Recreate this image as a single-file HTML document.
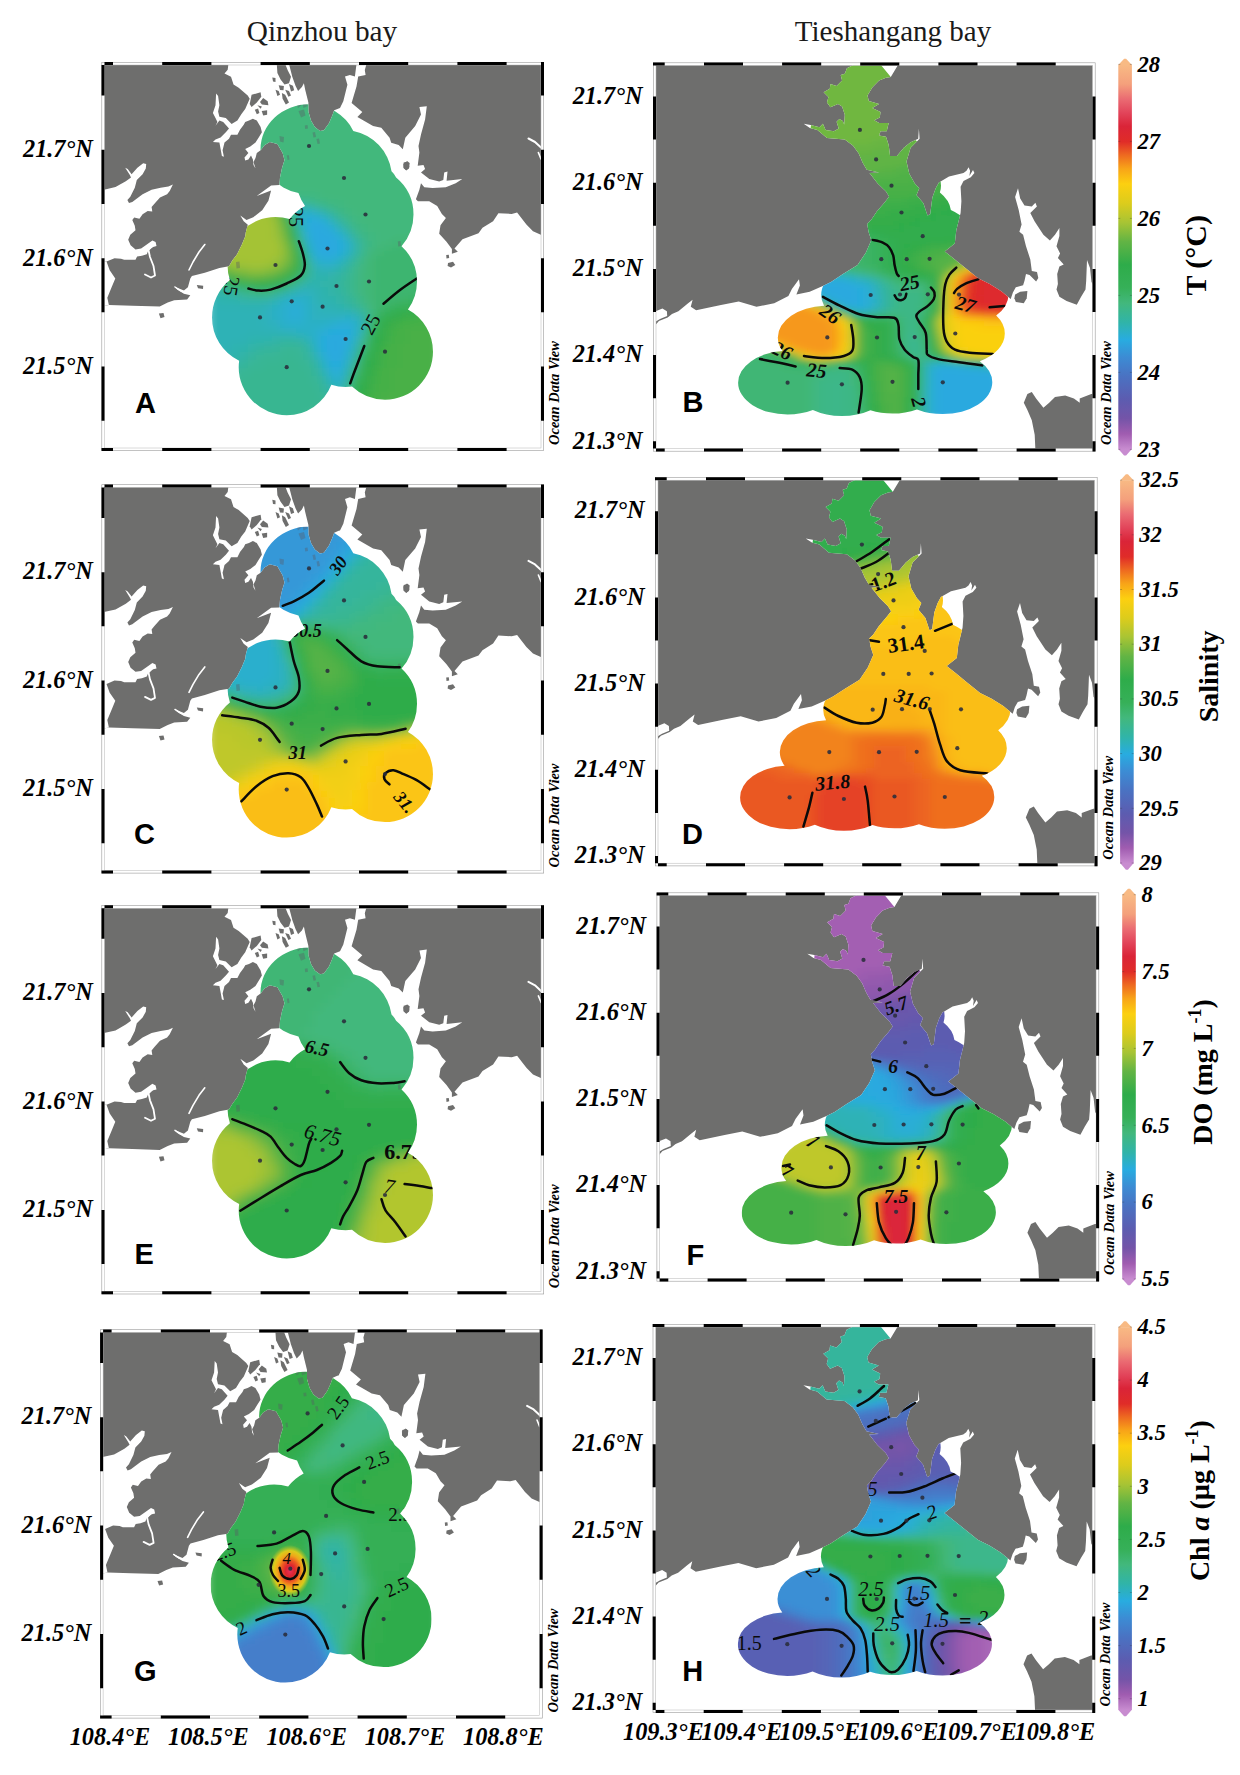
<!DOCTYPE html>
<html><head><meta charset="utf-8"><title>Figure</title>
<style>html,body{margin:0;padding:0;background:#fff}svg{display:block}.s{font-family:"Liberation Serif",serif}.a{font-family:"Liberation Sans",sans-serif;font-weight:bold;font-size:29px}.bi{font-family:"Liberation Serif",serif;font-weight:bold;font-style:italic}.ax{font-family:"Liberation Serif",serif;font-weight:bold;font-style:italic;font-size:24.3px}.odv{font-family:"Liberation Serif",serif;font-weight:bold;font-style:italic;font-size:14.5px}.cl{font-family:"Liberation Serif",serif;font-weight:bold;font-style:italic;font-size:22.6px}.ct{font-family:"Liberation Serif",serif;font-weight:bold;font-size:28px}</style></head><body>
<svg width="1240" height="1775" viewBox="0 0 1240 1775">
<defs>
<linearGradient id="cb" x1="0" y1="0" x2="0" y2="1"><stop offset="0" stop-color="#f8ba84"/><stop offset="0.05" stop-color="#f4a07c"/><stop offset="0.09" stop-color="#ea6a72"/><stop offset="0.125" stop-color="#e2445a"/><stop offset="0.16" stop-color="#da2438"/><stop offset="0.2" stop-color="#e02c28"/><stop offset="0.235" stop-color="#ee6a20"/><stop offset="0.27" stop-color="#f8a418"/><stop offset="0.31" stop-color="#fcd010"/><stop offset="0.36" stop-color="#dccc1c"/><stop offset="0.41" stop-color="#a8c434"/><stop offset="0.46" stop-color="#62b444"/><stop offset="0.52" stop-color="#2eac4a"/><stop offset="0.58" stop-color="#36b058"/><stop offset="0.62" stop-color="#42b87c"/><stop offset="0.67" stop-color="#30b4a8"/><stop offset="0.715" stop-color="#28ace0"/><stop offset="0.76" stop-color="#3c8cd4"/><stop offset="0.81" stop-color="#4a72c2"/><stop offset="0.87" stop-color="#5c5cb0"/><stop offset="0.92" stop-color="#7454a8"/><stop offset="0.96" stop-color="#a05cb0"/><stop offset="1" stop-color="#c88cd0"/></linearGradient>
<filter id="bq" x="-20%" y="-20%" width="140%" height="140%"><feGaussianBlur stdDeviation="5"/></filter>
<filter id="bt" x="-20%" y="-20%" width="140%" height="140%"><feGaussianBlur stdDeviation="5 3.5"/></filter>
<clipPath id="qw"><path d="M104 449 L104 306 L108.9 305 L132.3 305.8 L159.7 306.6 L167.7 302.6 L174.2 300.2 L187.1 299.4 L190.3 295.3 L183.9 293.7 L177.4 289.7 L174.2 286.5 L183.9 290.5 L187.9 287.3 L190.3 278.4 L191.9 276 L204.8 272.7 L219.4 267.9 L229 266.3 L232.3 260.6 L237.1 254.2 L241.9 244.5 L245.2 236.5 L245.8 232.3 L247.8 224.7 L243.7 221.3 L240.3 215.5 L246.5 219.9 L253.3 217.2 L262.2 210.3 L268.4 200.7 L271.1 190.4 L256.7 195.9 L271.1 185.4 L279.4 185 L280 177.4 L282 168 L284.5 160 L282.6 152.9 L277.4 143.9 L269.7 141.9 L264.5 145.2 L260.6 150.3 L256.8 152.9 L255.5 158.1 L253.5 161.9 L255.5 168.4 L253.5 165 L252.9 159.4 L251 155.5 L248.4 159.4 L245.2 160.6 L244.5 157.4 L248.4 152.9 L245.2 149 L250.3 146.5 L255.5 142.6 L258.7 137.4 L261.9 132.3 L260.6 127.1 L256.8 120.6 L252.9 118.7 L249 120.6 L245.2 121.9 L243.9 124.5 L240 129.7 L237.4 134.8 L231 134.8 L229 138.7 L224.5 142.6 L222.6 150.3 L223.9 156.8 L221.9 156.1 L220.6 149 L219.4 142.6 L212.9 141.9 L215.5 139.4 L220.6 137.4 L225.8 132.3 L229 128.4 L223.2 121.9 L219.4 120.6 L215.5 125.8 L217.4 121.9 L215.5 118.1 L212.9 112.9 L215.5 105.2 L216.1 93.5 L218.1 96.1 L219.4 105.2 L218.1 111.6 L219.4 116.8 L225.8 118.1 L231.6 123.9 L237.4 120.6 L241.3 114.2 L245.2 109 L249.7 98.7 L247.7 95.5 L238.7 87.7 L233.5 84.5 L231 76.8 L224.5 73.5 L227.7 69.7 L228.4 64 L276.8 64 L277.4 72.9 L280.6 79.4 L284.5 84.5 L289 83.2 L291 76.8 L287.7 70.3 L285.2 64 L289 64 L292.3 76.8 L295.5 85.8 L298.1 91 L301.9 87.1 L303.9 83.2 L305.2 89.7 L308.4 102.6 L308.4 111.6 L311 120.6 L314.8 127.1 L320 131 L323.9 130.3 L329 123.2 L332.3 115.5 L334.2 110.3 L338.7 108.4 L340 108 L343.3 101.3 L347.4 84.8 L345 76.5 L349.9 74.9 L354.9 76.5 L356.5 64 L366.5 64 L364.8 70 L365.6 74.9 L358.2 76.5 L356.5 86.5 L351.6 103 L362.3 112 L357.4 117 L373.1 126.1 L381.3 127.8 L389.6 137.7 L391.2 142.7 L398.7 145.1 L402.8 149.3 L405.3 137.7 L415.2 126.1 L421 114.6 L419.4 107.1 L426.8 106.3 L425.1 119.5 L421 134.4 L418.5 146 L419.4 152.6 L417.7 165.8 L423.5 165 L425.1 169.1 L421 172.4 L429.3 179 L439.2 181.5 L443.3 179.9 L444.2 172.4 L447.5 171.6 L446.6 180.7 L462.3 179 L455.7 183.2 L445.8 187.3 L432.6 188.1 L424.3 187.3 L421 183.2 L419.3 189.9 L415.9 199.2 L417.9 201.2 L429.2 201.2 L437.2 205.9 L441.9 213.9 L445.9 217.9 L440.5 225.2 L439.2 233.8 L446.5 241.8 L451.9 249.1 L451.9 253.8 L457.8 251.8 L454.5 248.5 L462.5 239.2 L478.5 233.2 L482.5 227.8 L493.1 221.2 L498.4 213.2 L511.7 213.9 L517.1 212.5 L526.4 224.5 L533 231.2 L542 235.2 L542 449Z"/></clipPath>
<clipPath id="tw"><path d="M655 450 L655 325.4 L658.9 321 L667.7 317.4 L672 314 L678.4 311.2 L688.1 303.2 L692.6 299.7 L690.8 306.8 L696.1 310.3 L721 305 L738.7 301.5 L756.5 306.8 L774.2 303.2 L788.4 296.1 L791.9 289 L799 279.3 L799.9 285.5 L796.4 294.4 L809.7 291.7 L823.9 285.5 L831 281.9 L843 274 L857.6 265 L865.8 252.7 L871.3 240.3 L868.6 232.1 L867.2 223.9 L871.3 219.8 L876.8 211.5 L885 201.9 L889.1 196.5 L886 191.6 L877.7 183.4 L869.5 173.1 L879.1 172.4 L866.8 169.7 L862.7 162.8 L858.6 153.2 L853.1 145.7 L844.8 139.5 L827 138.1 L817.4 129.9 L809.9 127.9 L803.7 123.8 L810.6 125.1 L819.5 127.2 L822.9 123.8 L825.6 129.9 L833.9 131.3 L838.7 128.6 L836.6 121.7 L839.4 119 L842.8 121 L844.2 124.4 L844.8 114.8 L842.1 106.6 L838 103.9 L830.4 107.3 L827 102.5 L828.4 97 L823.6 92.2 L829.8 88.8 L830.4 84 L836.6 86 L842.1 80.6 L840.7 75.1 L844.8 73.7 L846.9 68.2 L854.4 64.5 L898.3 64.5 L890.8 77.1 L886 77.8 L879.1 80.6 L872.3 87.4 L867.5 95.6 L868.8 101.1 L879.1 103.9 L872.3 108 L880.5 112.1 L879.8 117.6 L874.3 120.3 L879.1 123.1 L888.7 123.1 L886.7 131.3 L880.5 131.3 L879.1 135.4 L886 136.8 L888.7 145 L890.1 156 L896.9 156 L903.8 147.7 L910.6 142.3 L918.2 138.8 L918.9 128.6 L919.6 138.8 L910.6 147.7 L906.5 161.5 L909.3 173.8 L914.8 183.4 L919.3 188.2 L916.5 195.1 L923.4 203.3 L927.5 215.6 L930.2 214.3 L932.3 197.8 L935.7 188.2 L938.9 182.4 L949 176.6 L963.5 173 L966.5 170.8 L968.6 167.2 L970.1 170.8 L969.4 175.9 L973 170.1 L974.4 173 L970.8 177.3 L963.5 181 L960.6 186.8 L961.4 201.3 L960.6 212.9 L956.3 230.3 L954.8 243.4 L944.7 251.4 L954.8 259.4 L963.5 266.6 L978.1 278.2 L989.7 284 L1001.3 291.3 L1010.7 299 L1012.9 292.4 L1015.8 287.3 L1023.1 285.2 L1024.5 280.8 L1026 273.9 L1029.6 275 L1036.1 281.5 L1038.3 277.9 L1037 272 L1031.8 271 L1030.3 259.4 L1026 246.3 L1023.1 234.7 L1019.4 231.8 L1021.6 224.5 L1018.7 210 L1015.1 196.9 L1018 188.2 L1020.2 198.4 L1024.5 205.6 L1031.8 206.4 L1035.4 202.7 L1036.9 206.4 L1030.3 212.9 L1034.7 221.6 L1043.4 234.7 L1049.9 240.5 L1055 234.7 L1059.4 228.1 L1059.4 236.1 L1056.5 246.3 L1060.1 253.6 L1057.9 257.9 L1063.7 264.4 L1059.4 266.6 L1057.2 273.9 L1057.9 284 L1056.5 289.5 L1059.4 296.8 L1066.6 301.1 L1076.8 304.8 L1081.1 296.8 L1085.5 289.5 L1086.2 280.8 L1087 260 L1090 268 L1091.5 282 L1094 286 L1094 394 L1091.3 394 L1079.7 398.4 L1079.7 402.7 L1073.9 398.4 L1065.2 395.5 L1055 396.9 L1049.2 402.7 L1043.4 407.8 L1036.1 398.4 L1031.8 391.9 L1027.4 394 L1023.8 402.7 L1027.4 410 L1031.8 420.2 L1034.7 434.7 L1035.4 450Z"/></clipPath>
<clipPath id="qb"><ellipse cx="309" cy="149.2" rx="48.5" ry="45"/><circle cx="378" cy="186" r="20"/><circle cx="344" cy="178" r="48"/><circle cx="365.5" cy="214.5" r="48"/><circle cx="327.5" cy="248.5" r="48"/><circle cx="275.5" cy="265" r="48"/><circle cx="336.5" cy="286" r="48"/><circle cx="369" cy="281.5" r="48"/><circle cx="291.7" cy="301.3" r="48"/><circle cx="322.6" cy="306.7" r="48"/><circle cx="260" cy="317.4" r="48"/><circle cx="345.6" cy="339" r="48"/><circle cx="385" cy="351.7" r="48"/><circle cx="286.7" cy="367.2" r="48"/></clipPath>
<clipPath id="qtop"><rect x="100" y="60" width="450" height="400"/></clipPath>
<clipPath id="tb"><ellipse cx="859.9" cy="129.9" rx="49.5" ry="31.8"/><ellipse cx="876.1" cy="159.4" rx="49.5" ry="31.8"/><ellipse cx="891.5" cy="185.7" rx="49.5" ry="31.8"/><ellipse cx="901.5" cy="212.5" rx="49.5" ry="31.8"/><ellipse cx="922.7" cy="236.2" rx="49.5" ry="31.8"/><ellipse cx="881.3" cy="259.2" rx="49.5" ry="31.8"/><ellipse cx="906.7" cy="259.2" rx="49.5" ry="31.8"/><ellipse cx="929.6" cy="258.8" rx="49.5" ry="31.8"/><ellipse cx="870.7" cy="295" rx="49.5" ry="31.8"/><ellipse cx="900" cy="294.5" rx="49.5" ry="31.8"/><ellipse cx="927.8" cy="294.3" rx="49.5" ry="31.8"/><ellipse cx="959" cy="294.6" rx="49.5" ry="31.8"/><ellipse cx="827.3" cy="337.4" rx="49.5" ry="31.8"/><ellipse cx="877" cy="337.5" rx="49.5" ry="31.8"/><ellipse cx="914.7" cy="337.1" rx="49.5" ry="31.8"/><ellipse cx="955.3" cy="333.5" rx="49.5" ry="31.8"/><ellipse cx="787.6" cy="382.7" rx="49.5" ry="31.8"/><ellipse cx="841.9" cy="384.3" rx="49.5" ry="31.8"/><ellipse cx="892.5" cy="381.8" rx="49.5" ry="31.8"/><ellipse cx="942.8" cy="382.3" rx="49.5" ry="31.8"/><path d="M818 60 L880.5 64.5 L890.8 77.1 L897 100 L897 113 L818 113Z"/></clipPath>
<clipPath id="qi"><rect x="104.0" y="64.5" width="437.5" height="384.0"/></clipPath>
<clipPath id="ti"><rect x="655.5" y="65.0" width="437.5" height="384.0"/></clipPath>
<g id="qmap" clip-path="url(#qi)"><rect x="104.0" y="64.5" width="437.5" height="384.0" fill="#6e6e6d"/><path d="M104 449 L104 306 L108.9 305 L132.3 305.8 L159.7 306.6 L167.7 302.6 L174.2 300.2 L187.1 299.4 L190.3 295.3 L183.9 293.7 L177.4 289.7 L174.2 286.5 L183.9 290.5 L187.9 287.3 L190.3 278.4 L191.9 276 L204.8 272.7 L219.4 267.9 L229 266.3 L232.3 260.6 L237.1 254.2 L241.9 244.5 L245.2 236.5 L245.8 232.3 L247.8 224.7 L243.7 221.3 L240.3 215.5 L246.5 219.9 L253.3 217.2 L262.2 210.3 L268.4 200.7 L271.1 190.4 L256.7 195.9 L271.1 185.4 L279.4 185 L280 177.4 L282 168 L284.5 160 L282.6 152.9 L277.4 143.9 L269.7 141.9 L264.5 145.2 L260.6 150.3 L256.8 152.9 L255.5 158.1 L253.5 161.9 L255.5 168.4 L253.5 165 L252.9 159.4 L251 155.5 L248.4 159.4 L245.2 160.6 L244.5 157.4 L248.4 152.9 L245.2 149 L250.3 146.5 L255.5 142.6 L258.7 137.4 L261.9 132.3 L260.6 127.1 L256.8 120.6 L252.9 118.7 L249 120.6 L245.2 121.9 L243.9 124.5 L240 129.7 L237.4 134.8 L231 134.8 L229 138.7 L224.5 142.6 L222.6 150.3 L223.9 156.8 L221.9 156.1 L220.6 149 L219.4 142.6 L212.9 141.9 L215.5 139.4 L220.6 137.4 L225.8 132.3 L229 128.4 L223.2 121.9 L219.4 120.6 L215.5 125.8 L217.4 121.9 L215.5 118.1 L212.9 112.9 L215.5 105.2 L216.1 93.5 L218.1 96.1 L219.4 105.2 L218.1 111.6 L219.4 116.8 L225.8 118.1 L231.6 123.9 L237.4 120.6 L241.3 114.2 L245.2 109 L249.7 98.7 L247.7 95.5 L238.7 87.7 L233.5 84.5 L231 76.8 L224.5 73.5 L227.7 69.7 L228.4 64 L276.8 64 L277.4 72.9 L280.6 79.4 L284.5 84.5 L289 83.2 L291 76.8 L287.7 70.3 L285.2 64 L289 64 L292.3 76.8 L295.5 85.8 L298.1 91 L301.9 87.1 L303.9 83.2 L305.2 89.7 L308.4 102.6 L308.4 111.6 L311 120.6 L314.8 127.1 L320 131 L323.9 130.3 L329 123.2 L332.3 115.5 L334.2 110.3 L338.7 108.4 L340 108 L343.3 101.3 L347.4 84.8 L345 76.5 L349.9 74.9 L354.9 76.5 L356.5 64 L366.5 64 L364.8 70 L365.6 74.9 L358.2 76.5 L356.5 86.5 L351.6 103 L362.3 112 L357.4 117 L373.1 126.1 L381.3 127.8 L389.6 137.7 L391.2 142.7 L398.7 145.1 L402.8 149.3 L405.3 137.7 L415.2 126.1 L421 114.6 L419.4 107.1 L426.8 106.3 L425.1 119.5 L421 134.4 L418.5 146 L419.4 152.6 L417.7 165.8 L423.5 165 L425.1 169.1 L421 172.4 L429.3 179 L439.2 181.5 L443.3 179.9 L444.2 172.4 L447.5 171.6 L446.6 180.7 L462.3 179 L455.7 183.2 L445.8 187.3 L432.6 188.1 L424.3 187.3 L421 183.2 L419.3 189.9 L415.9 199.2 L417.9 201.2 L429.2 201.2 L437.2 205.9 L441.9 213.9 L445.9 217.9 L440.5 225.2 L439.2 233.8 L446.5 241.8 L451.9 249.1 L451.9 253.8 L457.8 251.8 L454.5 248.5 L462.5 239.2 L478.5 233.2 L482.5 227.8 L493.1 221.2 L498.4 213.2 L511.7 213.9 L517.1 212.5 L526.4 224.5 L533 231.2 L542 235.2 L542 449Z" fill="#fff"/><path d="M104 189.7 L115.5 187.1 L125.8 181.3 L131 177.4 L129.7 174.8 L125.2 167.7 L127.7 169 L131.6 174.2 L137.4 167.7 L143.2 163.2 L146.2 163.9 L145.8 168.4 L142.6 174.2 L136.8 180 L134.8 187.7 L130.3 196.8 L127.4 200 L129 203 L132.3 201.9 L142.6 194.2 L151.6 189.7 L160.6 187.7 L168.4 186.5 L172.9 184.5 L169.7 191 L167.1 194.2 L160 197.4 L154.2 203.9 L151.6 207.1 L152.3 211.6 L147.7 211 L142.6 214.2 L139.4 218.7 L134.2 217.4 L132.3 220 L134.8 225.8 L135.5 230.3 L130.3 234.8 L128.2 239.7 L130.6 245.3 L135.5 249.4 L141.1 248.5 L146.8 244.5 L152.4 240.5 L155.6 242.1 L156.5 246.1 L153.2 246.9 L148.4 250.2 L146.8 254.2 L141.9 255.8 L137.1 256.6 L135.5 259.8 L124.2 259.8 L121 258.7 L114.5 258.2 L106.5 261.5 L104 261.5Z" fill="#fff"/><path d="M104 261.5 L106.5 261.5 L109.7 270.3 L115.3 278.4 L111.3 288.1 L107.3 297.7 L108.9 305 L104 306Z" fill="#fff"/><polyline points="152,246 148.5,250 150,257 153.5,266 155,275.5 151,277.5 145,274.5" fill="none" stroke="#fff" stroke-width="1.8" stroke-linecap="round" stroke-linejoin="round"/><polyline points="189,270 193,262 199,252 204.8,244.5" fill="none" stroke="#fff" stroke-width="1.6" stroke-linecap="round" stroke-linejoin="round"/><polyline points="175,287 181,291 186,292" fill="none" stroke="#fff" stroke-width="1.4" stroke-linecap="round" stroke-linejoin="round"/><polyline points="528.5,138.5 535,142 541,147.6" fill="none" stroke="#fff" stroke-width="2.0" stroke-linecap="round" stroke-linejoin="round"/><polyline points="538.4,152.6 541,159" fill="none" stroke="#fff" stroke-width="1.6" stroke-linecap="round" stroke-linejoin="round"/></g>
<g id="qisl" fill="#6e6e6d"><polygon points="251.6,94.8 260.6,92.3 261.3,96.8 256.8,102.6 251.6,107.1 249.7,103.9"/><polygon points="263.2,98.1 267.7,101.3 268.4,105.2 261.9,104.5 260,101.9"/><polygon points="254.8,109.7 258.1,108.4 259.4,112.9 256.8,114.2"/><polygon points="261.7,111 267.1,110.3 267.1,114.8 263.2,115.5"/><polygon points="257.4,105.2 261.9,106.5 260.6,108.8"/><polygon points="272.3,77.4 275.5,78 275.5,81.9 273,81.5"/><polygon points="275.5,89.7 278.7,91 280,94.8 277.4,96.1"/><polygon points="278.7,85.2 283.9,86 283.5,90.3 280,90"/><polygon points="281.9,92.9 285.2,94.8 289,102.6 285.8,104.5 282.6,98.7"/><polygon points="285.2,89.7 289,91 291,95.5 288.4,96.8"/><polygon points="289,83.9 292.9,85.8 294.2,90.3 291,91.6"/><polygon points="403.6,162.5 408,161.5 409.4,167 406.5,170.5 403.8,168"/><polygon points="403.3,164 407,161.2 409.7,163 409,168.5 406,170.3 403.5,168"/><polygon points="446.2,255 448.8,254.8 449.2,258 446.5,258.6"/><polygon points="448,263 453,261.8 455.3,265 451,267.5 447.6,266"/><polygon points="196.8,285 203.2,285.8 203,289 198,288.2"/><polygon points="158.9,313.5 163.5,313 164.5,317 160.5,318.2"/></g>
<g id="qfaint" fill="#5a5a66" opacity="0.38"><polygon points="296,102 300,100.5 301.5,105 298,108"/><polygon points="302,101.5 306.5,100.5 307.5,106 303.5,108"/><polygon points="298.5,111 304,109.5 305.5,115.5 301,117.5"/><polygon points="304.8,125.5 307.5,125 308,128.5 305.2,129"/><polygon points="312.5,132.5 315,132 316,137 313.5,137.5"/><polygon points="316.5,139 319,138.5 320,143.5 317.5,144"/><polygon points="279.5,136 284,137 283.5,142.5 280,141.5"/><polygon points="286.8,155.5 288.8,155 289.5,159.5 287.6,160"/><polygon points="236,262 239.5,261.5 240,268 236.5,268.5"/><polygon points="397.8,241.5 400.5,241 401,246 398.3,246.5"/><polygon points="413.5,206 416,205 416.5,209 414,209.8"/></g>
<g id="qdots" fill="#2a2d3c" opacity="0.88"><circle cx="309" cy="146" r="2.1"/><circle cx="344" cy="178" r="2.1"/><circle cx="365.5" cy="214.5" r="2.1"/><circle cx="327.5" cy="248.5" r="2.1"/><circle cx="275.5" cy="265" r="2.1"/><circle cx="336.5" cy="286" r="2.1"/><circle cx="369" cy="281.5" r="2.1"/><circle cx="291.7" cy="301.3" r="2.1"/><circle cx="322.6" cy="306.7" r="2.1"/><circle cx="260" cy="317.4" r="2.1"/><circle cx="345.6" cy="339" r="2.1"/><circle cx="385" cy="351.7" r="2.1"/><circle cx="286.7" cy="367.2" r="2.1"/></g>
<g id="tmap" clip-path="url(#ti)"><rect x="655.5" y="65.0" width="437.5" height="384.0" fill="#6e6e6d"/><path d="M655 450 L655 325.4 L658.9 321 L667.7 317.4 L672 314 L678.4 311.2 L688.1 303.2 L692.6 299.7 L690.8 306.8 L696.1 310.3 L721 305 L738.7 301.5 L756.5 306.8 L774.2 303.2 L788.4 296.1 L791.9 289 L799 279.3 L799.9 285.5 L796.4 294.4 L809.7 291.7 L823.9 285.5 L831 281.9 L843 274 L857.6 265 L865.8 252.7 L871.3 240.3 L868.6 232.1 L867.2 223.9 L871.3 219.8 L876.8 211.5 L885 201.9 L889.1 196.5 L886 191.6 L877.7 183.4 L869.5 173.1 L879.1 172.4 L866.8 169.7 L862.7 162.8 L858.6 153.2 L853.1 145.7 L844.8 139.5 L827 138.1 L817.4 129.9 L809.9 127.9 L803.7 123.8 L810.6 125.1 L819.5 127.2 L822.9 123.8 L825.6 129.9 L833.9 131.3 L838.7 128.6 L836.6 121.7 L839.4 119 L842.8 121 L844.2 124.4 L844.8 114.8 L842.1 106.6 L838 103.9 L830.4 107.3 L827 102.5 L828.4 97 L823.6 92.2 L829.8 88.8 L830.4 84 L836.6 86 L842.1 80.6 L840.7 75.1 L844.8 73.7 L846.9 68.2 L854.4 64.5 L898.3 64.5 L890.8 77.1 L886 77.8 L879.1 80.6 L872.3 87.4 L867.5 95.6 L868.8 101.1 L879.1 103.9 L872.3 108 L880.5 112.1 L879.8 117.6 L874.3 120.3 L879.1 123.1 L888.7 123.1 L886.7 131.3 L880.5 131.3 L879.1 135.4 L886 136.8 L888.7 145 L890.1 156 L896.9 156 L903.8 147.7 L910.6 142.3 L918.2 138.8 L918.9 128.6 L919.6 138.8 L910.6 147.7 L906.5 161.5 L909.3 173.8 L914.8 183.4 L919.3 188.2 L916.5 195.1 L923.4 203.3 L927.5 215.6 L930.2 214.3 L932.3 197.8 L935.7 188.2 L938.9 182.4 L949 176.6 L963.5 173 L966.5 170.8 L968.6 167.2 L970.1 170.8 L969.4 175.9 L973 170.1 L974.4 173 L970.8 177.3 L963.5 181 L960.6 186.8 L961.4 201.3 L960.6 212.9 L956.3 230.3 L954.8 243.4 L944.7 251.4 L954.8 259.4 L963.5 266.6 L978.1 278.2 L989.7 284 L1001.3 291.3 L1010.7 299 L1012.9 292.4 L1015.8 287.3 L1023.1 285.2 L1024.5 280.8 L1026 273.9 L1029.6 275 L1036.1 281.5 L1038.3 277.9 L1037 272 L1031.8 271 L1030.3 259.4 L1026 246.3 L1023.1 234.7 L1019.4 231.8 L1021.6 224.5 L1018.7 210 L1015.1 196.9 L1018 188.2 L1020.2 198.4 L1024.5 205.6 L1031.8 206.4 L1035.4 202.7 L1036.9 206.4 L1030.3 212.9 L1034.7 221.6 L1043.4 234.7 L1049.9 240.5 L1055 234.7 L1059.4 228.1 L1059.4 236.1 L1056.5 246.3 L1060.1 253.6 L1057.9 257.9 L1063.7 264.4 L1059.4 266.6 L1057.2 273.9 L1057.9 284 L1056.5 289.5 L1059.4 296.8 L1066.6 301.1 L1076.8 304.8 L1081.1 296.8 L1085.5 289.5 L1086.2 280.8 L1087 260 L1090 268 L1091.5 282 L1094 286 L1094 394 L1091.3 394 L1079.7 398.4 L1079.7 402.7 L1073.9 398.4 L1065.2 395.5 L1055 396.9 L1049.2 402.7 L1043.4 407.8 L1036.1 398.4 L1031.8 391.9 L1027.4 394 L1023.8 402.7 L1027.4 410 L1031.8 420.2 L1034.7 434.7 L1035.4 450Z" fill="#fff"/><path d="M655 311.5 L662.4 308.6 L666.9 311.2 L667.2 316 L660 319 L655 322Z" fill="#fff"/></g>
<g id="tisl" fill="#6e6e6d"><polygon points="1015.1,294.6 1020.2,291.7 1027.4,291 1026.7,298.2 1023.8,303.3 1015.8,301.9 1014.4,298.2"/></g>
<g id="tdots" fill="#2a2d3c" opacity="0.88"><circle cx="859.9" cy="129.9" r="2.1"/><circle cx="876.1" cy="159.4" r="2.1"/><circle cx="891.5" cy="185.7" r="2.1"/><circle cx="901.5" cy="212.5" r="2.1"/><circle cx="922.7" cy="236.2" r="2.1"/><circle cx="881.3" cy="259.2" r="2.1"/><circle cx="906.7" cy="259.2" r="2.1"/><circle cx="929.6" cy="258.8" r="2.1"/><circle cx="870.7" cy="295" r="2.1"/><circle cx="900" cy="294.5" r="2.1"/><circle cx="927.8" cy="294.3" r="2.1"/><circle cx="959" cy="294.6" r="2.1"/><circle cx="827.3" cy="337.4" r="2.1"/><circle cx="877" cy="337.5" r="2.1"/><circle cx="914.7" cy="337.1" r="2.1"/><circle cx="955.3" cy="333.5" r="2.1"/><circle cx="787.6" cy="382.7" r="2.1"/><circle cx="841.9" cy="384.3" r="2.1"/><circle cx="892.5" cy="381.8" r="2.1"/><circle cx="942.8" cy="382.3" r="2.1"/></g>
<g id="qframe"><rect x="103" y="63.5" width="439.5" height="386" fill="none" stroke="#fff" stroke-width="3.0"/><rect x="101.8" y="62.3" width="441.9" height="388.4" fill="none" stroke="#9a9a9a" stroke-width="0.6"/><rect x="104.5" y="65" width="436.5" height="383" fill="none" stroke="#b5b5b5" stroke-width="0.5"/><path d="M101.5 62H113V65H101.5ZM101.5 448H113V451H101.5ZM162.2 62H211.4V65H162.2ZM162.2 448H211.4V451H162.2ZM260.6 62H309.8V65H260.6ZM260.6 448H309.8V451H260.6ZM359 62H408.2V65H359ZM359 448H408.2V451H359ZM457.4 62H506.6V65H457.4ZM457.4 448H506.6V451H457.4ZM101.5 62V95.5H104.5V62ZM541 62V95.5H544V62ZM101.5 149.8V203.9H104.5V149.8ZM541 149.8V203.9H544V149.8ZM101.5 258.2V312.3H104.5V258.2ZM541 258.2V312.3H544V258.2ZM101.5 366.6V420.8H104.5V366.6ZM541 366.6V420.8H544V366.6Z" fill="#000"/></g>
<g id="tframe"><rect x="654.5" y="64" width="439.5" height="386" fill="none" stroke="#fff" stroke-width="3.0"/><rect x="653.3" y="62.8" width="441.9" height="388.4" fill="none" stroke="#9a9a9a" stroke-width="0.6"/><rect x="656" y="65.5" width="436.5" height="383" fill="none" stroke="#b5b5b5" stroke-width="0.5"/><path d="M653 62.5H664.7V65.5H653ZM653 448.5H664.7V451.5H653ZM704 62.5H743V65.5H704ZM704 448.5H743V451.5H704ZM782.1 62.5H821.2V65.5H782.1ZM782.1 448.5H821.2V451.5H782.1ZM860.2 62.5H899.3V65.5H860.2ZM860.2 448.5H899.3V451.5H860.2ZM938.4 62.5H977.5V65.5H938.4ZM938.4 448.5H977.5V451.5H938.4ZM1016.6 62.5H1055.7V65.5H1016.6ZM1016.6 448.5H1055.7V451.5H1016.6ZM653 96.5V139.6H656V96.5ZM1092.5 96.5V139.6H1095.5V96.5ZM653 182.7V225.8H656V182.7ZM1092.5 182.7V225.8H1095.5V182.7ZM653 268.9V312H656V268.9ZM1092.5 268.9V312H1095.5V268.9ZM653 355.1V398.2H656V355.1ZM1092.5 355.1V398.2H1095.5V355.1ZM653 441.3V451.5H656V441.3ZM1092.5 441.3V451.5H1095.5V441.3Z" fill="#000"/></g>
</defs>
<rect width="1240" height="1775" fill="#fff"/>
<defs><radialGradient id="hG0"><stop offset="0" stop-color="#e8305a" stop-opacity="1"/><stop offset="0.22" stop-color="#dc2430" stop-opacity="1"/><stop offset="0.42" stop-color="#ec5a22" stop-opacity="1"/><stop offset="0.6" stop-color="#f8a418" stop-opacity="0.95"/><stop offset="0.78" stop-color="#fcd010" stop-opacity="0.8"/><stop offset="1" stop-color="#c8cc20" stop-opacity="0"/></radialGradient></defs>
<g transform="translate(0,0)"><use href="#qmap"/><g clip-path="url(#qw)"><g clip-path="url(#qb)"><g clip-path="url(#qtop)"><g filter="url(#bq)" shape-rendering="crispEdges"><path fill="#42b87b" d="M280 88h56.4v8.4h-56.4zM272 96h72.4v8.4h-72.4zM264 104h88.4v8.4h-88.4zM256 112h104.4v8.4h-104.4zM256 120h112.4v8.4h-112.4zM248 128h136.4v8.4h-136.4zM248 136h144.4v8.4h-144.4zM248 144h144.4v8.4h-144.4zM248 152h152.4v8.4h-152.4zM248 160h152.4v8.4h-152.4zM256 168h152.4v8.4h-152.4zM256 176h160.4v8.4h-160.4zM264 184h152.4v8.4h-152.4zM280 192h8.4v8.4h-8.4zM320 192h104.4v8.4h-104.4zM344 200h80.4v8.4h-80.4zM352 208h72.4v8.4h-72.4zM360 216h64.4v8.4h-64.4zM368 224h56.4v8.4h-56.4zM376 232h48.4v8.4h-48.4zM376 240h16.4v8.4h-16.4zM368 248h8.4v8.4h-8.4zM360 264h8.4v8.4h-8.4zM360 272h8.4v8.4h-8.4zM288 280h8.4v8.4h-8.4zM360 280h8.4v8.4h-8.4zM264 288h8.4v8.4h-8.4zM360 288h8.4v8.4h-8.4zM368 304h8.4v8.4h-8.4zM344 392h8.4v8.4h-8.4z"/><path fill="#3eb570" d="M272 192h8.4v8.4h-8.4zM296 240h8.4v8.4h-8.4zM384 248h40.4v8.4h-40.4zM376 256h48.4v8.4h-48.4zM376 264h48.4v8.4h-48.4zM376 272h56.4v8.4h-56.4zM224 280h8.4v8.4h-8.4zM376 280h56.4v8.4h-56.4zM376 288h40.4v8.4h-40.4zM376 296h16.4v8.4h-16.4zM376 304h8.4v8.4h-8.4z"/><path fill="#40b880" d="M288 192h32.4v8.4h-32.4zM328 200h16.4v8.4h-16.4zM344 208h8.4v8.4h-8.4zM352 216h8.4v8.4h-8.4zM360 224h8.4v8.4h-8.4zM368 232h8.4v8.4h-8.4zM368 240h8.4v8.4h-8.4zM360 256h8.4v8.4h-8.4zM216 280h8.4v8.4h-8.4zM248 288h8.4v8.4h-8.4zM360 296h8.4v8.4h-8.4zM368 312h8.4v8.4h-8.4z"/><path fill="#39b691" d="M288 200h8.4v8.4h-8.4zM296 232h8.4v8.4h-8.4zM360 240h8.4v8.4h-8.4zM208 280h8.4v8.4h-8.4zM344 280h8.4v8.4h-8.4zM352 296h8.4v8.4h-8.4zM280 352h16.4v8.4h-16.4zM264 360h40.4v8.4h-40.4zM248 368h64.4v8.4h-64.4zM232 376h80.4v8.4h-80.4zM232 384h88.4v8.4h-88.4zM232 392h88.4v8.4h-88.4zM240 400h88.4v8.4h-88.4zM248 408h80.4v8.4h-80.4zM256 416h56.4v8.4h-56.4z"/><path fill="#35b59c" d="M296 200h8.4v8.4h-8.4zM336 216h8.4v8.4h-8.4zM344 224h8.4v8.4h-8.4zM344 264h8.4v8.4h-8.4zM296 280h8.4v8.4h-8.4zM336 280h8.4v8.4h-8.4zM280 288h8.4v8.4h-8.4zM344 296h8.4v8.4h-8.4zM352 304h8.4v8.4h-8.4zM360 328h8.4v8.4h-8.4zM264 344h16.4v8.4h-16.4zM248 352h8.4v8.4h-8.4zM304 352h8.4v8.4h-8.4zM352 352h8.4v8.4h-8.4zM240 360h8.4v8.4h-8.4zM224 368h8.4v8.4h-8.4zM312 368h8.4v8.4h-8.4zM344 376h8.4v8.4h-8.4zM320 384h8.4v8.4h-8.4z"/><path fill="#37b696" d="M304 200h8.4v8.4h-8.4zM328 208h8.4v8.4h-8.4zM352 232h8.4v8.4h-8.4zM304 256h8.4v8.4h-8.4zM352 256h8.4v8.4h-8.4zM304 272h8.4v8.4h-8.4zM344 272h8.4v8.4h-8.4zM232 288h8.4v8.4h-8.4zM344 288h8.4v8.4h-8.4zM280 344h24.4v8.4h-24.4zM256 352h24.4v8.4h-24.4zM296 352h8.4v8.4h-8.4zM248 360h16.4v8.4h-16.4zM304 360h8.4v8.4h-8.4zM232 368h16.4v8.4h-16.4zM312 376h8.4v8.4h-8.4zM320 392h8.4v8.4h-8.4zM328 400h8.4v8.4h-8.4z"/><path fill="#3cb78b" d="M312 200h8.4v8.4h-8.4zM288 208h8.4v8.4h-8.4zM344 216h8.4v8.4h-8.4zM360 248h8.4v8.4h-8.4zM304 264h8.4v8.4h-8.4zM352 264h8.4v8.4h-8.4zM240 288h8.4v8.4h-8.4zM360 304h8.4v8.4h-8.4zM360 336h8.4v8.4h-8.4zM352 360h8.4v8.4h-8.4zM344 384h8.4v8.4h-8.4z"/><path fill="#3eb786" d="M320 200h8.4v8.4h-8.4zM336 208h8.4v8.4h-8.4zM352 224h8.4v8.4h-8.4zM360 232h8.4v8.4h-8.4zM352 272h8.4v8.4h-8.4zM352 280h8.4v8.4h-8.4zM272 288h8.4v8.4h-8.4zM352 288h8.4v8.4h-8.4z"/><path fill="#a4c335" d="M248 208h16.4v8.4h-16.4zM232 216h40.4v8.4h-40.4zM232 224h40.4v8.4h-40.4zM224 232h48.4v8.4h-48.4zM216 240h64.4v8.4h-64.4zM216 248h64.4v8.4h-64.4zM224 256h48.4v8.4h-48.4z"/><path fill="#9cc137" d="M264 208h8.4v8.4h-8.4zM272 224h8.4v8.4h-8.4zM272 232h8.4v8.4h-8.4zM216 256h8.4v8.4h-8.4zM272 256h8.4v8.4h-8.4zM248 264h16.4v8.4h-16.4z"/><path fill="#82bb3d" d="M272 208h8.4v8.4h-8.4zM224 264h8.4v8.4h-8.4z"/><path fill="#2fac4a" d="M280 208h8.4v8.4h-8.4zM256 280h8.4v8.4h-8.4zM376 336h8.4v8.4h-8.4zM368 360h8.4v8.4h-8.4zM360 384h8.4v8.4h-8.4z"/><path fill="#2cb0c6" d="M296 208h8.4v8.4h-8.4zM304 240h8.4v8.4h-8.4zM344 248h8.4v8.4h-8.4zM336 256h8.4v8.4h-8.4zM280 296h8.4v8.4h-8.4zM304 296h8.4v8.4h-8.4zM272 304h8.4v8.4h-8.4zM304 304h8.4v8.4h-8.4zM272 312h8.4v8.4h-8.4zM304 312h8.4v8.4h-8.4zM344 312h8.4v8.4h-8.4zM304 320h24.4v8.4h-24.4zM296 328h16.4v8.4h-16.4zM312 344h8.4v8.4h-8.4zM320 360h8.4v8.4h-8.4zM328 376h8.4v8.4h-8.4z"/><path fill="#2bafcd" d="M304 208h8.4v8.4h-8.4zM344 240h8.4v8.4h-8.4zM312 256h8.4v8.4h-8.4zM288 296h16.4v8.4h-16.4zM280 304h8.4v8.4h-8.4zM280 312h8.4v8.4h-8.4zM280 320h24.4v8.4h-24.4zM328 320h8.4v8.4h-8.4zM352 320h8.4v8.4h-8.4zM312 328h8.4v8.4h-8.4zM352 328h8.4v8.4h-8.4zM312 336h8.4v8.4h-8.4zM344 352h8.4v8.4h-8.4zM336 376h8.4v8.4h-8.4z"/><path fill="#2db1be" d="M312 208h8.4v8.4h-8.4zM296 216h8.4v8.4h-8.4zM320 264h16.4v8.4h-16.4zM296 288h16.4v8.4h-16.4zM264 304h8.4v8.4h-8.4zM312 304h8.4v8.4h-8.4zM264 312h8.4v8.4h-8.4zM312 312h32.4v8.4h-32.4zM352 312h8.4v8.4h-8.4zM264 320h16.4v8.4h-16.4zM280 328h16.4v8.4h-16.4zM352 336h8.4v8.4h-8.4zM344 360h8.4v8.4h-8.4zM336 384h8.4v8.4h-8.4z"/><path fill="#30b4a7" d="M320 208h8.4v8.4h-8.4zM296 224h8.4v8.4h-8.4zM352 240h8.4v8.4h-8.4zM352 248h8.4v8.4h-8.4zM328 272h8.4v8.4h-8.4zM320 280h16.4v8.4h-16.4zM216 288h8.4v8.4h-8.4zM328 288h8.4v8.4h-8.4zM240 296h32.4v8.4h-32.4zM336 296h8.4v8.4h-8.4zM344 304h8.4v8.4h-8.4zM360 320h8.4v8.4h-8.4zM272 336h8.4v8.4h-8.4zM296 336h8.4v8.4h-8.4zM248 344h8.4v8.4h-8.4zM240 352h8.4v8.4h-8.4zM224 360h8.4v8.4h-8.4zM336 392h8.4v8.4h-8.4z"/><path fill="#93bf39" d="M272 216h8.4v8.4h-8.4zM280 248h8.4v8.4h-8.4zM232 264h16.4v8.4h-16.4zM264 264h8.4v8.4h-8.4z"/><path fill="#50b146" d="M280 216h8.4v8.4h-8.4zM288 264h8.4v8.4h-8.4z"/><path fill="#3cb46a" d="M288 216h8.4v8.4h-8.4zM296 272h8.4v8.4h-8.4zM416 288h16.4v8.4h-16.4zM392 296h16.4v8.4h-16.4z"/><path fill="#28acdd" d="M304 216h16.4v8.4h-16.4zM304 224h8.4v8.4h-8.4zM336 240h8.4v8.4h-8.4zM312 248h8.4v8.4h-8.4zM336 248h8.4v8.4h-8.4zM328 328h24.4v8.4h-24.4zM320 336h8.4v8.4h-8.4zM344 336h8.4v8.4h-8.4zM320 344h8.4v8.4h-8.4zM328 360h16.4v8.4h-16.4z"/><path fill="#2aaed5" d="M320 216h8.4v8.4h-8.4zM328 224h8.4v8.4h-8.4zM304 232h8.4v8.4h-8.4zM336 232h8.4v8.4h-8.4zM320 256h16.4v8.4h-16.4zM288 304h16.4v8.4h-16.4zM288 312h16.4v8.4h-16.4zM336 320h16.4v8.4h-16.4zM320 328h8.4v8.4h-8.4zM344 344h8.4v8.4h-8.4zM320 352h8.4v8.4h-8.4zM328 368h16.4v8.4h-16.4z"/><path fill="#2eb2b6" d="M328 216h8.4v8.4h-8.4zM336 224h8.4v8.4h-8.4zM344 232h8.4v8.4h-8.4zM312 264h8.4v8.4h-8.4zM312 288h8.4v8.4h-8.4zM208 296h8.4v8.4h-8.4zM272 296h8.4v8.4h-8.4zM312 296h8.4v8.4h-8.4zM208 304h56.4v8.4h-56.4zM320 304h16.4v8.4h-16.4zM208 312h56.4v8.4h-56.4zM208 320h56.4v8.4h-56.4zM208 328h72.4v8.4h-72.4zM208 336h40.4v8.4h-40.4zM304 336h8.4v8.4h-8.4zM208 344h24.4v8.4h-24.4zM216 352h8.4v8.4h-8.4zM312 352h8.4v8.4h-8.4zM320 368h8.4v8.4h-8.4z"/><path fill="#67b543" d="M280 224h8.4v8.4h-8.4zM240 272h8.4v8.4h-8.4zM264 272h8.4v8.4h-8.4z"/><path fill="#34af54" d="M288 224h8.4v8.4h-8.4zM368 336h8.4v8.4h-8.4z"/><path fill="#2aa9df" d="M312 224h16.4v8.4h-16.4zM312 232h24.4v8.4h-24.4zM312 240h24.4v8.4h-24.4zM320 248h16.4v8.4h-16.4zM328 336h16.4v8.4h-16.4zM328 344h16.4v8.4h-16.4zM328 352h16.4v8.4h-16.4z"/><path fill="#79b93f" d="M280 232h8.4v8.4h-8.4z"/><path fill="#2fac4b" d="M288 232h8.4v8.4h-8.4zM264 280h8.4v8.4h-8.4zM392 312h8.4v8.4h-8.4z"/><path fill="#8abd3b" d="M280 240h8.4v8.4h-8.4zM280 256h8.4v8.4h-8.4zM272 264h8.4v8.4h-8.4z"/><path fill="#4ab047" d="M288 240h8.4v8.4h-8.4zM432 320h8.4v8.4h-8.4zM408 328h32.4v8.4h-32.4zM408 336h32.4v8.4h-32.4zM400 344h40.4v8.4h-40.4zM400 352h40.4v8.4h-40.4zM400 360h40.4v8.4h-40.4zM392 368h48.4v8.4h-48.4zM392 376h48.4v8.4h-48.4zM392 384h40.4v8.4h-40.4zM384 392h40.4v8.4h-40.4zM384 400h32.4v8.4h-32.4z"/><path fill="#40b675" d="M392 240h24.4v8.4h-24.4zM376 248h8.4v8.4h-8.4zM368 256h8.4v8.4h-8.4zM368 264h8.4v8.4h-8.4zM368 272h8.4v8.4h-8.4zM368 280h8.4v8.4h-8.4zM256 288h8.4v8.4h-8.4zM368 288h8.4v8.4h-8.4zM368 296h8.4v8.4h-8.4zM368 320h8.4v8.4h-8.4zM360 344h8.4v8.4h-8.4zM352 368h8.4v8.4h-8.4z"/><path fill="#5ab345" d="M288 248h8.4v8.4h-8.4z"/><path fill="#35b057" d="M296 248h8.4v8.4h-8.4zM232 280h8.4v8.4h-8.4z"/><path fill="#2fb3ae" d="M304 248h8.4v8.4h-8.4zM344 256h8.4v8.4h-8.4zM336 264h8.4v8.4h-8.4zM312 272h16.4v8.4h-16.4zM304 280h16.4v8.4h-16.4zM208 288h8.4v8.4h-8.4zM288 288h8.4v8.4h-8.4zM320 288h8.4v8.4h-8.4zM216 296h24.4v8.4h-24.4zM320 296h16.4v8.4h-16.4zM336 304h8.4v8.4h-8.4zM248 336h24.4v8.4h-24.4zM232 344h16.4v8.4h-16.4zM352 344h8.4v8.4h-8.4zM224 352h16.4v8.4h-16.4zM344 368h8.4v8.4h-8.4zM328 384h8.4v8.4h-8.4z"/><path fill="#60b444" d="M288 256h8.4v8.4h-8.4z"/><path fill="#31ae50" d="M296 256h8.4v8.4h-8.4zM288 272h8.4v8.4h-8.4zM368 344h8.4v8.4h-8.4z"/><path fill="#70b741" d="M216 264h8.4v8.4h-8.4zM280 264h8.4v8.4h-8.4zM248 272h16.4v8.4h-16.4z"/><path fill="#32ae51" d="M296 264h8.4v8.4h-8.4zM240 280h8.4v8.4h-8.4zM272 280h8.4v8.4h-8.4zM408 304h8.4v8.4h-8.4zM384 312h8.4v8.4h-8.4zM376 320h8.4v8.4h-8.4zM360 368h8.4v8.4h-8.4zM352 392h8.4v8.4h-8.4z"/><path fill="#30ad4d" d="M216 272h8.4v8.4h-8.4zM248 280h8.4v8.4h-8.4zM376 328h8.4v8.4h-8.4zM368 352h8.4v8.4h-8.4zM360 376h8.4v8.4h-8.4zM352 400h8.4v8.4h-8.4z"/><path fill="#3faf48" d="M224 272h8.4v8.4h-8.4zM280 272h8.4v8.4h-8.4zM416 312h8.4v8.4h-8.4zM392 320h8.4v8.4h-8.4zM384 336h8.4v8.4h-8.4zM376 360h8.4v8.4h-8.4zM368 384h8.4v8.4h-8.4z"/><path fill="#55b246" d="M232 272h8.4v8.4h-8.4zM272 272h8.4v8.4h-8.4z"/><path fill="#33b5a1" d="M336 272h8.4v8.4h-8.4zM224 288h8.4v8.4h-8.4zM336 288h8.4v8.4h-8.4zM360 312h8.4v8.4h-8.4zM280 336h16.4v8.4h-16.4zM256 344h8.4v8.4h-8.4zM304 344h8.4v8.4h-8.4zM232 360h8.4v8.4h-8.4zM312 360h8.4v8.4h-8.4zM320 376h8.4v8.4h-8.4zM328 392h8.4v8.4h-8.4z"/><path fill="#36b059" d="M280 280h8.4v8.4h-8.4zM392 304h8.4v8.4h-8.4zM376 312h8.4v8.4h-8.4z"/><path fill="#3ab364" d="M408 296h8.4v8.4h-8.4zM384 304h8.4v8.4h-8.4zM352 376h8.4v8.4h-8.4z"/><path fill="#38b25f" d="M416 296h8.4v8.4h-8.4zM368 328h8.4v8.4h-8.4zM360 352h8.4v8.4h-8.4z"/><path fill="#34af55" d="M400 304h8.4v8.4h-8.4zM360 360h8.4v8.4h-8.4zM352 384h8.4v8.4h-8.4z"/><path fill="#30ad4e" d="M416 304h8.4v8.4h-8.4z"/><path fill="#35ad49" d="M400 312h8.4v8.4h-8.4zM384 320h8.4v8.4h-8.4zM376 344h8.4v8.4h-8.4zM368 368h8.4v8.4h-8.4zM360 392h8.4v8.4h-8.4z"/><path fill="#3aae49" d="M408 312h8.4v8.4h-8.4zM384 328h8.4v8.4h-8.4zM376 352h8.4v8.4h-8.4zM368 376h8.4v8.4h-8.4zM360 400h8.4v8.4h-8.4z"/><path fill="#45b047" d="M424 312h8.4v8.4h-8.4zM400 320h32.4v8.4h-32.4zM392 328h16.4v8.4h-16.4zM392 336h16.4v8.4h-16.4zM384 344h16.4v8.4h-16.4zM384 352h16.4v8.4h-16.4zM384 360h16.4v8.4h-16.4zM376 368h16.4v8.4h-16.4zM376 376h16.4v8.4h-16.4zM376 384h16.4v8.4h-16.4zM368 392h16.4v8.4h-16.4zM368 400h16.4v8.4h-16.4z"/></g><use href="#qfaint"/><g fill="none" stroke="#0a0a0a" stroke-width="2.5" stroke-linecap="round" stroke-linejoin="round"><path d="M298.8 241.2C299.5 243.2 301.8 249.3 302.8 253.3C303.8 257.3 305.1 261.7 304.8 265.4C304.5 269.1 303.8 272.5 300.8 275.5C297.8 278.5 291.7 281.1 286.7 283.5C281.7 285.9 275.3 288.4 270.6 289.6C265.9 290.8 262.2 290.8 258.5 290.6C254.8 290.4 250.1 288.9 248.4 288.6"/><path d="M416.7 278.5C413.9 280.4 405.5 285.8 400 290C394.5 294.2 386.2 301.4 383.5 303.7"/><path d="M364.3 346C363.1 349.2 359.4 358.8 357 365C354.6 371.2 351.3 380.2 350.2 383.3"/></g><g class="s" fill="#0a0a0a" text-anchor="middle"><text transform="translate(295.5,217) rotate(90)" y="6.6" style="font-size:20px;">25</text><text transform="translate(231.5,286) rotate(100)" y="6.6" style="font-size:20px;">25</text><text transform="translate(370.6,324.4) rotate(-62)" y="6.6" style="font-size:20px;">25</text></g></g></g></g><use href="#qisl"/><use href="#qdots"/><use href="#qframe"/><text class="odv" transform="translate(559,445) rotate(-90)">Ocean Data View</text><text class="ax" text-anchor="end" x="92.8" y="157.1">21.7°N</text><text class="ax" text-anchor="end" x="92.8" y="265.6">21.6°N</text><text class="ax" text-anchor="end" x="92.8" y="373.9">21.5°N</text></g>
<g transform="translate(0,0)"><use href="#tmap"/><g clip-path="url(#tw)"><g clip-path="url(#tb)"><g filter="url(#bt)" shape-rendering="crispEdges"><path fill="#70b741" d="M800 56h104.4v5.9h-104.4zM800 61.5h104.4v5.9h-104.4zM800 67h104.4v5.9h-104.4zM800 72.5h104.4v5.9h-104.4zM800 78h104.4v5.9h-104.4zM800 83.5h104.4v5.9h-104.4zM800 89h104.4v5.9h-104.4zM800 94.5h104.4v5.9h-104.4zM800 100h104.4v5.9h-104.4zM800 105.5h112.4v5.9h-112.4zM800 111h120.4v5.9h-120.4zM800 116.5h120.4v5.9h-120.4zM800 122h120.4v5.9h-120.4zM800 127.5h120.4v5.9h-120.4zM800 133h96.4v5.9h-96.4zM800 138.5h72.4v5.9h-72.4zM808 144h40.4v5.9h-40.4zM808 149.5h16.4v5.9h-16.4zM808 358.5h8.4v5.9h-8.4z"/><path fill="#67b543" d="M896 133h32.4v5.9h-32.4zM872 138.5h48.4v5.9h-48.4zM848 144h48.4v5.9h-48.4zM824 149.5h48.4v5.9h-48.4zM816 155h32.4v5.9h-32.4zM816 160.5h8.4v5.9h-8.4zM976 254h8.4v5.9h-8.4zM960 259.5h8.4v5.9h-8.4zM936 309h8.4v5.9h-8.4z"/><path fill="#60b444" d="M920 138.5h8.4v5.9h-8.4zM896 144h40.4v5.9h-40.4zM872 149.5h64.4v5.9h-64.4zM848 155h80.4v5.9h-80.4zM824 160.5h80.4v5.9h-80.4zM816 166h64.4v5.9h-64.4zM816 171.5h40.4v5.9h-40.4zM824 177h8.4v5.9h-8.4zM944 265h8.4v5.9h-8.4zM944 353h8.4v5.9h-8.4z"/><path fill="#5ab345" d="M928 155h8.4v5.9h-8.4zM904 160.5h16.4v5.9h-16.4zM880 166h16.4v5.9h-16.4zM856 171.5h16.4v5.9h-16.4zM832 177h24.4v5.9h-24.4zM984 248.5h8.4v5.9h-8.4zM960 254h16.4v5.9h-16.4zM952 259.5h8.4v5.9h-8.4zM856 325.5h8.4v5.9h-8.4zM856 331h8.4v5.9h-8.4zM856 336.5h8.4v5.9h-8.4zM856 342h8.4v5.9h-8.4zM856 347.5h8.4v5.9h-8.4zM936 347.5h8.4v5.9h-8.4z"/><path fill="#55b246" d="M920 160.5h16.4v5.9h-16.4zM896 166h16.4v5.9h-16.4zM872 171.5h24.4v5.9h-24.4zM856 177h16.4v5.9h-16.4zM832 182.5h16.4v5.9h-16.4zM968 248.5h16.4v5.9h-16.4zM944 254h16.4v5.9h-16.4zM936 259.5h16.4v5.9h-16.4zM936 265h8.4v5.9h-8.4zM936 303.5h8.4v5.9h-8.4zM832 358.5h8.4v5.9h-8.4zM888 369.5h8.4v5.9h-8.4zM888 375h8.4v5.9h-8.4zM888 380.5h8.4v5.9h-8.4zM888 386h8.4v5.9h-8.4z"/><path fill="#50b146" d="M936 160.5h8.4v5.9h-8.4zM912 166h32.4v5.9h-32.4zM896 171.5h40.4v5.9h-40.4zM872 177h40.4v5.9h-40.4zM848 182.5h32.4v5.9h-32.4zM832 188h24.4v5.9h-24.4zM952 248.5h16.4v5.9h-16.4zM936 254h8.4v5.9h-8.4zM928 259.5h8.4v5.9h-8.4zM936 270.5h8.4v5.9h-8.4zM936 276h8.4v5.9h-8.4zM936 281.5h8.4v5.9h-8.4zM936 287h8.4v5.9h-8.4zM936 292.5h8.4v5.9h-8.4zM808 298h8.4v5.9h-8.4zM936 298h8.4v5.9h-8.4zM856 353h8.4v5.9h-8.4zM984 358.5h8.4v5.9h-8.4zM880 364h16.4v5.9h-16.4zM880 369.5h8.4v5.9h-8.4zM896 369.5h8.4v5.9h-8.4zM880 375h8.4v5.9h-8.4zM896 375h8.4v5.9h-8.4zM880 380.5h8.4v5.9h-8.4zM896 380.5h8.4v5.9h-8.4zM880 386h8.4v5.9h-8.4zM896 386h8.4v5.9h-8.4zM880 391.5h24.4v5.9h-24.4zM880 397h24.4v5.9h-24.4zM888 402.5h16.4v5.9h-16.4zM888 408h16.4v5.9h-16.4zM888 413.5h16.4v5.9h-16.4z"/><path fill="#4ab047" d="M936 171.5h16.4v5.9h-16.4zM912 177h40.4v5.9h-40.4zM880 182.5h72.4v5.9h-72.4zM856 188h64.4v5.9h-64.4zM832 193.5h48.4v5.9h-48.4zM832 199h16.4v5.9h-16.4zM976 243h8.4v5.9h-8.4zM936 248.5h16.4v5.9h-16.4zM928 254h8.4v5.9h-8.4zM920 259.5h8.4v5.9h-8.4zM928 265h8.4v5.9h-8.4zM856 320h8.4v5.9h-8.4zM896 364h8.4v5.9h-8.4zM880 402.5h8.4v5.9h-8.4zM880 408h8.4v5.9h-8.4zM880 413.5h8.4v5.9h-8.4z"/><path fill="#45b047" d="M920 188h24.4v5.9h-24.4zM880 193.5h32.4v5.9h-32.4zM848 199h32.4v5.9h-32.4zM960 243h16.4v5.9h-16.4zM928 248.5h8.4v5.9h-8.4zM920 254h8.4v5.9h-8.4zM920 265h8.4v5.9h-8.4zM928 320h8.4v5.9h-8.4zM872 364h8.4v5.9h-8.4zM872 369.5h8.4v5.9h-8.4zM872 375h8.4v5.9h-8.4z"/><path fill="#3faf48" d="M944 188h8.4v5.9h-8.4zM912 193.5h24.4v5.9h-24.4zM880 199h24.4v5.9h-24.4zM840 204.5h32.4v5.9h-32.4zM944 243h16.4v5.9h-16.4zM920 248.5h8.4v5.9h-8.4zM912 254h8.4v5.9h-8.4zM912 259.5h8.4v5.9h-8.4zM864 331h8.4v5.9h-8.4zM864 336.5h8.4v5.9h-8.4zM864 342h8.4v5.9h-8.4zM864 347.5h8.4v5.9h-8.4zM872 358.5h16.4v5.9h-16.4zM872 380.5h8.4v5.9h-8.4zM872 386h8.4v5.9h-8.4z"/><path fill="#3aae49" d="M936 193.5h24.4v5.9h-24.4zM904 199h32.4v5.9h-32.4zM872 204.5h40.4v5.9h-40.4zM840 210h48.4v5.9h-48.4zM976 237.5h8.4v5.9h-8.4zM928 243h16.4v5.9h-16.4zM912 248.5h8.4v5.9h-8.4zM912 265h8.4v5.9h-8.4zM928 270.5h8.4v5.9h-8.4zM848 314.5h8.4v5.9h-8.4zM864 325.5h8.4v5.9h-8.4zM928 325.5h8.4v5.9h-8.4zM864 353h8.4v5.9h-8.4zM888 358.5h8.4v5.9h-8.4zM904 369.5h8.4v5.9h-8.4zM904 375h8.4v5.9h-8.4zM904 380.5h8.4v5.9h-8.4zM904 386h8.4v5.9h-8.4zM872 391.5h8.4v5.9h-8.4zM904 391.5h8.4v5.9h-8.4zM872 397h8.4v5.9h-8.4z"/><path fill="#35ad49" d="M936 199h24.4v5.9h-24.4zM912 204.5h32.4v5.9h-32.4zM888 210h40.4v5.9h-40.4zM840 215.5h72.4v5.9h-72.4zM856 221h40.4v5.9h-40.4zM960 237.5h16.4v5.9h-16.4zM920 243h8.4v5.9h-8.4zM904 254h8.4v5.9h-8.4zM904 259.5h8.4v5.9h-8.4zM928 314.5h8.4v5.9h-8.4zM872 331h8.4v5.9h-8.4zM872 336.5h8.4v5.9h-8.4zM872 342h8.4v5.9h-8.4zM872 347.5h8.4v5.9h-8.4zM872 353h8.4v5.9h-8.4zM840 358.5h8.4v5.9h-8.4zM864 358.5h8.4v5.9h-8.4zM904 364h8.4v5.9h-8.4zM904 397h8.4v5.9h-8.4zM872 402.5h8.4v5.9h-8.4zM904 402.5h8.4v5.9h-8.4zM872 408h8.4v5.9h-8.4zM904 408h8.4v5.9h-8.4zM904 413.5h8.4v5.9h-8.4z"/><path fill="#2fac4a" d="M944 204.5h8.4v5.9h-8.4zM928 210h8.4v5.9h-8.4zM912 215.5h8.4v5.9h-8.4zM848 221h8.4v5.9h-8.4zM896 221h16.4v5.9h-16.4zM944 237.5h16.4v5.9h-16.4zM912 243h8.4v5.9h-8.4zM904 248.5h8.4v5.9h-8.4zM904 265h8.4v5.9h-8.4zM920 270.5h8.4v5.9h-8.4zM864 320h8.4v5.9h-8.4zM872 325.5h8.4v5.9h-8.4zM928 331h8.4v5.9h-8.4zM976 358.5h8.4v5.9h-8.4zM872 413.5h8.4v5.9h-8.4z"/><path fill="#2fac4b" d="M952 204.5h8.4v5.9h-8.4zM936 210h16.4v5.9h-16.4zM920 215.5h16.4v5.9h-16.4zM840 221h8.4v5.9h-8.4zM912 221h8.4v5.9h-8.4zM872 226.5h32.4v5.9h-32.4zM968 232h16.4v5.9h-16.4zM920 237.5h24.4v5.9h-24.4zM904 243h8.4v5.9h-8.4zM912 270.5h8.4v5.9h-8.4zM784 353h8.4v5.9h-8.4zM880 353h8.4v5.9h-8.4zM800 358.5h8.4v5.9h-8.4zM896 358.5h8.4v5.9h-8.4z"/><path fill="#30ad4d" d="M960 204.5h8.4v5.9h-8.4zM952 210h8.4v5.9h-8.4zM936 215.5h8.4v5.9h-8.4zM920 221h16.4v5.9h-16.4zM864 226.5h8.4v5.9h-8.4zM904 226.5h16.4v5.9h-16.4zM896 232h24.4v5.9h-24.4zM928 232h40.4v5.9h-40.4zM904 237.5h16.4v5.9h-16.4zM896 248.5h8.4v5.9h-8.4zM896 254h8.4v5.9h-8.4zM872 320h8.4v5.9h-8.4zM880 325.5h8.4v5.9h-8.4zM880 331h8.4v5.9h-8.4zM880 336.5h8.4v5.9h-8.4zM880 342h8.4v5.9h-8.4zM880 347.5h8.4v5.9h-8.4zM936 353h8.4v5.9h-8.4zM864 364h8.4v5.9h-8.4z"/><path fill="#30ad4e" d="M960 210h16.4v5.9h-16.4zM944 215.5h32.4v5.9h-32.4zM936 221h48.4v5.9h-48.4zM920 226.5h64.4v5.9h-64.4zM888 232h8.4v5.9h-8.4zM920 232h8.4v5.9h-8.4zM896 237.5h8.4v5.9h-8.4zM896 243h8.4v5.9h-8.4zM896 259.5h8.4v5.9h-8.4zM896 265h8.4v5.9h-8.4zM904 270.5h8.4v5.9h-8.4zM824 303.5h8.4v5.9h-8.4zM928 336.5h8.4v5.9h-8.4zM768 347.5h8.4v5.9h-8.4zM848 358.5h16.4v5.9h-16.4zM864 369.5h8.4v5.9h-8.4z"/><path fill="#35b057" d="M840 226.5h8.4v5.9h-8.4zM864 232h8.4v5.9h-8.4zM880 243h8.4v5.9h-8.4zM880 248.5h8.4v5.9h-8.4zM880 254h8.4v5.9h-8.4zM880 259.5h8.4v5.9h-8.4zM880 265h8.4v5.9h-8.4zM888 270.5h8.4v5.9h-8.4zM920 276h8.4v5.9h-8.4zM928 287h8.4v5.9h-8.4zM928 292.5h8.4v5.9h-8.4zM928 298h8.4v5.9h-8.4zM856 314.5h8.4v5.9h-8.4zM888 320h8.4v5.9h-8.4zM912 369.5h8.4v5.9h-8.4zM912 375h8.4v5.9h-8.4zM864 408h8.4v5.9h-8.4z"/><path fill="#33ae52" d="M848 226.5h8.4v5.9h-8.4zM888 243h8.4v5.9h-8.4zM888 248.5h8.4v5.9h-8.4zM888 254h8.4v5.9h-8.4zM888 259.5h8.4v5.9h-8.4zM888 265h8.4v5.9h-8.4zM896 270.5h8.4v5.9h-8.4zM928 309h8.4v5.9h-8.4zM904 358.5h8.4v5.9h-8.4zM968 358.5h8.4v5.9h-8.4zM864 386h8.4v5.9h-8.4zM864 391.5h8.4v5.9h-8.4z"/><path fill="#31ae50" d="M856 226.5h8.4v5.9h-8.4zM880 232h8.4v5.9h-8.4zM880 320h8.4v5.9h-8.4zM864 375h8.4v5.9h-8.4z"/><path fill="#3cb46a" d="M832 232h8.4v5.9h-8.4zM824 237.5h32.4v5.9h-32.4zM824 243h32.4v5.9h-32.4zM824 248.5h40.4v5.9h-40.4zM816 254h48.4v5.9h-48.4zM840 259.5h24.4v5.9h-24.4zM864 265h8.4v5.9h-8.4zM888 314.5h8.4v5.9h-8.4zM752 347.5h8.4v5.9h-8.4zM896 347.5h8.4v5.9h-8.4zM768 353h8.4v5.9h-8.4zM928 353h8.4v5.9h-8.4zM784 358.5h8.4v5.9h-8.4zM800 364h8.4v5.9h-8.4zM824 364h8.4v5.9h-8.4zM856 375h8.4v5.9h-8.4z"/><path fill="#3ab364" d="M840 232h16.4v5.9h-16.4zM856 237.5h16.4v5.9h-16.4zM856 243h16.4v5.9h-16.4zM864 248.5h8.4v5.9h-8.4zM864 254h8.4v5.9h-8.4zM864 259.5h8.4v5.9h-8.4zM872 265h8.4v5.9h-8.4zM880 270.5h8.4v5.9h-8.4zM896 276h8.4v5.9h-8.4zM864 314.5h24.4v5.9h-24.4zM920 314.5h8.4v5.9h-8.4zM920 325.5h8.4v5.9h-8.4zM960 358.5h8.4v5.9h-8.4zM808 364h8.4v5.9h-8.4zM856 369.5h8.4v5.9h-8.4z"/><path fill="#38b25f" d="M856 232h8.4v5.9h-8.4zM872 243h8.4v5.9h-8.4zM872 248.5h8.4v5.9h-8.4zM872 254h8.4v5.9h-8.4zM872 259.5h8.4v5.9h-8.4zM904 276h8.4v5.9h-8.4zM840 309h8.4v5.9h-8.4zM920 320h8.4v5.9h-8.4zM896 353h8.4v5.9h-8.4zM816 364h8.4v5.9h-8.4zM856 364h8.4v5.9h-8.4zM912 402.5h8.4v5.9h-8.4zM912 408h8.4v5.9h-8.4zM912 413.5h8.4v5.9h-8.4z"/><path fill="#34af54" d="M872 232h8.4v5.9h-8.4zM888 331h8.4v5.9h-8.4zM888 336.5h8.4v5.9h-8.4zM888 342h8.4v5.9h-8.4zM888 347.5h8.4v5.9h-8.4zM864 397h8.4v5.9h-8.4z"/><path fill="#36b059" d="M872 237.5h8.4v5.9h-8.4zM912 276h8.4v5.9h-8.4zM760 347.5h8.4v5.9h-8.4zM776 353h8.4v5.9h-8.4zM792 358.5h8.4v5.9h-8.4zM912 364h8.4v5.9h-8.4zM912 380.5h8.4v5.9h-8.4zM912 386h8.4v5.9h-8.4zM912 391.5h8.4v5.9h-8.4zM912 397h8.4v5.9h-8.4zM864 413.5h8.4v5.9h-8.4z"/><path fill="#34af55" d="M880 237.5h8.4v5.9h-8.4zM928 281.5h8.4v5.9h-8.4zM928 303.5h8.4v5.9h-8.4zM888 325.5h8.4v5.9h-8.4zM928 347.5h8.4v5.9h-8.4zM864 402.5h8.4v5.9h-8.4z"/><path fill="#32ae51" d="M888 237.5h8.4v5.9h-8.4zM928 276h8.4v5.9h-8.4zM928 342h8.4v5.9h-8.4zM888 353h8.4v5.9h-8.4zM864 380.5h8.4v5.9h-8.4z"/><path fill="#8abd3b" d="M984 254h8.4v5.9h-8.4zM968 259.5h8.4v5.9h-8.4zM944 270.5h8.4v5.9h-8.4zM936 336.5h8.4v5.9h-8.4zM792 353h8.4v5.9h-8.4z"/><path fill="#3eb570" d="M816 259.5h24.4v5.9h-24.4zM856 265h8.4v5.9h-8.4zM896 325.5h8.4v5.9h-8.4zM896 331h8.4v5.9h-8.4zM920 331h8.4v5.9h-8.4zM896 336.5h8.4v5.9h-8.4zM896 342h8.4v5.9h-8.4zM752 353h16.4v5.9h-16.4zM768 358.5h16.4v5.9h-16.4zM912 358.5h8.4v5.9h-8.4zM784 364h16.4v5.9h-16.4zM856 380.5h8.4v5.9h-8.4zM856 386h8.4v5.9h-8.4z"/><path fill="#c6c926" d="M976 259.5h8.4v5.9h-8.4zM840 314.5h8.4v5.9h-8.4zM848 331h8.4v5.9h-8.4zM848 336.5h8.4v5.9h-8.4zM848 342h8.4v5.9h-8.4zM944 347.5h8.4v5.9h-8.4z"/><path fill="#f6cf12" d="M984 259.5h8.4v5.9h-8.4zM952 320h8.4v5.9h-8.4zM952 325.5h8.4v5.9h-8.4zM952 331h8.4v5.9h-8.4zM960 347.5h8.4v5.9h-8.4zM1000 353h8.4v5.9h-8.4z"/><path fill="#40b880" d="M824 265h8.4v5.9h-8.4zM864 270.5h8.4v5.9h-8.4zM912 281.5h8.4v5.9h-8.4zM904 287h8.4v5.9h-8.4zM920 292.5h8.4v5.9h-8.4zM920 298h8.4v5.9h-8.4zM920 347.5h8.4v5.9h-8.4zM952 358.5h8.4v5.9h-8.4zM816 369.5h8.4v5.9h-8.4zM848 369.5h8.4v5.9h-8.4zM816 375h8.4v5.9h-8.4zM848 375h8.4v5.9h-8.4zM848 380.5h8.4v5.9h-8.4zM808 413.5h8.4v5.9h-8.4z"/><path fill="#42b87b" d="M832 265h16.4v5.9h-16.4zM896 281.5h16.4v5.9h-16.4zM920 287h8.4v5.9h-8.4zM816 298h8.4v5.9h-8.4zM920 303.5h8.4v5.9h-8.4zM896 314.5h8.4v5.9h-8.4zM920 342h8.4v5.9h-8.4zM904 353h8.4v5.9h-8.4zM840 364h8.4v5.9h-8.4zM808 375h8.4v5.9h-8.4zM808 380.5h8.4v5.9h-8.4zM808 386h8.4v5.9h-8.4zM808 391.5h8.4v5.9h-8.4zM808 397h8.4v5.9h-8.4zM808 402.5h8.4v5.9h-8.4zM808 408h8.4v5.9h-8.4zM856 408h8.4v5.9h-8.4zM856 413.5h8.4v5.9h-8.4zM856 419h8.4v5.9h-8.4z"/><path fill="#40b675" d="M848 265h8.4v5.9h-8.4zM872 270.5h8.4v5.9h-8.4zM888 276h8.4v5.9h-8.4zM920 281.5h8.4v5.9h-8.4zM920 309h8.4v5.9h-8.4zM896 320h8.4v5.9h-8.4zM920 336.5h8.4v5.9h-8.4zM744 353h8.4v5.9h-8.4zM736 358.5h32.4v5.9h-32.4zM728 364h56.4v5.9h-56.4zM832 364h8.4v5.9h-8.4zM848 364h8.4v5.9h-8.4zM728 369.5h88.4v5.9h-88.4zM728 375h80.4v5.9h-80.4zM728 380.5h80.4v5.9h-80.4zM728 386h80.4v5.9h-80.4zM728 391.5h80.4v5.9h-80.4zM856 391.5h8.4v5.9h-8.4zM736 397h72.4v5.9h-72.4zM856 397h8.4v5.9h-8.4zM736 402.5h72.4v5.9h-72.4zM856 402.5h8.4v5.9h-8.4zM744 408h64.4v5.9h-64.4zM752 413.5h56.4v5.9h-56.4zM776 419h24.4v5.9h-24.4z"/><path fill="#82bb3d" d="M952 265h8.4v5.9h-8.4zM776 347.5h8.4v5.9h-8.4zM824 358.5h8.4v5.9h-8.4z"/><path fill="#bfc829" d="M960 265h8.4v5.9h-8.4zM944 276h8.4v5.9h-8.4zM848 325.5h8.4v5.9h-8.4zM848 347.5h8.4v5.9h-8.4z"/><path fill="#f2cf14" d="M968 265h8.4v5.9h-8.4zM952 336.5h8.4v5.9h-8.4zM952 342h8.4v5.9h-8.4zM992 353h8.4v5.9h-8.4z"/><path fill="#f6981a" d="M976 265h8.4v5.9h-8.4zM792 303.5h8.4v5.9h-8.4zM784 309h32.4v5.9h-32.4zM776 314.5h48.4v5.9h-48.4zM1000 314.5h8.4v5.9h-8.4zM768 320h64.4v5.9h-64.4zM768 325.5h64.4v5.9h-64.4zM768 331h64.4v5.9h-64.4zM776 336.5h56.4v5.9h-56.4zM792 342h40.4v5.9h-40.4zM808 347.5h24.4v5.9h-24.4z"/><path fill="#e84d24" d="M984 265h8.4v5.9h-8.4zM960 292.5h8.4v5.9h-8.4zM960 298h8.4v5.9h-8.4zM976 309h8.4v5.9h-8.4z"/><path fill="#e02c28" d="M992 265h8.4v5.9h-8.4zM968 281.5h8.4v5.9h-8.4zM968 287h8.4v5.9h-8.4zM968 292.5h8.4v5.9h-8.4zM968 298h8.4v5.9h-8.4z"/><path fill="#df2b2a" d="M1000 265h8.4v5.9h-8.4zM984 270.5h8.4v5.9h-8.4zM976 276h8.4v5.9h-8.4zM976 281.5h8.4v5.9h-8.4zM976 287h8.4v5.9h-8.4zM976 298h8.4v5.9h-8.4zM976 303.5h16.4v5.9h-16.4z"/><path fill="#2db1be" d="M816 270.5h8.4v5.9h-8.4zM856 276h8.4v5.9h-8.4zM872 287h8.4v5.9h-8.4zM872 292.5h8.4v5.9h-8.4zM824 298h8.4v5.9h-8.4zM872 303.5h8.4v5.9h-8.4zM856 309h8.4v5.9h-8.4z"/><path fill="#2eb2b6" d="M824 270.5h8.4v5.9h-8.4zM872 281.5h8.4v5.9h-8.4zM864 309h8.4v5.9h-8.4zM984 364h8.4v5.9h-8.4z"/><path fill="#30b4a7" d="M832 270.5h8.4v5.9h-8.4zM808 292.5h8.4v5.9h-8.4zM880 292.5h8.4v5.9h-8.4zM880 298h8.4v5.9h-8.4zM880 303.5h8.4v5.9h-8.4zM872 309h8.4v5.9h-8.4zM928 358.5h16.4v5.9h-16.4zM920 386h8.4v5.9h-8.4zM920 391.5h8.4v5.9h-8.4zM920 397h8.4v5.9h-8.4zM920 402.5h8.4v5.9h-8.4zM920 408h8.4v5.9h-8.4z"/><path fill="#33b5a1" d="M840 270.5h8.4v5.9h-8.4zM880 287h8.4v5.9h-8.4zM848 309h8.4v5.9h-8.4zM920 364h8.4v5.9h-8.4zM992 364h8.4v5.9h-8.4zM920 369.5h8.4v5.9h-8.4zM920 375h8.4v5.9h-8.4zM920 380.5h8.4v5.9h-8.4z"/><path fill="#37b696" d="M848 270.5h8.4v5.9h-8.4zM880 309h8.4v5.9h-8.4zM920 358.5h8.4v5.9h-8.4zM944 358.5h8.4v5.9h-8.4z"/><path fill="#3cb78b" d="M856 270.5h8.4v5.9h-8.4zM888 281.5h8.4v5.9h-8.4zM888 309h8.4v5.9h-8.4zM904 331h16.4v5.9h-16.4zM904 336.5h16.4v5.9h-16.4zM904 342h8.4v5.9h-8.4zM912 353h8.4v5.9h-8.4zM832 380.5h8.4v5.9h-8.4zM832 386h8.4v5.9h-8.4zM832 391.5h8.4v5.9h-8.4zM832 397h8.4v5.9h-8.4zM832 402.5h8.4v5.9h-8.4zM832 408h8.4v5.9h-8.4zM832 413.5h8.4v5.9h-8.4zM832 419h8.4v5.9h-8.4z"/><path fill="#decc1b" d="M952 270.5h8.4v5.9h-8.4zM944 303.5h8.4v5.9h-8.4zM944 336.5h8.4v5.9h-8.4zM968 353h8.4v5.9h-8.4z"/><path fill="#f9b016" d="M960 270.5h8.4v5.9h-8.4zM816 309h8.4v5.9h-8.4zM952 309h8.4v5.9h-8.4zM968 314.5h8.4v5.9h-8.4zM816 353h8.4v5.9h-8.4z"/><path fill="#ec6321" d="M968 270.5h8.4v5.9h-8.4z"/><path fill="#e23727" d="M976 270.5h8.4v5.9h-8.4zM968 276h8.4v5.9h-8.4zM968 303.5h8.4v5.9h-8.4zM1000 309h16.4v5.9h-16.4z"/><path fill="#de2a2d" d="M992 270.5h16.4v5.9h-16.4zM984 276h32.4v5.9h-32.4zM984 281.5h32.4v5.9h-32.4zM984 287h32.4v5.9h-32.4zM976 292.5h40.4v5.9h-40.4zM984 298h32.4v5.9h-32.4zM992 303.5h24.4v5.9h-24.4z"/><path fill="#28acdd" d="M816 276h16.4v5.9h-16.4zM848 281.5h8.4v5.9h-8.4zM808 287h8.4v5.9h-8.4zM856 287h8.4v5.9h-8.4zM856 292.5h8.4v5.9h-8.4zM832 298h8.4v5.9h-8.4zM856 298h8.4v5.9h-8.4zM848 303.5h16.4v5.9h-16.4zM936 364h24.4v5.9h-24.4zM992 369.5h8.4v5.9h-8.4z"/><path fill="#2aaed5" d="M832 276h16.4v5.9h-16.4zM856 281.5h8.4v5.9h-8.4zM864 287h8.4v5.9h-8.4zM816 292.5h8.4v5.9h-8.4zM864 292.5h8.4v5.9h-8.4zM864 298h8.4v5.9h-8.4zM864 303.5h8.4v5.9h-8.4zM960 364h8.4v5.9h-8.4zM928 369.5h8.4v5.9h-8.4zM928 375h8.4v5.9h-8.4zM928 380.5h8.4v5.9h-8.4zM928 386h8.4v5.9h-8.4zM928 391.5h8.4v5.9h-8.4zM928 397h8.4v5.9h-8.4zM928 402.5h8.4v5.9h-8.4zM928 408h8.4v5.9h-8.4zM928 413.5h8.4v5.9h-8.4z"/><path fill="#2cb0c6" d="M848 276h8.4v5.9h-8.4zM872 298h8.4v5.9h-8.4zM976 364h8.4v5.9h-8.4z"/><path fill="#2fb3ae" d="M864 276h8.4v5.9h-8.4zM920 413.5h8.4v5.9h-8.4z"/><path fill="#35b59c" d="M872 276h8.4v5.9h-8.4zM880 281.5h8.4v5.9h-8.4zM832 303.5h8.4v5.9h-8.4z"/><path fill="#3eb786" d="M880 276h8.4v5.9h-8.4zM896 287h8.4v5.9h-8.4zM912 287h8.4v5.9h-8.4zM896 292.5h24.4v5.9h-24.4zM896 298h24.4v5.9h-24.4zM896 303.5h24.4v5.9h-24.4zM896 309h24.4v5.9h-24.4zM904 314.5h16.4v5.9h-16.4zM904 320h16.4v5.9h-16.4zM904 325.5h16.4v5.9h-16.4zM904 347.5h8.4v5.9h-8.4zM920 353h8.4v5.9h-8.4zM824 369.5h24.4v5.9h-24.4zM824 375h24.4v5.9h-24.4zM816 380.5h16.4v5.9h-16.4zM840 380.5h8.4v5.9h-8.4zM816 386h16.4v5.9h-16.4zM840 386h16.4v5.9h-16.4zM816 391.5h16.4v5.9h-16.4zM840 391.5h16.4v5.9h-16.4zM816 397h16.4v5.9h-16.4zM840 397h16.4v5.9h-16.4zM816 402.5h16.4v5.9h-16.4zM840 402.5h16.4v5.9h-16.4zM816 408h16.4v5.9h-16.4zM840 408h16.4v5.9h-16.4zM816 413.5h16.4v5.9h-16.4zM840 413.5h16.4v5.9h-16.4zM824 419h8.4v5.9h-8.4zM840 419h16.4v5.9h-16.4z"/><path fill="#fabe13" d="M952 276h8.4v5.9h-8.4zM776 342h8.4v5.9h-8.4zM808 353h8.4v5.9h-8.4z"/><path fill="#ef6e1f" d="M960 276h8.4v5.9h-8.4z"/><path fill="#2aa9df" d="M808 281.5h40.4v5.9h-40.4zM816 287h40.4v5.9h-40.4zM824 292.5h32.4v5.9h-32.4zM840 298h16.4v5.9h-16.4zM936 369.5h56.4v5.9h-56.4zM936 375h64.4v5.9h-64.4zM936 380.5h72.4v5.9h-72.4zM936 386h64.4v5.9h-64.4zM936 391.5h64.4v5.9h-64.4zM936 397h64.4v5.9h-64.4zM936 402.5h56.4v5.9h-56.4zM936 408h48.4v5.9h-48.4zM936 413.5h40.4v5.9h-40.4zM936 419h8.4v5.9h-8.4z"/><path fill="#2bafcd" d="M864 281.5h8.4v5.9h-8.4zM840 303.5h8.4v5.9h-8.4zM928 364h8.4v5.9h-8.4zM968 364h8.4v5.9h-8.4z"/><path fill="#d3cb20" d="M944 281.5h8.4v5.9h-8.4z"/><path fill="#f8aa17" d="M952 281.5h8.4v5.9h-8.4zM952 287h8.4v5.9h-8.4zM976 314.5h8.4v5.9h-8.4zM832 320h8.4v5.9h-8.4zM832 347.5h8.4v5.9h-8.4z"/><path fill="#ea5822" d="M960 281.5h8.4v5.9h-8.4zM960 287h8.4v5.9h-8.4zM960 303.5h8.4v5.9h-8.4zM968 309h8.4v5.9h-8.4z"/><path fill="#39b691" d="M888 287h8.4v5.9h-8.4zM888 292.5h8.4v5.9h-8.4zM888 298h8.4v5.9h-8.4zM888 303.5h8.4v5.9h-8.4zM912 342h8.4v5.9h-8.4zM912 347.5h8.4v5.9h-8.4z"/><path fill="#d9cc1d" d="M944 287h8.4v5.9h-8.4zM944 292.5h8.4v5.9h-8.4zM944 298h8.4v5.9h-8.4zM944 342h8.4v5.9h-8.4z"/><path fill="#f8a218" d="M952 292.5h8.4v5.9h-8.4zM952 298h8.4v5.9h-8.4zM800 303.5h8.4v5.9h-8.4zM952 303.5h8.4v5.9h-8.4zM824 314.5h8.4v5.9h-8.4zM984 314.5h16.4v5.9h-16.4zM832 325.5h8.4v5.9h-8.4zM832 331h8.4v5.9h-8.4zM768 336.5h8.4v5.9h-8.4zM832 336.5h8.4v5.9h-8.4zM784 342h8.4v5.9h-8.4zM832 342h8.4v5.9h-8.4zM800 347.5h8.4v5.9h-8.4z"/><path fill="#fbc512" d="M808 303.5h8.4v5.9h-8.4zM832 314.5h8.4v5.9h-8.4zM984 320h32.4v5.9h-32.4zM840 331h8.4v5.9h-8.4zM840 336.5h8.4v5.9h-8.4z"/><path fill="#b9c72c" d="M816 303.5h8.4v5.9h-8.4zM936 320h8.4v5.9h-8.4z"/><path fill="#eece15" d="M824 309h8.4v5.9h-8.4zM984 353h8.4v5.9h-8.4z"/><path fill="#79b93f" d="M832 309h8.4v5.9h-8.4zM936 342h8.4v5.9h-8.4zM992 358.5h8.4v5.9h-8.4z"/><path fill="#e2cd1a" d="M944 309h8.4v5.9h-8.4zM944 331h8.4v5.9h-8.4zM768 342h8.4v5.9h-8.4z"/><path fill="#f0781e" d="M960 309h8.4v5.9h-8.4z"/><path fill="#e54225" d="M984 309h16.4v5.9h-16.4z"/><path fill="#a4c335" d="M936 314.5h8.4v5.9h-8.4zM936 331h8.4v5.9h-8.4zM952 353h8.4v5.9h-8.4z"/><path fill="#eace17" d="M944 314.5h8.4v5.9h-8.4zM944 320h8.4v5.9h-8.4zM952 347.5h8.4v5.9h-8.4zM800 353h8.4v5.9h-8.4z"/><path fill="#fccc11" d="M952 314.5h8.4v5.9h-8.4zM960 320h24.4v5.9h-24.4zM840 325.5h8.4v5.9h-8.4zM976 325.5h40.4v5.9h-40.4zM840 342h8.4v5.9h-8.4zM840 347.5h8.4v5.9h-8.4zM832 353h8.4v5.9h-8.4z"/><path fill="#fab715" d="M960 314.5h8.4v5.9h-8.4zM792 347.5h8.4v5.9h-8.4zM824 353h8.4v5.9h-8.4z"/><path fill="#fad011" d="M840 320h8.4v5.9h-8.4zM960 325.5h16.4v5.9h-16.4zM960 331h56.4v5.9h-56.4zM960 336.5h56.4v5.9h-56.4zM960 342h56.4v5.9h-56.4zM968 347.5h40.4v5.9h-40.4z"/><path fill="#b2c62f" d="M848 320h8.4v5.9h-8.4zM936 325.5h8.4v5.9h-8.4z"/><path fill="#e6cd18" d="M944 325.5h8.4v5.9h-8.4zM784 347.5h8.4v5.9h-8.4zM840 353h8.4v5.9h-8.4zM976 353h8.4v5.9h-8.4z"/><path fill="#9cc137" d="M848 353h8.4v5.9h-8.4zM816 358.5h8.4v5.9h-8.4z"/><path fill="#ccca23" d="M960 353h8.4v5.9h-8.4z"/></g><g fill="none" stroke="#0a0a0a" stroke-width="2.5" stroke-linecap="round" stroke-linejoin="round"><path d="M851.2 324.9C851.6 327.3 853.1 334.9 853.3 339.2C853.5 343.5 853.9 347.9 852.3 350.7C850.7 353.5 848.4 354.8 843.9 356C839.4 357.2 831.6 358.1 825 358.1C818.4 358.1 807.5 356.4 804 356"/><path d="M822.9 296.8C825.7 298.3 833.8 302.7 839.7 305.6C845.7 308.5 852.3 312.1 858.6 314C864.9 315.9 871.5 316.6 877.4 317.2C883.3 317.8 890.7 316.6 894.2 317.8C897.7 319 897.5 320.9 898.4 324.5C899.3 328.1 898.3 335 899.4 339.2C900.5 343.4 902.4 346.7 904.7 349.7C907 352.7 910.8 355.2 913.1 357C915.4 358.8 917.4 357.2 918.3 360.2C919.2 363.2 918.3 370 918.3 374.8C918.3 379.6 918.3 386.6 918.3 389"/><path d="M760 359.1C762.8 359.6 770.9 361.1 776.8 362.3C782.7 363.5 792.5 365.8 795.6 366.5"/><path d="M839.7 368.1C841.8 368.4 849 368.1 852.3 369.6C855.6 371.1 858 373.6 859.6 376.9C861.2 380.2 861.9 383.6 861.7 389.5C861.5 395.4 859.1 408.8 858.6 412.6"/><path d="M872.7 239.9C874.3 240.3 879.6 241.2 882.3 242.4C885 243.6 887.3 245 889.1 247.2C890.9 249.4 892.3 252.4 893.2 255.4C894.1 258.4 894 262 894.6 265C895.2 268 896 271.4 896.7 273.2C897.4 275 898.4 275.5 898.7 276"/><path d="M894.6 295.2C895 295.8 895.9 298.1 897 299C898.1 299.9 899.7 300.5 901 300.3C902.3 300.1 904.1 299.1 905 298C905.9 296.9 906.1 294.5 906.3 293.8"/><path d="M930.9 287.6C931.5 288.4 933.9 290.4 934.4 292.4C934.9 294.3 934.9 297 933.7 299.3C932.6 301.6 929.9 304.1 927.5 306.1C925.1 308.2 921.2 310 919.3 311.6C917.4 313.2 916.3 314.2 916.3 316C916.3 317.8 917.8 319.6 919.4 322.4C921 325.2 924.5 328.3 925.7 332.9C926.9 337.4 926.4 346 926.7 349.7C927.1 353.4 925.9 353.3 927.8 354.9C929.7 356.5 933 357.9 938.2 359.1C943.4 360.3 951.9 361.2 959.2 362.3C966.6 363.4 978.4 364.9 982.3 365.4"/><path d="M956.3 267.7C955.1 268.9 951.2 271.9 949.4 274.6C947.6 277.4 946.3 279.7 945.3 284.2C944.3 288.7 943.8 294.1 943.5 301.5C943.2 308.9 943 322.1 943.5 328.7C944 335.3 944.7 337.8 946.6 341.3C948.5 344.8 951.1 347.8 955 349.7C958.9 351.6 963.4 352.1 969.7 352.8C976 353.5 988.9 353.7 992.8 353.9"/><path d="M978.1 279.4C976 280.1 969 282 965.5 283.6C962 285.2 959 287.3 957.1 288.9C955.2 290.5 954.5 292.4 954 293.1"/><path d="M989.6 307.3 L1004.3 306.1"/></g><g class="s" fill="#0a0a0a" text-anchor="middle"><text transform="translate(830.2,314) rotate(35)" y="6.6" style="font-size:20px;font-weight:bold;font-style:italic;">26</text><text transform="translate(782,350.7) rotate(25)" y="6.6" style="font-size:20px;font-weight:bold;font-style:italic;">26</text><text transform="translate(816.6,370.6) rotate(5)" y="6.6" style="font-size:20px;font-weight:bold;font-style:italic;">25</text><text transform="translate(909.7,283) rotate(-10)" y="6.6" style="font-size:20px;font-weight:bold;font-style:italic;">25</text><text transform="translate(965.5,304.6) rotate(15)" y="6.6" style="font-size:20px;font-weight:bold;font-style:italic;">27</text><text transform="translate(918.8,402) rotate(75)" y="6.6" style="font-size:20px;font-weight:bold;font-style:italic;">2</text></g></g></g><use href="#tisl"/><use href="#tdots"/><use href="#tframe"/><text class="odv" transform="translate(1110.5,445) rotate(-90)">Ocean Data View</text><text class="ax" text-anchor="end" x="642.5" y="103.7">21.7°N</text><text class="ax" text-anchor="end" x="642.5" y="189.9">21.6°N</text><text class="ax" text-anchor="end" x="642.5" y="276.1">21.5°N</text><text class="ax" text-anchor="end" x="642.5" y="362.3">21.4°N</text><text class="ax" text-anchor="end" x="642.5" y="448.5">21.3°N</text></g>
<g transform="translate(0,422.4)"><use href="#qmap"/><g clip-path="url(#qw)"><g clip-path="url(#qb)"><g clip-path="url(#qtop)"><g filter="url(#bq)" shape-rendering="crispEdges"><path fill="#3598d8" d="M280 88h56.4v8.4h-56.4zM272 96h72.4v8.4h-72.4zM264 104h88.4v8.4h-88.4zM256 112h88.4v8.4h-88.4zM256 120h80.4v8.4h-80.4zM248 128h88.4v8.4h-88.4zM248 136h80.4v8.4h-80.4zM248 144h72.4v8.4h-72.4zM248 152h64.4v8.4h-64.4zM248 160h56.4v8.4h-56.4zM256 168h40.4v8.4h-40.4zM256 176h32.4v8.4h-32.4zM264 184h16.4v8.4h-16.4z"/><path fill="#329cda" d="M344 112h8.4v8.4h-8.4zM336 120h8.4v8.4h-8.4zM320 144h8.4v8.4h-8.4zM312 152h8.4v8.4h-8.4zM304 160h8.4v8.4h-8.4zM296 168h8.4v8.4h-8.4zM288 176h8.4v8.4h-8.4zM280 184h8.4v8.4h-8.4z"/><path fill="#2fa0dc" d="M352 112h8.4v8.4h-8.4zM344 120h8.4v8.4h-8.4zM336 128h8.4v8.4h-8.4zM328 136h8.4v8.4h-8.4zM272 192h8.4v8.4h-8.4z"/><path fill="#28acdd" d="M352 120h8.4v8.4h-8.4z"/><path fill="#2cb0c6" d="M360 120h8.4v8.4h-8.4zM352 128h8.4v8.4h-8.4zM344 136h8.4v8.4h-8.4zM264 208h8.4v8.4h-8.4zM272 224h8.4v8.4h-8.4zM272 232h8.4v8.4h-8.4zM272 240h8.4v8.4h-8.4zM272 248h8.4v8.4h-8.4zM216 256h24.4v8.4h-24.4zM264 256h16.4v8.4h-16.4zM256 264h8.4v8.4h-8.4z"/><path fill="#2aa9df" d="M344 128h8.4v8.4h-8.4zM336 136h8.4v8.4h-8.4zM328 144h8.4v8.4h-8.4zM280 192h8.4v8.4h-8.4z"/><path fill="#2fb3ae" d="M360 128h8.4v8.4h-8.4zM352 136h8.4v8.4h-8.4zM344 144h8.4v8.4h-8.4zM336 152h8.4v8.4h-8.4zM296 192h8.4v8.4h-8.4zM280 232h8.4v8.4h-8.4zM224 264h8.4v8.4h-8.4zM280 264h8.4v8.4h-8.4z"/><path fill="#33b5a1" d="M368 128h8.4v8.4h-8.4zM360 136h8.4v8.4h-8.4zM352 144h8.4v8.4h-8.4zM344 152h8.4v8.4h-8.4zM336 160h8.4v8.4h-8.4zM328 168h8.4v8.4h-8.4zM304 192h8.4v8.4h-8.4zM280 224h8.4v8.4h-8.4zM288 256h8.4v8.4h-8.4zM248 272h8.4v8.4h-8.4zM264 272h8.4v8.4h-8.4z"/><path fill="#35b59c" d="M376 128h8.4v8.4h-8.4zM368 136h24.4v8.4h-24.4zM360 144h32.4v8.4h-32.4zM352 152h40.4v8.4h-40.4zM344 160h32.4v8.4h-32.4zM336 168h24.4v8.4h-24.4zM328 176h24.4v8.4h-24.4zM320 184h16.4v8.4h-16.4zM312 192h8.4v8.4h-8.4zM288 248h8.4v8.4h-8.4zM216 264h8.4v8.4h-8.4zM272 272h8.4v8.4h-8.4z"/><path fill="#2bafcd" d="M336 144h8.4v8.4h-8.4zM328 152h8.4v8.4h-8.4zM320 160h8.4v8.4h-8.4zM288 192h8.4v8.4h-8.4zM248 208h16.4v8.4h-16.4zM232 216h40.4v8.4h-40.4zM232 224h40.4v8.4h-40.4zM224 232h48.4v8.4h-48.4zM216 240h56.4v8.4h-56.4zM216 248h56.4v8.4h-56.4zM240 256h24.4v8.4h-24.4z"/><path fill="#2ca5dd" d="M320 152h8.4v8.4h-8.4zM312 160h8.4v8.4h-8.4zM304 168h8.4v8.4h-8.4zM296 176h8.4v8.4h-8.4zM288 184h8.4v8.4h-8.4z"/><path fill="#37b696" d="M392 152h8.4v8.4h-8.4zM376 160h16.4v8.4h-16.4zM360 168h24.4v8.4h-24.4zM352 176h16.4v8.4h-16.4zM336 184h16.4v8.4h-16.4zM320 192h16.4v8.4h-16.4zM288 264h8.4v8.4h-8.4zM240 272h8.4v8.4h-8.4z"/><path fill="#2eb2b6" d="M328 160h8.4v8.4h-8.4zM320 168h8.4v8.4h-8.4zM312 176h8.4v8.4h-8.4zM304 184h8.4v8.4h-8.4zM272 208h8.4v8.4h-8.4zM232 264h8.4v8.4h-8.4zM272 264h8.4v8.4h-8.4z"/><path fill="#39b691" d="M392 160h8.4v8.4h-8.4zM384 168h8.4v8.4h-8.4zM368 176h8.4v8.4h-8.4zM352 184h16.4v8.4h-16.4zM336 192h16.4v8.4h-16.4zM280 216h8.4v8.4h-8.4zM288 240h8.4v8.4h-8.4z"/><path fill="#2aaed5" d="M312 168h8.4v8.4h-8.4zM304 176h8.4v8.4h-8.4zM296 184h8.4v8.4h-8.4z"/><path fill="#3cb78b" d="M392 168h8.4v8.4h-8.4zM376 176h8.4v8.4h-8.4zM368 184h8.4v8.4h-8.4zM352 192h8.4v8.4h-8.4zM280 272h8.4v8.4h-8.4z"/><path fill="#3eb786" d="M400 168h8.4v8.4h-8.4zM384 176h16.4v8.4h-16.4zM376 184h8.4v8.4h-8.4zM360 192h8.4v8.4h-8.4zM328 200h24.4v8.4h-24.4z"/><path fill="#30b4a7" d="M320 176h8.4v8.4h-8.4zM312 184h8.4v8.4h-8.4zM256 272h8.4v8.4h-8.4z"/><path fill="#40b880" d="M400 176h16.4v8.4h-16.4zM384 184h16.4v8.4h-16.4zM368 192h24.4v8.4h-24.4zM320 200h8.4v8.4h-8.4zM352 200h24.4v8.4h-24.4zM280 208h8.4v8.4h-8.4zM232 272h8.4v8.4h-8.4z"/><path fill="#42b87b" d="M400 184h16.4v8.4h-16.4zM392 192h32.4v8.4h-32.4zM312 200h8.4v8.4h-8.4zM376 200h48.4v8.4h-48.4zM344 208h80.4v8.4h-80.4zM360 216h64.4v8.4h-64.4zM368 224h56.4v8.4h-56.4zM288 232h8.4v8.4h-8.4z"/><path fill="#3cb46a" d="M288 200h8.4v8.4h-8.4zM344 216h8.4v8.4h-8.4zM352 224h8.4v8.4h-8.4zM360 232h8.4v8.4h-8.4zM296 256h8.4v8.4h-8.4zM296 264h8.4v8.4h-8.4zM256 280h8.4v8.4h-8.4zM272 280h8.4v8.4h-8.4z"/><path fill="#3ab364" d="M296 200h8.4v8.4h-8.4zM224 272h8.4v8.4h-8.4z"/><path fill="#3eb570" d="M304 200h8.4v8.4h-8.4zM336 208h8.4v8.4h-8.4zM264 280h8.4v8.4h-8.4z"/><path fill="#31ae50" d="M288 208h8.4v8.4h-8.4zM376 248h8.4v8.4h-8.4zM240 280h8.4v8.4h-8.4z"/><path fill="#3aae49" d="M296 208h8.4v8.4h-8.4zM304 248h8.4v8.4h-8.4zM352 248h8.4v8.4h-8.4zM352 256h8.4v8.4h-8.4zM344 264h8.4v8.4h-8.4zM312 272h32.4v8.4h-32.4zM320 280h8.4v8.4h-8.4zM304 288h24.4v8.4h-24.4zM296 296h64.4v8.4h-64.4zM400 296h8.4v8.4h-8.4z"/><path fill="#35ad49" d="M304 208h8.4v8.4h-8.4zM296 224h8.4v8.4h-8.4zM352 264h8.4v8.4h-8.4zM344 272h8.4v8.4h-8.4zM232 280h8.4v8.4h-8.4zM312 280h8.4v8.4h-8.4zM328 280h24.4v8.4h-24.4zM296 288h8.4v8.4h-8.4zM328 288h32.4v8.4h-32.4zM424 288h8.4v8.4h-8.4zM360 296h40.4v8.4h-40.4z"/><path fill="#30ad4d" d="M312 208h8.4v8.4h-8.4zM328 216h8.4v8.4h-8.4zM336 224h8.4v8.4h-8.4zM296 232h8.4v8.4h-8.4zM344 232h8.4v8.4h-8.4zM352 240h8.4v8.4h-8.4zM304 272h8.4v8.4h-8.4zM272 288h16.4v8.4h-16.4z"/><path fill="#34af54" d="M320 208h8.4v8.4h-8.4zM288 216h8.4v8.4h-8.4zM360 240h8.4v8.4h-8.4zM216 272h8.4v8.4h-8.4zM288 280h8.4v8.4h-8.4z"/><path fill="#38b25f" d="M328 208h8.4v8.4h-8.4zM288 224h8.4v8.4h-8.4zM376 240h24.4v8.4h-24.4z"/><path fill="#2db1be" d="M272 216h8.4v8.4h-8.4zM280 240h8.4v8.4h-8.4zM280 248h8.4v8.4h-8.4zM280 256h8.4v8.4h-8.4zM240 264h16.4v8.4h-16.4zM264 264h8.4v8.4h-8.4z"/><path fill="#3faf48" d="M296 216h8.4v8.4h-8.4zM320 216h8.4v8.4h-8.4zM344 240h8.4v8.4h-8.4zM312 264h8.4v8.4h-8.4zM336 264h8.4v8.4h-8.4zM256 288h8.4v8.4h-8.4zM280 296h16.4v8.4h-16.4zM408 296h8.4v8.4h-8.4zM296 304h32.4v8.4h-32.4zM304 312h8.4v8.4h-8.4z"/><path fill="#50b146" d="M304 216h8.4v8.4h-8.4zM304 224h8.4v8.4h-8.4zM320 224h8.4v8.4h-8.4zM328 232h8.4v8.4h-8.4zM336 240h8.4v8.4h-8.4zM312 248h8.4v8.4h-8.4zM336 248h8.4v8.4h-8.4zM320 256h16.4v8.4h-16.4zM272 296h8.4v8.4h-8.4zM280 304h8.4v8.4h-8.4zM360 304h8.4v8.4h-8.4zM384 304h8.4v8.4h-8.4zM288 312h8.4v8.4h-8.4zM320 312h8.4v8.4h-8.4z"/><path fill="#4ab047" d="M312 216h8.4v8.4h-8.4zM304 232h8.4v8.4h-8.4zM344 248h8.4v8.4h-8.4zM312 256h8.4v8.4h-8.4zM336 256h8.4v8.4h-8.4zM416 296h8.4v8.4h-8.4zM336 304h8.4v8.4h-8.4zM368 304h16.4v8.4h-16.4zM296 320h16.4v8.4h-16.4z"/><path fill="#34af55" d="M336 216h8.4v8.4h-8.4zM344 224h8.4v8.4h-8.4z"/><path fill="#40b675" d="M352 216h8.4v8.4h-8.4zM360 224h8.4v8.4h-8.4zM368 232h56.4v8.4h-56.4zM288 272h8.4v8.4h-8.4z"/><path fill="#55b246" d="M312 224h8.4v8.4h-8.4zM312 232h16.4v8.4h-16.4zM312 240h24.4v8.4h-24.4zM320 248h16.4v8.4h-16.4zM224 280h8.4v8.4h-8.4zM344 304h16.4v8.4h-16.4zM312 320h8.4v8.4h-8.4z"/><path fill="#45b047" d="M328 224h8.4v8.4h-8.4zM336 232h8.4v8.4h-8.4zM304 240h8.4v8.4h-8.4zM344 256h8.4v8.4h-8.4zM320 264h16.4v8.4h-16.4zM288 304h8.4v8.4h-8.4zM328 304h8.4v8.4h-8.4zM296 312h8.4v8.4h-8.4zM312 312h8.4v8.4h-8.4z"/><path fill="#35b057" d="M352 232h8.4v8.4h-8.4zM296 272h8.4v8.4h-8.4zM248 280h8.4v8.4h-8.4z"/><path fill="#33ae52" d="M296 240h8.4v8.4h-8.4z"/><path fill="#36b059" d="M368 240h8.4v8.4h-8.4zM400 240h16.4v8.4h-16.4zM296 248h8.4v8.4h-8.4zM280 280h8.4v8.4h-8.4z"/><path fill="#2fac4b" d="M360 248h8.4v8.4h-8.4zM304 256h8.4v8.4h-8.4zM376 256h48.4v8.4h-48.4z"/><path fill="#30ad4e" d="M368 248h8.4v8.4h-8.4zM384 248h40.4v8.4h-40.4zM304 264h8.4v8.4h-8.4zM296 280h8.4v8.4h-8.4z"/><path fill="#2fac4a" d="M360 256h16.4v8.4h-16.4zM360 264h64.4v8.4h-64.4zM352 272h80.4v8.4h-80.4zM304 280h8.4v8.4h-8.4zM352 280h80.4v8.4h-80.4zM264 288h8.4v8.4h-8.4zM288 288h8.4v8.4h-8.4zM360 288h64.4v8.4h-64.4z"/><path fill="#8abd3b" d="M208 280h8.4v8.4h-8.4zM256 296h8.4v8.4h-8.4zM264 304h8.4v8.4h-8.4zM288 328h8.4v8.4h-8.4z"/><path fill="#70b741" d="M216 280h8.4v8.4h-8.4zM296 328h8.4v8.4h-8.4z"/><path fill="#b2c62f" d="M208 288h8.4v8.4h-8.4zM232 296h8.4v8.4h-8.4zM248 304h8.4v8.4h-8.4zM256 312h8.4v8.4h-8.4zM272 328h8.4v8.4h-8.4z"/><path fill="#acc532" d="M216 288h8.4v8.4h-8.4zM240 296h8.4v8.4h-8.4zM352 312h24.4v8.4h-24.4zM264 320h8.4v8.4h-8.4zM320 328h8.4v8.4h-8.4z"/><path fill="#a4c335" d="M224 288h8.4v8.4h-8.4zM256 304h8.4v8.4h-8.4zM264 312h8.4v8.4h-8.4zM280 328h8.4v8.4h-8.4z"/><path fill="#93bf39" d="M232 288h8.4v8.4h-8.4zM344 312h8.4v8.4h-8.4zM328 320h8.4v8.4h-8.4z"/><path fill="#79b93f" d="M240 288h8.4v8.4h-8.4zM400 304h8.4v8.4h-8.4zM336 312h8.4v8.4h-8.4zM280 320h8.4v8.4h-8.4z"/><path fill="#5ab345" d="M248 288h8.4v8.4h-8.4zM392 304h8.4v8.4h-8.4zM328 312h8.4v8.4h-8.4zM288 320h8.4v8.4h-8.4z"/><path fill="#b9c72c" d="M208 296h24.4v8.4h-24.4zM216 304h32.4v8.4h-32.4zM416 304h8.4v8.4h-8.4zM232 312h24.4v8.4h-24.4zM376 312h8.4v8.4h-8.4zM240 320h24.4v8.4h-24.4zM336 320h8.4v8.4h-8.4zM264 328h8.4v8.4h-8.4z"/><path fill="#9cc137" d="M248 296h8.4v8.4h-8.4zM408 304h8.4v8.4h-8.4zM272 320h8.4v8.4h-8.4z"/><path fill="#67b543" d="M264 296h8.4v8.4h-8.4zM272 304h8.4v8.4h-8.4zM320 320h8.4v8.4h-8.4zM304 328h8.4v8.4h-8.4z"/><path fill="#bfc829" d="M208 304h8.4v8.4h-8.4zM208 312h24.4v8.4h-24.4zM208 320h32.4v8.4h-32.4zM208 328h56.4v8.4h-56.4zM208 336h48.4v8.4h-48.4zM304 336h16.4v8.4h-16.4zM208 344h32.4v8.4h-32.4zM216 352h8.4v8.4h-8.4z"/><path fill="#82bb3d" d="M272 312h8.4v8.4h-8.4zM312 328h8.4v8.4h-8.4z"/><path fill="#60b444" d="M280 312h8.4v8.4h-8.4z"/><path fill="#c6c926" d="M384 312h8.4v8.4h-8.4zM256 336h8.4v8.4h-8.4zM240 344h8.4v8.4h-8.4zM224 352h8.4v8.4h-8.4z"/><path fill="#decc1b" d="M392 312h8.4v8.4h-8.4zM352 320h8.4v8.4h-8.4zM336 328h8.4v8.4h-8.4zM272 336h8.4v8.4h-8.4zM224 360h8.4v8.4h-8.4z"/><path fill="#eace17" d="M400 312h8.4v8.4h-8.4zM368 320h8.4v8.4h-8.4zM336 336h8.4v8.4h-8.4zM312 344h16.4v8.4h-16.4zM232 360h8.4v8.4h-8.4z"/><path fill="#f2cf14" d="M408 312h8.4v8.4h-8.4zM376 320h8.4v8.4h-8.4zM360 328h8.4v8.4h-8.4zM352 336h8.4v8.4h-8.4zM304 344h8.4v8.4h-8.4zM344 344h8.4v8.4h-8.4zM320 352h32.4v8.4h-32.4zM328 360h16.4v8.4h-16.4zM336 368h8.4v8.4h-8.4z"/><path fill="#f6cf12" d="M416 312h8.4v8.4h-8.4zM360 336h8.4v8.4h-8.4zM272 344h8.4v8.4h-8.4zM352 344h8.4v8.4h-8.4zM256 352h8.4v8.4h-8.4zM352 352h8.4v8.4h-8.4zM240 360h8.4v8.4h-8.4zM320 360h8.4v8.4h-8.4zM344 360h16.4v8.4h-16.4zM224 368h8.4v8.4h-8.4zM328 368h8.4v8.4h-8.4zM344 368h8.4v8.4h-8.4zM336 376h16.4v8.4h-16.4zM336 384h8.4v8.4h-8.4z"/><path fill="#fad011" d="M424 312h8.4v8.4h-8.4zM384 320h8.4v8.4h-8.4zM368 328h8.4v8.4h-8.4zM280 344h8.4v8.4h-8.4zM296 344h8.4v8.4h-8.4zM360 344h8.4v8.4h-8.4zM312 352h8.4v8.4h-8.4zM360 352h8.4v8.4h-8.4zM352 368h8.4v8.4h-8.4zM328 376h8.4v8.4h-8.4zM352 376h8.4v8.4h-8.4zM344 384h8.4v8.4h-8.4zM336 392h16.4v8.4h-16.4z"/><path fill="#d3cb20" d="M344 320h8.4v8.4h-8.4zM264 336h8.4v8.4h-8.4zM296 336h8.4v8.4h-8.4zM248 344h8.4v8.4h-8.4zM232 352h8.4v8.4h-8.4z"/><path fill="#e6cd18" d="M360 320h8.4v8.4h-8.4zM344 328h8.4v8.4h-8.4z"/><path fill="#fccc11" d="M392 320h24.4v8.4h-24.4zM376 328h8.4v8.4h-8.4zM368 336h16.4v8.4h-16.4zM288 344h8.4v8.4h-8.4zM368 344h8.4v8.4h-8.4zM264 352h8.4v8.4h-8.4zM368 352h8.4v8.4h-8.4zM248 360h8.4v8.4h-8.4zM312 360h8.4v8.4h-8.4zM360 360h8.4v8.4h-8.4zM232 368h8.4v8.4h-8.4zM320 368h8.4v8.4h-8.4zM360 368h8.4v8.4h-8.4zM360 376h8.4v8.4h-8.4zM328 384h8.4v8.4h-8.4zM352 384h16.4v8.4h-16.4zM352 392h8.4v8.4h-8.4zM352 400h8.4v8.4h-8.4z"/><path fill="#fbc512" d="M416 320h24.4v8.4h-24.4zM384 328h56.4v8.4h-56.4zM384 336h56.4v8.4h-56.4zM376 344h64.4v8.4h-64.4zM272 352h40.4v8.4h-40.4zM376 352h64.4v8.4h-64.4zM256 360h16.4v8.4h-16.4zM304 360h8.4v8.4h-8.4zM368 360h72.4v8.4h-72.4zM240 368h16.4v8.4h-16.4zM312 368h8.4v8.4h-8.4zM368 368h72.4v8.4h-72.4zM232 376h8.4v8.4h-8.4zM320 376h8.4v8.4h-8.4zM368 376h72.4v8.4h-72.4zM320 384h8.4v8.4h-8.4zM368 384h64.4v8.4h-64.4zM328 392h8.4v8.4h-8.4zM360 392h64.4v8.4h-64.4zM328 400h8.4v8.4h-8.4zM360 400h56.4v8.4h-56.4z"/><path fill="#ccca23" d="M328 328h8.4v8.4h-8.4z"/><path fill="#eece15" d="M352 328h8.4v8.4h-8.4zM344 336h8.4v8.4h-8.4zM264 344h8.4v8.4h-8.4zM328 344h16.4v8.4h-16.4zM248 352h8.4v8.4h-8.4z"/><path fill="#e2cd1a" d="M280 336h16.4v8.4h-16.4zM328 336h8.4v8.4h-8.4zM256 344h8.4v8.4h-8.4zM240 352h8.4v8.4h-8.4z"/><path fill="#d9cc1d" d="M320 336h8.4v8.4h-8.4z"/><path fill="#fabe13" d="M272 360h32.4v8.4h-32.4zM256 368h56.4v8.4h-56.4zM240 376h80.4v8.4h-80.4zM232 384h88.4v8.4h-88.4zM232 392h96.4v8.4h-96.4zM240 400h88.4v8.4h-88.4zM248 408h80.4v8.4h-80.4zM256 416h56.4v8.4h-56.4z"/></g><use href="#qfaint"/><g fill="none" stroke="#0a0a0a" stroke-width="2.5" stroke-linecap="round" stroke-linejoin="round"><path d="M282.7 183.4C284.7 182.6 290.4 180.6 294.8 178.4C299.2 176.2 304.9 173 308.9 170.3C312.9 167.6 316.5 164.3 319 162.3C321.5 160.3 323.2 158.9 324 158.2"/><path d="M289.7 219.7C290.4 222.9 292.3 233 293.8 238.9C295.3 244.8 298 250 298.8 255C299.6 260 300.2 265.1 298.8 269.1C297.4 273.1 294.4 276.5 290.7 279.2C287 281.9 281.6 284.5 276.6 285.3C271.6 286.2 265.9 285.3 260.5 284.3C255.1 283.3 249.1 280.7 244.4 279.2C239.7 277.7 234.3 275.9 232.3 275.2"/><path d="M337.1 217.7C338.8 219.2 343.2 223.3 347.2 226.8C351.2 230.3 356.3 236 361.3 238.9C366.3 241.7 371 242.9 377.4 243.9C383.8 244.9 395.9 244.7 399.6 244.9"/><path d="M222.2 292.9C225.2 293.3 234.6 294.4 240.3 295.3C246 296.2 251.8 296.7 256.5 298.4C261.2 300.1 265.1 302.5 268.5 305.4C271.9 308.2 274.8 313.1 276.6 315.5C278.5 317.9 279.1 318.8 279.6 319.5"/><path d="M321 323.2C323.7 321.9 330.4 317.3 337.1 315.5C343.8 313.7 353.9 313.2 361.3 312.5C368.7 311.8 374.1 312.5 381.5 311.5C388.9 310.5 401.6 307.2 405.6 306.4"/><path d="M241.3 379C243.8 376.5 251.3 368.1 256.5 363.9C261.7 359.7 267.2 356 272.6 353.8C278 351.6 284 350.6 288.7 350.8C293.4 351 297.4 352.3 300.8 354.8C304.2 357.3 306.2 361.4 308.9 365.9C311.6 370.4 314.7 377.3 316.9 382C319.1 386.7 321.1 392.1 322 394.1"/><path d="M389.5 361.9C388.7 361.1 385.2 358.7 384.5 356.8C383.8 355 384 352.3 385.5 350.8C387 349.3 390.5 347.6 393.5 347.8C396.5 348 399.7 350.1 403.6 351.8C407.5 353.5 412.3 355.3 416.7 357.8C421.1 360.3 427.6 365.4 429.8 366.9"/></g><g class="s" fill="#0a0a0a" text-anchor="middle"><text transform="translate(338.1,143.1) rotate(-55)" y="5.9" style="font-size:18px;font-weight:bold;font-style:italic;">30</text><text transform="translate(306,209.1) rotate(0)" y="5.9" style="font-size:18px;font-weight:bold;font-style:italic;">30.5</text><text transform="translate(297.8,330.6) rotate(0)" y="6.1" style="font-size:18.5px;font-weight:bold;font-style:italic;">31</text><text transform="translate(404.5,380) rotate(50)" y="5.9" style="font-size:18px;font-weight:bold;font-style:italic;">31.</text></g></g></g></g><use href="#qisl"/><use href="#qdots"/><use href="#qframe"/><text class="odv" transform="translate(559,445) rotate(-90)">Ocean Data View</text><text class="ax" text-anchor="end" x="92.8" y="157.1">21.7°N</text><text class="ax" text-anchor="end" x="92.8" y="265.6">21.6°N</text><text class="ax" text-anchor="end" x="92.8" y="373.9">21.5°N</text></g>
<g transform="translate(2,414.7)"><use href="#tmap"/><g clip-path="url(#tw)"><g clip-path="url(#tb)"><g filter="url(#bt)" shape-rendering="crispEdges"><path fill="#30ad4d" d="M800 56h104.4v5.9h-104.4zM800 61.5h104.4v5.9h-104.4zM800 67h104.4v5.9h-104.4zM800 72.5h104.4v5.9h-104.4zM800 78h104.4v5.9h-104.4zM800 83.5h104.4v5.9h-104.4zM800 89h104.4v5.9h-104.4zM800 94.5h104.4v5.9h-104.4zM800 100h104.4v5.9h-104.4zM800 105.5h112.4v5.9h-112.4zM800 111h120.4v5.9h-120.4zM800 116.5h112.4v5.9h-112.4zM800 122h88.4v5.9h-88.4zM800 127.5h64.4v5.9h-64.4zM800 133h40.4v5.9h-40.4zM800 138.5h16.4v5.9h-16.4z"/><path fill="#2fac4b" d="M912 116.5h8.4v5.9h-8.4zM888 122h24.4v5.9h-24.4zM864 127.5h24.4v5.9h-24.4zM840 133h24.4v5.9h-24.4zM816 138.5h24.4v5.9h-24.4zM808 144h8.4v5.9h-8.4z"/><path fill="#2fac4a" d="M912 122h8.4v5.9h-8.4zM888 127.5h16.4v5.9h-16.4zM864 133h8.4v5.9h-8.4zM840 138.5h8.4v5.9h-8.4zM816 144h8.4v5.9h-8.4z"/><path fill="#3aae49" d="M904 127.5h8.4v5.9h-8.4zM880 133h8.4v5.9h-8.4zM856 138.5h8.4v5.9h-8.4zM832 144h8.4v5.9h-8.4zM808 149.5h8.4v5.9h-8.4z"/><path fill="#3faf48" d="M912 127.5h8.4v5.9h-8.4zM888 133h8.4v5.9h-8.4z"/><path fill="#35ad49" d="M872 133h8.4v5.9h-8.4zM848 138.5h8.4v5.9h-8.4zM824 144h8.4v5.9h-8.4z"/><path fill="#50b146" d="M896 133h8.4v5.9h-8.4zM872 138.5h8.4v5.9h-8.4zM848 144h8.4v5.9h-8.4zM824 149.5h8.4v5.9h-8.4z"/><path fill="#5ab345" d="M904 133h8.4v5.9h-8.4zM880 138.5h8.4v5.9h-8.4zM856 144h8.4v5.9h-8.4zM832 149.5h8.4v5.9h-8.4z"/><path fill="#67b543" d="M912 133h8.4v5.9h-8.4zM888 138.5h8.4v5.9h-8.4z"/><path fill="#79b93f" d="M920 133h8.4v5.9h-8.4z"/><path fill="#45b047" d="M864 138.5h8.4v5.9h-8.4zM840 144h8.4v5.9h-8.4zM816 149.5h8.4v5.9h-8.4z"/><path fill="#82bb3d" d="M896 138.5h8.4v5.9h-8.4zM872 144h8.4v5.9h-8.4zM848 149.5h8.4v5.9h-8.4zM824 155h8.4v5.9h-8.4z"/><path fill="#8abd3b" d="M904 138.5h8.4v5.9h-8.4zM880 144h8.4v5.9h-8.4zM856 149.5h8.4v5.9h-8.4zM832 155h8.4v5.9h-8.4z"/><path fill="#93bf39" d="M912 138.5h8.4v5.9h-8.4zM888 144h8.4v5.9h-8.4zM864 149.5h8.4v5.9h-8.4zM840 155h8.4v5.9h-8.4zM816 160.5h8.4v5.9h-8.4z"/><path fill="#9cc137" d="M920 138.5h8.4v5.9h-8.4zM896 144h8.4v5.9h-8.4zM872 149.5h8.4v5.9h-8.4zM848 155h8.4v5.9h-8.4zM824 160.5h8.4v5.9h-8.4z"/><path fill="#70b741" d="M864 144h8.4v5.9h-8.4zM840 149.5h8.4v5.9h-8.4zM816 155h8.4v5.9h-8.4z"/><path fill="#a4c335" d="M904 144h24.4v5.9h-24.4zM880 149.5h24.4v5.9h-24.4zM856 155h24.4v5.9h-24.4zM832 160.5h24.4v5.9h-24.4zM816 166h16.4v5.9h-16.4z"/><path fill="#acc532" d="M928 144h8.4v5.9h-8.4zM904 149.5h24.4v5.9h-24.4zM880 155h24.4v5.9h-24.4zM856 160.5h24.4v5.9h-24.4zM832 166h32.4v5.9h-32.4zM816 171.5h24.4v5.9h-24.4z"/><path fill="#b2c62f" d="M928 149.5h8.4v5.9h-8.4zM904 155h16.4v5.9h-16.4zM880 160.5h16.4v5.9h-16.4zM864 166h8.4v5.9h-8.4zM840 171.5h8.4v5.9h-8.4z"/><path fill="#b9c72c" d="M920 155h8.4v5.9h-8.4zM896 160.5h8.4v5.9h-8.4zM872 166h8.4v5.9h-8.4zM848 171.5h8.4v5.9h-8.4zM824 177h8.4v5.9h-8.4z"/><path fill="#c6c926" d="M928 155h8.4v5.9h-8.4zM888 166h8.4v5.9h-8.4zM864 171.5h8.4v5.9h-8.4zM840 177h8.4v5.9h-8.4z"/><path fill="#bfc829" d="M904 160.5h8.4v5.9h-8.4zM880 166h8.4v5.9h-8.4zM856 171.5h8.4v5.9h-8.4zM832 177h8.4v5.9h-8.4z"/><path fill="#ccca23" d="M912 160.5h8.4v5.9h-8.4zM848 177h8.4v5.9h-8.4z"/><path fill="#d3cb20" d="M920 160.5h8.4v5.9h-8.4zM896 166h8.4v5.9h-8.4zM872 171.5h8.4v5.9h-8.4z"/><path fill="#e2cd1a" d="M928 160.5h8.4v5.9h-8.4zM912 166h8.4v5.9h-8.4zM888 171.5h8.4v5.9h-8.4zM848 182.5h8.4v5.9h-8.4z"/><path fill="#f2cf14" d="M936 160.5h8.4v5.9h-8.4zM928 166h8.4v5.9h-8.4zM912 182.5h8.4v5.9h-8.4zM888 188h24.4v5.9h-24.4zM856 193.5h32.4v5.9h-32.4zM832 199h24.4v5.9h-24.4z"/><path fill="#d9cc1d" d="M904 166h8.4v5.9h-8.4zM880 171.5h8.4v5.9h-8.4zM856 177h8.4v5.9h-8.4zM832 182.5h8.4v5.9h-8.4z"/><path fill="#e6cd18" d="M920 166h8.4v5.9h-8.4zM896 171.5h8.4v5.9h-8.4zM872 177h16.4v5.9h-16.4zM856 182.5h8.4v5.9h-8.4zM832 188h8.4v5.9h-8.4z"/><path fill="#fccc11" d="M936 166h8.4v5.9h-8.4zM936 171.5h8.4v5.9h-8.4zM928 177h8.4v5.9h-8.4zM928 182.5h8.4v5.9h-8.4zM920 188h8.4v5.9h-8.4zM920 193.5h8.4v5.9h-8.4zM896 199h24.4v5.9h-24.4zM864 204.5h32.4v5.9h-32.4zM840 210h24.4v5.9h-24.4z"/><path fill="#eace17" d="M904 171.5h16.4v5.9h-16.4zM888 177h16.4v5.9h-16.4zM864 182.5h16.4v5.9h-16.4zM840 188h16.4v5.9h-16.4z"/><path fill="#eece15" d="M920 171.5h8.4v5.9h-8.4zM904 177h16.4v5.9h-16.4zM880 182.5h32.4v5.9h-32.4zM856 188h32.4v5.9h-32.4zM832 193.5h24.4v5.9h-24.4z"/><path fill="#fad011" d="M928 171.5h8.4v5.9h-8.4zM920 182.5h8.4v5.9h-8.4zM912 193.5h8.4v5.9h-8.4zM880 199h16.4v5.9h-16.4zM840 204.5h24.4v5.9h-24.4z"/><path fill="#fbc512" d="M944 171.5h8.4v5.9h-8.4zM936 177h16.4v5.9h-16.4zM936 182.5h16.4v5.9h-16.4zM928 188h24.4v5.9h-24.4zM928 193.5h32.4v5.9h-32.4zM920 199h40.4v5.9h-40.4zM896 204.5h72.4v5.9h-72.4zM864 210h112.4v5.9h-112.4zM840 215.5h136.4v5.9h-136.4zM840 221h80.4v5.9h-80.4zM952 221h32.4v5.9h-32.4zM864 226.5h40.4v5.9h-40.4zM968 226.5h16.4v5.9h-16.4z"/><path fill="#decc1b" d="M864 177h8.4v5.9h-8.4zM840 182.5h8.4v5.9h-8.4z"/><path fill="#f6cf12" d="M920 177h8.4v5.9h-8.4zM912 188h8.4v5.9h-8.4zM888 193.5h24.4v5.9h-24.4zM856 199h24.4v5.9h-24.4z"/><path fill="#fabe13" d="M920 221h32.4v5.9h-32.4zM840 226.5h24.4v5.9h-24.4zM904 226.5h64.4v5.9h-64.4zM832 232h152.4v5.9h-152.4zM824 237.5h160.4v5.9h-160.4zM824 243h160.4v5.9h-160.4zM824 248.5h168.4v5.9h-168.4zM816 254h176.4v5.9h-176.4zM816 259.5h176.4v5.9h-176.4zM832 265h176.4v5.9h-176.4zM928 270.5h80.4v5.9h-80.4zM944 276h72.4v5.9h-72.4zM944 281.5h72.4v5.9h-72.4zM944 287h72.4v5.9h-72.4zM944 292.5h72.4v5.9h-72.4zM944 298h72.4v5.9h-72.4zM944 303.5h72.4v5.9h-72.4zM944 309h72.4v5.9h-72.4zM944 314.5h64.4v5.9h-64.4zM952 320h64.4v5.9h-64.4zM952 325.5h64.4v5.9h-64.4zM952 331h64.4v5.9h-64.4zM952 336.5h64.4v5.9h-64.4zM952 342h64.4v5.9h-64.4zM960 347.5h48.4v5.9h-48.4zM984 353h24.4v5.9h-24.4z"/><path fill="#fab715" d="M824 265h8.4v5.9h-8.4zM816 270.5h112.4v5.9h-112.4zM816 276h128.4v5.9h-128.4zM808 281.5h80.4v5.9h-80.4zM912 281.5h32.4v5.9h-32.4zM808 287h72.4v5.9h-72.4zM912 287h32.4v5.9h-32.4zM816 292.5h64.4v5.9h-64.4zM912 292.5h32.4v5.9h-32.4zM832 298h48.4v5.9h-48.4zM920 298h24.4v5.9h-24.4zM848 303.5h24.4v5.9h-24.4zM920 303.5h24.4v5.9h-24.4zM936 309h8.4v5.9h-8.4zM936 314.5h8.4v5.9h-8.4zM944 320h8.4v5.9h-8.4zM944 325.5h8.4v5.9h-8.4zM944 331h8.4v5.9h-8.4zM944 336.5h8.4v5.9h-8.4zM944 342h8.4v5.9h-8.4zM952 347.5h8.4v5.9h-8.4zM960 353h24.4v5.9h-24.4z"/><path fill="#f9b016" d="M888 281.5h24.4v5.9h-24.4zM880 287h32.4v5.9h-32.4zM808 292.5h8.4v5.9h-8.4zM880 292.5h32.4v5.9h-32.4zM816 298h16.4v5.9h-16.4zM880 298h40.4v5.9h-40.4zM832 303.5h16.4v5.9h-16.4zM872 303.5h48.4v5.9h-48.4zM848 309h40.4v5.9h-40.4zM912 309h24.4v5.9h-24.4zM936 320h8.4v5.9h-8.4zM936 325.5h8.4v5.9h-8.4zM944 347.5h8.4v5.9h-8.4zM952 353h8.4v5.9h-8.4z"/><path fill="#f8a218" d="M808 298h8.4v5.9h-8.4zM824 303.5h8.4v5.9h-8.4zM936 342h8.4v5.9h-8.4zM936 347.5h8.4v5.9h-8.4zM944 353h8.4v5.9h-8.4zM984 358.5h8.4v5.9h-8.4z"/><path fill="#f2831d" d="M792 303.5h16.4v5.9h-16.4zM784 309h40.4v5.9h-40.4zM776 314.5h64.4v5.9h-64.4zM768 320h80.4v5.9h-80.4zM920 320h8.4v5.9h-8.4zM768 325.5h80.4v5.9h-80.4zM768 331h80.4v5.9h-80.4zM768 336.5h80.4v5.9h-80.4zM776 342h72.4v5.9h-72.4zM928 342h8.4v5.9h-8.4zM792 347.5h48.4v5.9h-48.4zM928 347.5h8.4v5.9h-8.4zM808 353h24.4v5.9h-24.4zM952 358.5h8.4v5.9h-8.4z"/><path fill="#f48d1b" d="M808 303.5h8.4v5.9h-8.4zM824 309h8.4v5.9h-8.4zM840 314.5h80.4v5.9h-80.4zM928 331h8.4v5.9h-8.4zM928 336.5h8.4v5.9h-8.4zM936 353h8.4v5.9h-8.4zM960 358.5h16.4v5.9h-16.4z"/><path fill="#f6981a" d="M816 303.5h8.4v5.9h-8.4zM832 309h8.4v5.9h-8.4zM920 314.5h8.4v5.9h-8.4zM928 320h8.4v5.9h-8.4zM928 325.5h8.4v5.9h-8.4zM976 358.5h8.4v5.9h-8.4z"/><path fill="#f8aa17" d="M840 309h8.4v5.9h-8.4zM888 309h24.4v5.9h-24.4zM928 314.5h8.4v5.9h-8.4zM936 331h8.4v5.9h-8.4zM936 336.5h8.4v5.9h-8.4zM992 358.5h8.4v5.9h-8.4z"/><path fill="#f0781e" d="M848 320h16.4v5.9h-16.4zM912 320h8.4v5.9h-8.4zM848 325.5h8.4v5.9h-8.4zM920 325.5h8.4v5.9h-8.4zM848 331h8.4v5.9h-8.4zM920 331h8.4v5.9h-8.4zM848 336.5h8.4v5.9h-8.4zM920 336.5h8.4v5.9h-8.4zM768 342h8.4v5.9h-8.4zM848 342h8.4v5.9h-8.4zM920 342h8.4v5.9h-8.4zM784 347.5h8.4v5.9h-8.4zM840 347.5h16.4v5.9h-16.4zM800 353h8.4v5.9h-8.4zM832 353h16.4v5.9h-16.4zM928 353h8.4v5.9h-8.4zM936 358.5h16.4v5.9h-16.4zM984 364h16.4v5.9h-16.4z"/><path fill="#ef6e1f" d="M864 320h48.4v5.9h-48.4zM856 325.5h64.4v5.9h-64.4zM856 331h16.4v5.9h-16.4zM904 331h16.4v5.9h-16.4zM856 336.5h16.4v5.9h-16.4zM904 336.5h16.4v5.9h-16.4zM856 342h16.4v5.9h-16.4zM904 342h16.4v5.9h-16.4zM776 347.5h8.4v5.9h-8.4zM856 347.5h16.4v5.9h-16.4zM912 347.5h16.4v5.9h-16.4zM792 353h8.4v5.9h-8.4zM848 353h16.4v5.9h-16.4zM912 353h16.4v5.9h-16.4zM808 358.5h16.4v5.9h-16.4zM920 358.5h16.4v5.9h-16.4zM928 364h56.4v5.9h-56.4zM928 369.5h72.4v5.9h-72.4zM928 375h72.4v5.9h-72.4zM928 380.5h80.4v5.9h-80.4zM928 386h72.4v5.9h-72.4zM928 391.5h72.4v5.9h-72.4zM928 397h72.4v5.9h-72.4zM928 402.5h64.4v5.9h-64.4zM928 408h56.4v5.9h-56.4zM928 413.5h48.4v5.9h-48.4zM936 419h8.4v5.9h-8.4z"/><path fill="#ec6321" d="M872 331h32.4v5.9h-32.4zM872 336.5h32.4v5.9h-32.4zM872 342h32.4v5.9h-32.4zM752 347.5h24.4v5.9h-24.4zM872 347.5h40.4v5.9h-40.4zM760 353h32.4v5.9h-32.4zM864 353h48.4v5.9h-48.4zM776 358.5h32.4v5.9h-32.4zM824 358.5h8.4v5.9h-8.4zM872 358.5h48.4v5.9h-48.4zM912 364h16.4v5.9h-16.4zM912 369.5h16.4v5.9h-16.4zM912 375h16.4v5.9h-16.4zM912 380.5h16.4v5.9h-16.4zM912 386h16.4v5.9h-16.4zM912 391.5h16.4v5.9h-16.4zM912 397h16.4v5.9h-16.4zM912 402.5h16.4v5.9h-16.4zM912 408h16.4v5.9h-16.4zM912 413.5h16.4v5.9h-16.4z"/><path fill="#ea5822" d="M744 353h16.4v5.9h-16.4zM736 358.5h40.4v5.9h-40.4zM832 358.5h40.4v5.9h-40.4zM728 364h88.4v5.9h-88.4zM872 364h40.4v5.9h-40.4zM728 369.5h88.4v5.9h-88.4zM872 369.5h40.4v5.9h-40.4zM728 375h88.4v5.9h-88.4zM872 375h40.4v5.9h-40.4zM728 380.5h80.4v5.9h-80.4zM872 380.5h40.4v5.9h-40.4zM728 386h80.4v5.9h-80.4zM872 386h40.4v5.9h-40.4zM728 391.5h80.4v5.9h-80.4zM872 391.5h40.4v5.9h-40.4zM736 397h72.4v5.9h-72.4zM872 397h40.4v5.9h-40.4zM736 402.5h72.4v5.9h-72.4zM872 402.5h40.4v5.9h-40.4zM744 408h64.4v5.9h-64.4zM872 408h40.4v5.9h-40.4zM752 413.5h56.4v5.9h-56.4zM880 413.5h32.4v5.9h-32.4zM776 419h24.4v5.9h-24.4z"/><path fill="#e84d24" d="M816 364h8.4v5.9h-8.4zM856 364h16.4v5.9h-16.4zM864 369.5h8.4v5.9h-8.4zM864 375h8.4v5.9h-8.4zM808 380.5h8.4v5.9h-8.4zM864 380.5h8.4v5.9h-8.4zM808 386h8.4v5.9h-8.4zM864 386h8.4v5.9h-8.4zM808 391.5h8.4v5.9h-8.4zM864 391.5h8.4v5.9h-8.4zM808 397h8.4v5.9h-8.4zM864 397h8.4v5.9h-8.4zM808 402.5h8.4v5.9h-8.4zM864 402.5h8.4v5.9h-8.4zM808 408h8.4v5.9h-8.4zM864 408h8.4v5.9h-8.4zM808 413.5h8.4v5.9h-8.4zM872 413.5h8.4v5.9h-8.4z"/><path fill="#e54225" d="M824 364h32.4v5.9h-32.4zM816 369.5h48.4v5.9h-48.4zM816 375h48.4v5.9h-48.4zM816 380.5h48.4v5.9h-48.4zM816 386h48.4v5.9h-48.4zM816 391.5h48.4v5.9h-48.4zM816 397h48.4v5.9h-48.4zM816 402.5h48.4v5.9h-48.4zM816 408h48.4v5.9h-48.4zM816 413.5h56.4v5.9h-56.4zM824 419h40.4v5.9h-40.4z"/></g><g fill="none" stroke="#0a0a0a" stroke-width="2.5" stroke-linecap="round" stroke-linejoin="round"><path d="M854.5 146.6C857.1 145 864.5 141 870 137.3C875.5 133.6 884.3 126.6 887.2 124.5"/><path d="M859 153.8C861.5 152.7 869.3 149.9 874 147.3C878.7 144.7 885 139.6 887.2 138"/><path d="M864.6 171 L870.2 169.6"/><path d="M866.2 225.2 L877 227"/><path d="M933 216.1 L953.8 207.6"/><path d="M822.4 292.9C824.7 294.3 831 298.8 836.4 301.3C841.8 303.8 848.9 306.9 854.5 308C860.1 309.1 866.2 308.9 870.3 308C874.4 307.1 877.2 305.2 879.3 302.4C881.4 299.6 882 294.1 882.7 291.1C883.5 288.1 883.6 285.4 883.8 284.3"/><path d="M927.8 295.6C928.5 297.9 930.6 303.5 932.3 309.2C934 314.9 935.9 323.3 938 329.5C940.1 335.7 941.4 342.1 944.8 346.4C948.2 350.7 951.5 353.4 958.3 355.5C965.1 357.6 980.9 358.2 985.4 358.8"/><path d="M810.4 378C809.8 380.5 808.5 387.1 807 392.7C805.5 398.3 802.3 408.7 801.4 411.9"/><path d="M863 371.9C863.5 374.2 864.9 379.4 865.7 385.9C866.5 392.4 867.6 406.7 868 410.8"/></g><g class="s" fill="#0a0a0a" text-anchor="middle"><text transform="translate(881.5,166.9) rotate(-20)" y="6.6" style="font-size:20px;font-weight:bold;">1.2</text><text transform="translate(904.1,229) rotate(-8)" y="6.9" style="font-size:21px;font-weight:bold;">31.4</text><text transform="translate(909.8,284.8) rotate(15)" y="6.6" style="font-size:20px;font-weight:bold;font-style:italic;">31.6</text><text transform="translate(830.7,367.9) rotate(-5)" y="6.6" style="font-size:20px;font-weight:bold;font-style:italic;">31.8</text></g></g></g><use href="#tisl"/><use href="#tdots"/><use href="#tframe"/><text class="odv" transform="translate(1110.5,445) rotate(-90)">Ocean Data View</text><text class="ax" text-anchor="end" x="642.5" y="103.7">21.7°N</text><text class="ax" text-anchor="end" x="642.5" y="189.9">21.6°N</text><text class="ax" text-anchor="end" x="642.5" y="276.1">21.5°N</text><text class="ax" text-anchor="end" x="642.5" y="362.3">21.4°N</text><text class="ax" text-anchor="end" x="642.5" y="448.5">21.3°N</text></g>
<g transform="translate(0,843.3)"><use href="#qmap"/><g clip-path="url(#qw)"><g clip-path="url(#qb)"><g clip-path="url(#qtop)"><g filter="url(#bq)" shape-rendering="crispEdges"><path fill="#40b675" d="M280 88h56.4v8.4h-56.4zM272 96h72.4v8.4h-72.4zM264 104h88.4v8.4h-88.4zM256 112h104.4v8.4h-104.4zM256 120h104.4v8.4h-104.4zM248 128h104.4v8.4h-104.4zM248 136h96.4v8.4h-96.4zM248 144h88.4v8.4h-88.4zM248 152h80.4v8.4h-80.4zM248 160h72.4v8.4h-72.4zM256 168h56.4v8.4h-56.4zM256 176h56.4v8.4h-56.4zM264 184h40.4v8.4h-40.4zM288 192h24.4v8.4h-24.4zM328 200h8.4v8.4h-8.4zM344 208h8.4v8.4h-8.4zM352 216h8.4v8.4h-8.4zM360 224h8.4v8.4h-8.4zM368 232h56.4v8.4h-56.4z"/><path fill="#42b87b" d="M360 120h8.4v8.4h-8.4zM352 128h32.4v8.4h-32.4zM344 136h48.4v8.4h-48.4zM336 144h56.4v8.4h-56.4zM328 152h72.4v8.4h-72.4zM320 160h80.4v8.4h-80.4zM312 168h96.4v8.4h-96.4zM312 176h104.4v8.4h-104.4zM304 184h112.4v8.4h-112.4zM312 192h112.4v8.4h-112.4zM336 200h88.4v8.4h-88.4zM352 208h72.4v8.4h-72.4zM360 216h64.4v8.4h-64.4zM368 224h56.4v8.4h-56.4z"/><path fill="#3eb570" d="M272 192h16.4v8.4h-16.4zM320 200h8.4v8.4h-8.4zM336 208h8.4v8.4h-8.4zM344 216h8.4v8.4h-8.4zM352 224h8.4v8.4h-8.4zM360 232h8.4v8.4h-8.4z"/><path fill="#34af55" d="M288 200h8.4v8.4h-8.4z"/><path fill="#36b059" d="M296 200h8.4v8.4h-8.4zM360 240h8.4v8.4h-8.4zM408 240h8.4v8.4h-8.4z"/><path fill="#3ab364" d="M304 200h8.4v8.4h-8.4zM328 208h8.4v8.4h-8.4zM376 240h8.4v8.4h-8.4z"/><path fill="#3cb46a" d="M312 200h8.4v8.4h-8.4z"/><path fill="#2fac4b" d="M248 208h32.4v8.4h-32.4zM232 216h64.4v8.4h-64.4zM232 224h80.4v8.4h-80.4zM224 232h96.4v8.4h-96.4zM216 240h112.4v8.4h-112.4zM216 248h120.4v8.4h-120.4zM216 256h128.4v8.4h-128.4zM240 264h184.4v8.4h-184.4zM272 272h160.4v8.4h-160.4zM312 280h120.4v8.4h-120.4zM320 288h112.4v8.4h-112.4zM336 296h64.4v8.4h-64.4zM336 304h32.4v8.4h-32.4zM336 312h16.4v8.4h-16.4zM328 320h24.4v8.4h-24.4zM320 328h32.4v8.4h-32.4zM312 336h32.4v8.4h-32.4zM296 344h48.4v8.4h-48.4zM280 352h64.4v8.4h-64.4zM264 360h72.4v8.4h-72.4zM248 368h88.4v8.4h-88.4zM232 376h104.4v8.4h-104.4zM232 384h104.4v8.4h-104.4zM232 392h104.4v8.4h-104.4zM240 400h96.4v8.4h-96.4zM248 408h80.4v8.4h-80.4zM256 416h56.4v8.4h-56.4z"/><path fill="#30ad4d" d="M280 208h16.4v8.4h-16.4zM296 216h16.4v8.4h-16.4zM312 224h16.4v8.4h-16.4zM320 232h16.4v8.4h-16.4zM328 240h16.4v8.4h-16.4zM336 248h16.4v8.4h-16.4zM344 256h80.4v8.4h-80.4z"/><path fill="#30ad4e" d="M296 208h8.4v8.4h-8.4zM312 216h8.4v8.4h-8.4zM352 248h8.4v8.4h-8.4zM416 248h8.4v8.4h-8.4z"/><path fill="#32ae51" d="M304 208h8.4v8.4h-8.4zM368 248h16.4v8.4h-16.4z"/><path fill="#34af54" d="M312 208h8.4v8.4h-8.4zM328 216h8.4v8.4h-8.4zM336 224h8.4v8.4h-8.4zM344 232h8.4v8.4h-8.4zM352 240h8.4v8.4h-8.4z"/><path fill="#35b057" d="M320 208h8.4v8.4h-8.4z"/><path fill="#31ae50" d="M320 216h8.4v8.4h-8.4zM328 224h8.4v8.4h-8.4zM336 232h8.4v8.4h-8.4zM344 240h8.4v8.4h-8.4zM360 248h8.4v8.4h-8.4zM384 248h32.4v8.4h-32.4z"/><path fill="#38b25f" d="M336 216h8.4v8.4h-8.4zM344 224h8.4v8.4h-8.4zM352 232h8.4v8.4h-8.4zM368 240h8.4v8.4h-8.4zM384 240h24.4v8.4h-24.4z"/><path fill="#35ad49" d="M216 264h8.4v8.4h-8.4zM248 272h8.4v8.4h-8.4zM272 280h8.4v8.4h-8.4zM280 288h16.4v8.4h-16.4zM288 296h16.4v8.4h-16.4zM416 296h8.4v8.4h-8.4zM296 304h8.4v8.4h-8.4zM376 304h8.4v8.4h-8.4zM296 312h8.4v8.4h-8.4zM360 312h8.4v8.4h-8.4zM296 320h8.4v8.4h-8.4zM296 328h8.4v8.4h-8.4zM352 328h8.4v8.4h-8.4zM280 344h8.4v8.4h-8.4zM264 352h8.4v8.4h-8.4zM344 352h8.4v8.4h-8.4zM248 360h8.4v8.4h-8.4zM232 368h8.4v8.4h-8.4zM336 376h8.4v8.4h-8.4zM336 384h8.4v8.4h-8.4z"/><path fill="#2fac4a" d="M224 264h16.4v8.4h-16.4zM256 272h16.4v8.4h-16.4zM280 280h32.4v8.4h-32.4zM296 288h24.4v8.4h-24.4zM304 296h32.4v8.4h-32.4zM400 296h16.4v8.4h-16.4zM304 304h32.4v8.4h-32.4zM368 304h8.4v8.4h-8.4zM304 312h32.4v8.4h-32.4zM352 312h8.4v8.4h-8.4zM304 320h24.4v8.4h-24.4zM352 320h8.4v8.4h-8.4zM304 328h16.4v8.4h-16.4zM296 336h16.4v8.4h-16.4zM344 336h8.4v8.4h-8.4zM288 344h8.4v8.4h-8.4zM344 344h8.4v8.4h-8.4zM272 352h8.4v8.4h-8.4zM256 360h8.4v8.4h-8.4zM336 360h8.4v8.4h-8.4zM240 368h8.4v8.4h-8.4zM336 368h8.4v8.4h-8.4z"/><path fill="#55b246" d="M216 272h8.4v8.4h-8.4zM376 312h8.4v8.4h-8.4zM232 360h8.4v8.4h-8.4z"/><path fill="#4ab047" d="M224 272h8.4v8.4h-8.4zM248 280h8.4v8.4h-8.4zM360 328h8.4v8.4h-8.4zM280 336h8.4v8.4h-8.4zM352 352h8.4v8.4h-8.4z"/><path fill="#3faf48" d="M232 272h8.4v8.4h-8.4zM256 280h8.4v8.4h-8.4zM272 288h8.4v8.4h-8.4zM280 296h8.4v8.4h-8.4zM392 304h8.4v8.4h-8.4zM288 312h8.4v8.4h-8.4zM368 312h8.4v8.4h-8.4zM360 320h8.4v8.4h-8.4zM272 344h8.4v8.4h-8.4zM352 344h8.4v8.4h-8.4zM256 352h8.4v8.4h-8.4zM240 360h8.4v8.4h-8.4zM344 368h8.4v8.4h-8.4z"/><path fill="#3aae49" d="M240 272h8.4v8.4h-8.4zM264 280h8.4v8.4h-8.4zM288 304h8.4v8.4h-8.4zM384 304h8.4v8.4h-8.4zM288 336h8.4v8.4h-8.4zM352 336h8.4v8.4h-8.4zM344 360h8.4v8.4h-8.4zM336 392h8.4v8.4h-8.4z"/><path fill="#9cc137" d="M208 280h8.4v8.4h-8.4zM232 288h8.4v8.4h-8.4zM248 296h8.4v8.4h-8.4zM256 304h8.4v8.4h-8.4zM264 320h8.4v8.4h-8.4zM384 320h8.4v8.4h-8.4zM240 344h8.4v8.4h-8.4zM224 352h8.4v8.4h-8.4zM368 360h8.4v8.4h-8.4zM360 384h8.4v8.4h-8.4z"/><path fill="#8abd3b" d="M216 280h8.4v8.4h-8.4zM240 288h8.4v8.4h-8.4zM264 312h8.4v8.4h-8.4zM368 344h8.4v8.4h-8.4zM232 352h8.4v8.4h-8.4zM360 368h8.4v8.4h-8.4zM352 392h8.4v8.4h-8.4z"/><path fill="#82bb3d" d="M224 280h8.4v8.4h-8.4zM256 296h8.4v8.4h-8.4zM264 304h8.4v8.4h-8.4zM392 312h8.4v8.4h-8.4zM272 320h8.4v8.4h-8.4zM376 320h8.4v8.4h-8.4zM272 328h8.4v8.4h-8.4zM368 336h8.4v8.4h-8.4zM248 344h8.4v8.4h-8.4z"/><path fill="#67b543" d="M232 280h8.4v8.4h-8.4zM264 296h8.4v8.4h-8.4zM416 304h8.4v8.4h-8.4zM384 312h8.4v8.4h-8.4zM368 328h8.4v8.4h-8.4zM256 344h8.4v8.4h-8.4zM240 352h8.4v8.4h-8.4zM360 352h8.4v8.4h-8.4zM352 376h8.4v8.4h-8.4z"/><path fill="#5ab345" d="M240 280h8.4v8.4h-8.4zM272 304h8.4v8.4h-8.4zM408 304h8.4v8.4h-8.4zM280 320h8.4v8.4h-8.4zM368 320h8.4v8.4h-8.4zM280 328h8.4v8.4h-8.4zM360 344h8.4v8.4h-8.4zM352 368h8.4v8.4h-8.4zM344 392h8.4v8.4h-8.4z"/><path fill="#acc532" d="M208 288h8.4v8.4h-8.4zM208 296h32.4v8.4h-32.4zM208 304h40.4v8.4h-40.4zM208 312h48.4v8.4h-48.4zM424 312h8.4v8.4h-8.4zM208 320h48.4v8.4h-48.4zM392 320h16.4v8.4h-16.4zM208 328h48.4v8.4h-48.4zM384 328h8.4v8.4h-8.4zM208 336h40.4v8.4h-40.4zM384 336h8.4v8.4h-8.4zM208 344h24.4v8.4h-24.4zM384 344h8.4v8.4h-8.4zM376 352h8.4v8.4h-8.4zM376 360h8.4v8.4h-8.4zM376 368h8.4v8.4h-8.4zM368 376h8.4v8.4h-8.4zM368 384h8.4v8.4h-8.4zM368 392h8.4v8.4h-8.4zM360 400h8.4v8.4h-8.4z"/><path fill="#a4c335" d="M216 288h16.4v8.4h-16.4zM240 296h8.4v8.4h-8.4zM248 304h8.4v8.4h-8.4zM256 312h8.4v8.4h-8.4zM408 312h16.4v8.4h-16.4zM256 320h8.4v8.4h-8.4zM256 328h8.4v8.4h-8.4zM248 336h8.4v8.4h-8.4zM376 336h8.4v8.4h-8.4zM232 344h8.4v8.4h-8.4zM376 344h8.4v8.4h-8.4zM216 352h8.4v8.4h-8.4zM368 368h8.4v8.4h-8.4zM360 392h8.4v8.4h-8.4z"/><path fill="#79b93f" d="M248 288h8.4v8.4h-8.4zM264 336h8.4v8.4h-8.4zM360 360h8.4v8.4h-8.4zM352 384h8.4v8.4h-8.4z"/><path fill="#60b444" d="M256 288h8.4v8.4h-8.4zM272 336h8.4v8.4h-8.4z"/><path fill="#50b146" d="M264 288h8.4v8.4h-8.4zM272 296h8.4v8.4h-8.4zM400 304h8.4v8.4h-8.4zM280 312h8.4v8.4h-8.4zM360 336h8.4v8.4h-8.4zM264 344h8.4v8.4h-8.4zM248 352h8.4v8.4h-8.4zM352 360h8.4v8.4h-8.4zM344 384h8.4v8.4h-8.4z"/><path fill="#45b047" d="M280 304h8.4v8.4h-8.4zM288 320h8.4v8.4h-8.4zM288 328h8.4v8.4h-8.4zM224 368h8.4v8.4h-8.4zM344 376h8.4v8.4h-8.4z"/><path fill="#70b741" d="M272 312h8.4v8.4h-8.4zM224 360h8.4v8.4h-8.4z"/><path fill="#93bf39" d="M400 312h8.4v8.4h-8.4zM264 328h8.4v8.4h-8.4zM376 328h8.4v8.4h-8.4zM256 336h8.4v8.4h-8.4zM368 352h8.4v8.4h-8.4zM360 376h8.4v8.4h-8.4zM352 400h8.4v8.4h-8.4z"/><path fill="#b2c62f" d="M408 320h32.4v8.4h-32.4zM392 328h48.4v8.4h-48.4zM392 336h48.4v8.4h-48.4zM392 344h48.4v8.4h-48.4zM384 352h56.4v8.4h-56.4zM384 360h56.4v8.4h-56.4zM384 368h56.4v8.4h-56.4zM376 376h64.4v8.4h-64.4zM376 384h56.4v8.4h-56.4zM376 392h48.4v8.4h-48.4zM368 400h48.4v8.4h-48.4z"/></g><use href="#qfaint"/><g fill="none" stroke="#0a0a0a" stroke-width="2.5" stroke-linecap="round" stroke-linejoin="round"><path d="M340.1 218.8C341.6 220.6 345.7 226.9 349.2 229.9C352.7 232.9 356.6 235.3 361.3 237C366 238.7 372 239.6 377.4 240C382.8 240.4 389 239.9 393.5 239.6C398 239.3 402.8 238.3 404.6 238"/><path d="M232.3 275.9C234.7 276.8 241.7 279.4 246.4 281.3C251.1 283.2 256.5 285.4 260.5 287.4C264.5 289.4 267.6 290.6 270.6 293.4C273.6 296.3 275.9 301 278.6 304.5C281.3 308 284 311.9 286.7 314.6C289.4 317.3 292.4 319.4 294.8 320.7C297.2 322.1 299.1 323.4 300.8 322.7C302.5 322 303.5 320.3 304.8 316.6C306.1 312.9 307.8 304 308.9 300.5C310 297 310.9 296.3 311.3 295.5"/><path d="M240.3 367.4C243.7 365.3 253.8 359 260.5 354.9C267.2 350.8 273.9 346.7 280.6 342.8C287.3 338.9 294.8 334.4 300.8 331.7C306.9 329 311.9 328.7 316.9 326.7C321.9 324.7 327.1 322 331 319.6C334.9 317.3 338.2 314.6 340.1 312.6C342 310.6 341.8 308.4 342.1 307.5"/><path d="M373.4 314.6C372.2 315.3 368.1 315.9 366.3 318.6C364.5 321.3 363.8 326 362.3 330.7C360.8 335.4 359.5 341.5 357.3 346.9C355.1 352.3 351.6 358.6 349.2 363C346.8 367.4 344.6 370.1 343.1 373.1C341.6 376.1 340.6 379.8 340.1 381.1"/><path d="M404.6 340.8C407.1 341.1 415.2 342.1 419.8 342.8C424.4 343.5 429.9 344.5 431.9 344.8"/><path d="M381.5 355.9C382.2 357.8 383.1 363.1 385.5 367C387.9 370.9 392.2 374.7 395.6 379.1C399 383.5 403.9 390.9 405.6 393.2"/></g><g class="s" fill="#0a0a0a" text-anchor="middle"><text transform="translate(316.9,204.7) rotate(12)" y="6.3" style="font-size:19px;font-weight:bold;font-style:italic;">6.5</text><text transform="translate(322.6,291.9) rotate(15)" y="6.9" style="font-size:21px;font-style:italic;">6.75</text><text transform="translate(403.5,308) rotate(0)" y="7.3" style="font-size:22px;font-weight:bold;">6.75</text><text transform="translate(389.5,343.1) rotate(8)" y="6.8" style="font-size:20.5px;font-style:italic;">7</text></g></g></g></g><use href="#qisl"/><use href="#qdots"/><use href="#qframe"/><text class="odv" transform="translate(559,445) rotate(-90)">Ocean Data View</text><text class="ax" text-anchor="end" x="92.8" y="157.1">21.7°N</text><text class="ax" text-anchor="end" x="92.8" y="265.6">21.6°N</text><text class="ax" text-anchor="end" x="92.8" y="373.9">21.5°N</text></g>
<g transform="translate(3.6,830)"><use href="#tmap"/><g clip-path="url(#tw)"><g clip-path="url(#tb)"><g filter="url(#bt)" shape-rendering="crispEdges"><path fill="#a35fb2" d="M800 56h104.4v5.9h-104.4zM800 61.5h104.4v5.9h-104.4zM800 67h104.4v5.9h-104.4zM800 72.5h104.4v5.9h-104.4zM800 78h104.4v5.9h-104.4zM800 83.5h104.4v5.9h-104.4zM800 89h104.4v5.9h-104.4zM800 94.5h104.4v5.9h-104.4zM800 100h104.4v5.9h-104.4zM800 105.5h112.4v5.9h-112.4zM800 111h120.4v5.9h-120.4zM800 116.5h120.4v5.9h-120.4zM800 122h120.4v5.9h-120.4zM800 127.5h104.4v5.9h-104.4zM800 133h80.4v5.9h-80.4zM800 138.5h56.4v5.9h-56.4zM808 144h24.4v5.9h-24.4z"/><path fill="#9c5baf" d="M904 127.5h16.4v5.9h-16.4zM880 133h32.4v5.9h-32.4zM856 138.5h32.4v5.9h-32.4zM832 144h32.4v5.9h-32.4zM808 149.5h32.4v5.9h-32.4z"/><path fill="#955aae" d="M912 133h16.4v5.9h-16.4zM888 138.5h40.4v5.9h-40.4zM864 144h40.4v5.9h-40.4zM840 149.5h40.4v5.9h-40.4zM816 155h40.4v5.9h-40.4zM816 160.5h16.4v5.9h-16.4z"/><path fill="#8e59ad" d="M904 144h32.4v5.9h-32.4zM880 149.5h48.4v5.9h-48.4zM856 155h56.4v5.9h-56.4zM832 160.5h56.4v5.9h-56.4zM816 166h48.4v5.9h-48.4zM816 171.5h24.4v5.9h-24.4z"/><path fill="#8758ac" d="M928 149.5h8.4v5.9h-8.4zM912 155h16.4v5.9h-16.4zM888 160.5h16.4v5.9h-16.4zM864 166h16.4v5.9h-16.4zM840 171.5h16.4v5.9h-16.4zM824 177h8.4v5.9h-8.4z"/><path fill="#7a55a9" d="M928 155h8.4v5.9h-8.4zM912 160.5h8.4v5.9h-8.4zM888 166h8.4v5.9h-8.4zM864 171.5h8.4v5.9h-8.4zM840 177h16.4v5.9h-16.4z"/><path fill="#8056aa" d="M904 160.5h8.4v5.9h-8.4zM880 166h8.4v5.9h-8.4zM856 171.5h8.4v5.9h-8.4zM832 177h8.4v5.9h-8.4z"/><path fill="#7354a8" d="M920 160.5h8.4v5.9h-8.4zM896 166h8.4v5.9h-8.4zM872 171.5h8.4v5.9h-8.4zM856 177h8.4v5.9h-8.4zM832 182.5h8.4v5.9h-8.4z"/><path fill="#6d56aa" d="M928 160.5h8.4v5.9h-8.4zM912 166h8.4v5.9h-8.4zM896 171.5h8.4v5.9h-8.4zM872 177h8.4v5.9h-8.4zM848 182.5h8.4v5.9h-8.4z"/><path fill="#6459ad" d="M936 160.5h8.4v5.9h-8.4zM920 177h8.4v5.9h-8.4zM904 188h16.4v5.9h-16.4zM880 193.5h24.4v5.9h-24.4zM840 199h32.4v5.9h-32.4z"/><path fill="#7055a9" d="M904 166h8.4v5.9h-8.4zM880 171.5h16.4v5.9h-16.4zM864 177h8.4v5.9h-8.4zM840 182.5h8.4v5.9h-8.4z"/><path fill="#6a57ab" d="M920 166h8.4v5.9h-8.4zM904 171.5h16.4v5.9h-16.4zM880 177h24.4v5.9h-24.4zM856 182.5h24.4v5.9h-24.4zM832 188h24.4v5.9h-24.4z"/><path fill="#6758ac" d="M928 166h8.4v5.9h-8.4zM920 171.5h8.4v5.9h-8.4zM904 177h16.4v5.9h-16.4zM880 182.5h40.4v5.9h-40.4zM856 188h48.4v5.9h-48.4zM832 193.5h48.4v5.9h-48.4zM832 199h8.4v5.9h-8.4z"/><path fill="#5e5baf" d="M936 166h8.4v5.9h-8.4zM936 171.5h8.4v5.9h-8.4zM928 177h8.4v5.9h-8.4zM928 182.5h8.4v5.9h-8.4zM920 188h16.4v5.9h-16.4zM920 193.5h8.4v5.9h-8.4zM896 199h24.4v5.9h-24.4zM864 204.5h40.4v5.9h-40.4zM840 210h32.4v5.9h-32.4z"/><path fill="#615aae" d="M928 171.5h8.4v5.9h-8.4zM920 182.5h8.4v5.9h-8.4zM904 193.5h16.4v5.9h-16.4zM872 199h24.4v5.9h-24.4zM840 204.5h24.4v5.9h-24.4z"/><path fill="#5c5cb0" d="M944 171.5h8.4v5.9h-8.4zM936 177h16.4v5.9h-16.4zM936 182.5h16.4v5.9h-16.4zM936 188h16.4v5.9h-16.4zM928 193.5h32.4v5.9h-32.4zM920 199h40.4v5.9h-40.4zM904 204.5h64.4v5.9h-64.4zM872 210h104.4v5.9h-104.4zM840 215.5h80.4v5.9h-80.4zM944 215.5h32.4v5.9h-32.4zM872 221h24.4v5.9h-24.4zM968 221h16.4v5.9h-16.4z"/><path fill="#5a5fb2" d="M920 215.5h24.4v5.9h-24.4zM856 221h16.4v5.9h-16.4zM896 221h24.4v5.9h-24.4zM952 221h16.4v5.9h-16.4zM968 226.5h16.4v5.9h-16.4z"/><path fill="#5466b8" d="M840 221h8.4v5.9h-8.4zM872 226.5h8.4v5.9h-8.4zM904 232h8.4v5.9h-8.4zM928 237.5h16.4v5.9h-16.4zM944 243h40.4v5.9h-40.4z"/><path fill="#5861b4" d="M848 221h8.4v5.9h-8.4zM920 221h32.4v5.9h-32.4zM888 226.5h80.4v5.9h-80.4zM976 232h8.4v5.9h-8.4z"/><path fill="#3d8bd3" d="M840 226.5h8.4v5.9h-8.4zM904 254h8.4v5.9h-8.4zM936 270.5h8.4v5.9h-8.4z"/><path fill="#447eca" d="M848 226.5h8.4v5.9h-8.4zM968 259.5h8.4v5.9h-8.4z"/><path fill="#4974c3" d="M856 226.5h8.4v5.9h-8.4zM928 265h8.4v5.9h-8.4zM944 265h8.4v5.9h-8.4z"/><path fill="#506abc" d="M864 226.5h8.4v5.9h-8.4zM912 237.5h8.4v5.9h-8.4zM928 243h8.4v5.9h-8.4zM936 248.5h8.4v5.9h-8.4zM984 248.5h8.4v5.9h-8.4zM944 254h8.4v5.9h-8.4zM968 254h8.4v5.9h-8.4zM944 259.5h8.4v5.9h-8.4z"/><path fill="#5663b6" d="M880 226.5h8.4v5.9h-8.4zM912 232h64.4v5.9h-64.4zM944 237.5h40.4v5.9h-40.4z"/><path fill="#2aa9df" d="M832 232h16.4v5.9h-16.4zM840 237.5h32.4v5.9h-32.4zM856 243h24.4v5.9h-24.4zM864 248.5h16.4v5.9h-16.4zM864 254h24.4v5.9h-24.4zM864 259.5h24.4v5.9h-24.4zM872 265h16.4v5.9h-16.4zM888 270.5h8.4v5.9h-8.4zM896 276h8.4v5.9h-8.4z"/><path fill="#2ca5dd" d="M848 232h8.4v5.9h-8.4zM880 248.5h8.4v5.9h-8.4zM888 259.5h8.4v5.9h-8.4zM888 265h8.4v5.9h-8.4zM904 276h8.4v5.9h-8.4zM920 276h8.4v5.9h-8.4z"/><path fill="#329cda" d="M856 232h8.4v5.9h-8.4zM896 259.5h8.4v5.9h-8.4zM976 259.5h8.4v5.9h-8.4zM896 265h8.4v5.9h-8.4zM960 265h8.4v5.9h-8.4z"/><path fill="#3893d7" d="M864 232h8.4v5.9h-8.4zM880 237.5h8.4v5.9h-8.4zM896 248.5h8.4v5.9h-8.4zM904 265h8.4v5.9h-8.4z"/><path fill="#4084cf" d="M872 232h8.4v5.9h-8.4zM888 237.5h8.4v5.9h-8.4zM912 259.5h8.4v5.9h-8.4zM912 265h8.4v5.9h-8.4zM920 270.5h16.4v5.9h-16.4z"/><path fill="#4777c6" d="M880 232h8.4v5.9h-8.4zM896 237.5h8.4v5.9h-8.4zM920 254h8.4v5.9h-8.4zM920 259.5h8.4v5.9h-8.4z"/><path fill="#4e6dbe" d="M888 232h8.4v5.9h-8.4zM920 243h8.4v5.9h-8.4zM928 248.5h8.4v5.9h-8.4zM936 254h8.4v5.9h-8.4zM936 259.5h8.4v5.9h-8.4zM952 259.5h8.4v5.9h-8.4z"/><path fill="#5268ba" d="M896 232h8.4v5.9h-8.4zM920 237.5h8.4v5.9h-8.4zM936 243h8.4v5.9h-8.4zM944 248.5h40.4v5.9h-40.4zM952 254h16.4v5.9h-16.4z"/><path fill="#28acdd" d="M824 237.5h16.4v5.9h-16.4zM824 243h32.4v5.9h-32.4zM824 248.5h40.4v5.9h-40.4zM816 254h48.4v5.9h-48.4zM816 259.5h48.4v5.9h-48.4zM840 265h32.4v5.9h-32.4zM872 270.5h16.4v5.9h-16.4zM888 276h8.4v5.9h-8.4zM928 276h8.4v5.9h-8.4zM896 281.5h16.4v5.9h-16.4z"/><path fill="#2fa0dc" d="M872 237.5h8.4v5.9h-8.4zM880 243h8.4v5.9h-8.4zM888 248.5h8.4v5.9h-8.4zM888 254h8.4v5.9h-8.4zM896 270.5h8.4v5.9h-8.4zM944 270.5h8.4v5.9h-8.4zM912 276h8.4v5.9h-8.4z"/><path fill="#4d6fbf" d="M904 237.5h8.4v5.9h-8.4zM928 254h8.4v5.9h-8.4zM976 254h8.4v5.9h-8.4zM960 259.5h8.4v5.9h-8.4z"/><path fill="#3598d8" d="M888 243h8.4v5.9h-8.4zM896 254h8.4v5.9h-8.4zM904 270.5h8.4v5.9h-8.4z"/><path fill="#3e87d1" d="M896 243h8.4v5.9h-8.4zM904 248.5h8.4v5.9h-8.4z"/><path fill="#457ac8" d="M904 243h8.4v5.9h-8.4zM912 248.5h8.4v5.9h-8.4zM984 254h8.4v5.9h-8.4zM920 265h8.4v5.9h-8.4z"/><path fill="#4b71c1" d="M912 243h8.4v5.9h-8.4zM920 248.5h8.4v5.9h-8.4zM928 259.5h8.4v5.9h-8.4zM936 265h8.4v5.9h-8.4z"/><path fill="#4281cc" d="M912 254h8.4v5.9h-8.4zM952 265h8.4v5.9h-8.4z"/><path fill="#3a8fd5" d="M904 259.5h8.4v5.9h-8.4zM912 270.5h8.4v5.9h-8.4z"/><path fill="#30b4a7" d="M984 259.5h8.4v5.9h-8.4zM952 270.5h8.4v5.9h-8.4zM928 287h8.4v5.9h-8.4zM816 292.5h8.4v5.9h-8.4zM928 292.5h8.4v5.9h-8.4zM928 298h8.4v5.9h-8.4zM840 303.5h8.4v5.9h-8.4zM880 309h8.4v5.9h-8.4zM896 309h8.4v5.9h-8.4z"/><path fill="#2aaed5" d="M824 265h16.4v5.9h-16.4zM856 270.5h16.4v5.9h-16.4zM880 276h8.4v5.9h-8.4zM888 281.5h8.4v5.9h-8.4zM912 281.5h8.4v5.9h-8.4zM888 287h32.4v5.9h-32.4zM888 292.5h24.4v5.9h-24.4zM896 298h16.4v5.9h-16.4z"/><path fill="#33b5a1" d="M968 265h8.4v5.9h-8.4zM824 298h8.4v5.9h-8.4zM928 303.5h8.4v5.9h-8.4zM864 309h16.4v5.9h-16.4zM904 309h8.4v5.9h-8.4z"/><path fill="#3ab364" d="M976 265h8.4v5.9h-8.4zM840 309h8.4v5.9h-8.4zM936 309h8.4v5.9h-8.4z"/><path fill="#32ae51" d="M984 265h8.4v5.9h-8.4zM952 281.5h8.4v5.9h-8.4z"/><path fill="#2fac4b" d="M992 265h8.4v5.9h-8.4zM968 276h8.4v5.9h-8.4zM960 281.5h8.4v5.9h-8.4zM960 287h8.4v5.9h-8.4zM960 292.5h8.4v5.9h-8.4zM808 298h8.4v5.9h-8.4zM960 298h8.4v5.9h-8.4zM960 303.5h8.4v5.9h-8.4zM936 314.5h16.4v5.9h-16.4z"/><path fill="#2fac4a" d="M1000 265h8.4v5.9h-8.4zM984 270.5h8.4v5.9h-8.4zM968 281.5h8.4v5.9h-8.4zM968 287h8.4v5.9h-8.4zM968 292.5h8.4v5.9h-8.4zM960 309h8.4v5.9h-8.4zM928 314.5h8.4v5.9h-8.4zM952 314.5h8.4v5.9h-8.4zM864 320h8.4v5.9h-8.4z"/><path fill="#2db1be" d="M816 270.5h8.4v5.9h-8.4zM840 276h24.4v5.9h-24.4zM864 281.5h8.4v5.9h-8.4zM864 287h16.4v5.9h-16.4zM872 292.5h8.4v5.9h-8.4zM872 298h8.4v5.9h-8.4zM920 298h8.4v5.9h-8.4zM872 303.5h8.4v5.9h-8.4zM920 303.5h8.4v5.9h-8.4z"/><path fill="#2cb0c6" d="M824 270.5h16.4v5.9h-16.4zM864 276h8.4v5.9h-8.4zM872 281.5h8.4v5.9h-8.4zM880 287h8.4v5.9h-8.4zM920 287h8.4v5.9h-8.4zM880 292.5h8.4v5.9h-8.4zM920 292.5h8.4v5.9h-8.4zM880 298h8.4v5.9h-8.4zM880 303.5h8.4v5.9h-8.4zM912 303.5h8.4v5.9h-8.4z"/><path fill="#2bafcd" d="M840 270.5h16.4v5.9h-16.4zM872 276h8.4v5.9h-8.4zM880 281.5h8.4v5.9h-8.4zM920 281.5h8.4v5.9h-8.4zM912 292.5h8.4v5.9h-8.4zM888 298h8.4v5.9h-8.4zM912 298h8.4v5.9h-8.4zM888 303.5h24.4v5.9h-24.4z"/><path fill="#3cb46a" d="M960 270.5h8.4v5.9h-8.4z"/><path fill="#33ae52" d="M968 270.5h8.4v5.9h-8.4zM944 309h8.4v5.9h-8.4zM888 314.5h8.4v5.9h-8.4z"/><path fill="#30ad4d" d="M976 270.5h8.4v5.9h-8.4zM952 309h8.4v5.9h-8.4zM848 314.5h8.4v5.9h-8.4zM896 314.5h8.4v5.9h-8.4z"/><path fill="#35ad49" d="M992 270.5h16.4v5.9h-16.4zM976 276h40.4v5.9h-40.4zM976 281.5h40.4v5.9h-40.4zM976 287h40.4v5.9h-40.4zM976 292.5h40.4v5.9h-40.4zM968 298h48.4v5.9h-48.4zM968 303.5h48.4v5.9h-48.4zM968 309h48.4v5.9h-48.4zM960 314.5h48.4v5.9h-48.4zM872 320h8.4v5.9h-8.4zM952 320h64.4v5.9h-64.4zM960 325.5h56.4v5.9h-56.4zM960 331h56.4v5.9h-56.4zM960 336.5h56.4v5.9h-56.4zM960 342h56.4v5.9h-56.4zM960 347.5h48.4v5.9h-48.4zM968 353h40.4v5.9h-40.4zM992 358.5h8.4v5.9h-8.4z"/><path fill="#2eb2b6" d="M816 276h24.4v5.9h-24.4zM936 276h8.4v5.9h-8.4zM808 281.5h56.4v5.9h-56.4zM816 287h48.4v5.9h-48.4zM832 292.5h40.4v5.9h-40.4zM840 298h32.4v5.9h-32.4zM856 303.5h16.4v5.9h-16.4z"/><path fill="#40b880" d="M944 276h8.4v5.9h-8.4zM936 292.5h8.4v5.9h-8.4zM936 298h8.4v5.9h-8.4zM928 309h8.4v5.9h-8.4z"/><path fill="#35b057" d="M952 276h8.4v5.9h-8.4zM944 303.5h8.4v5.9h-8.4zM856 314.5h8.4v5.9h-8.4zM880 314.5h8.4v5.9h-8.4z"/><path fill="#30ad4e" d="M960 276h8.4v5.9h-8.4z"/><path fill="#2fb3ae" d="M928 281.5h8.4v5.9h-8.4zM808 287h8.4v5.9h-8.4zM824 292.5h8.4v5.9h-8.4zM832 298h8.4v5.9h-8.4zM848 303.5h8.4v5.9h-8.4zM888 309h8.4v5.9h-8.4z"/><path fill="#3cb78b" d="M936 281.5h8.4v5.9h-8.4zM832 303.5h8.4v5.9h-8.4z"/><path fill="#38b25f" d="M944 281.5h8.4v5.9h-8.4z"/><path fill="#3eb786" d="M936 287h8.4v5.9h-8.4z"/><path fill="#36b059" d="M944 287h8.4v5.9h-8.4zM944 292.5h8.4v5.9h-8.4zM944 298h8.4v5.9h-8.4zM864 314.5h16.4v5.9h-16.4z"/><path fill="#31ae50" d="M952 287h8.4v5.9h-8.4zM952 292.5h8.4v5.9h-8.4zM952 298h8.4v5.9h-8.4zM952 303.5h8.4v5.9h-8.4z"/><path fill="#37b696" d="M808 292.5h8.4v5.9h-8.4z"/><path fill="#42b87b" d="M816 298h8.4v5.9h-8.4zM936 303.5h8.4v5.9h-8.4z"/><path fill="#bfc829" d="M792 303.5h8.4v5.9h-8.4zM784 309h32.4v5.9h-32.4zM776 314.5h48.4v5.9h-48.4zM768 320h64.4v5.9h-64.4zM920 320h8.4v5.9h-8.4zM768 325.5h72.4v5.9h-72.4zM768 331h72.4v5.9h-72.4zM896 331h8.4v5.9h-8.4zM768 336.5h72.4v5.9h-72.4zM784 342h56.4v5.9h-56.4zM800 347.5h32.4v5.9h-32.4zM896 347.5h8.4v5.9h-8.4zM928 353h8.4v5.9h-8.4zM920 358.5h8.4v5.9h-8.4z"/><path fill="#b9c72c" d="M800 303.5h8.4v5.9h-8.4zM824 314.5h8.4v5.9h-8.4zM832 320h8.4v5.9h-8.4zM896 325.5h8.4v5.9h-8.4zM896 336.5h8.4v5.9h-8.4zM928 336.5h8.4v5.9h-8.4zM776 342h8.4v5.9h-8.4zM896 342h8.4v5.9h-8.4zM792 347.5h8.4v5.9h-8.4zM832 347.5h8.4v5.9h-8.4zM808 353h24.4v5.9h-24.4z"/><path fill="#a4c335" d="M808 303.5h8.4v5.9h-8.4zM840 320h8.4v5.9h-8.4zM896 320h8.4v5.9h-8.4zM928 325.5h8.4v5.9h-8.4zM768 342h8.4v5.9h-8.4zM784 347.5h8.4v5.9h-8.4zM800 353h8.4v5.9h-8.4zM840 353h8.4v5.9h-8.4zM920 364h8.4v5.9h-8.4z"/><path fill="#5ab345" d="M816 303.5h8.4v5.9h-8.4zM768 347.5h8.4v5.9h-8.4zM784 353h8.4v5.9h-8.4zM872 353h8.4v5.9h-8.4zM800 358.5h8.4v5.9h-8.4zM840 364h8.4v5.9h-8.4zM848 386h8.4v5.9h-8.4zM848 391.5h8.4v5.9h-8.4zM848 397h8.4v5.9h-8.4zM848 402.5h8.4v5.9h-8.4zM848 408h8.4v5.9h-8.4z"/><path fill="#34af54" d="M824 303.5h8.4v5.9h-8.4z"/><path fill="#b2c62f" d="M816 309h8.4v5.9h-8.4zM928 331h8.4v5.9h-8.4zM832 353h8.4v5.9h-8.4zM888 353h8.4v5.9h-8.4zM856 364h8.4v5.9h-8.4zM856 369.5h8.4v5.9h-8.4z"/><path fill="#8abd3b" d="M824 309h8.4v5.9h-8.4zM928 320h8.4v5.9h-8.4zM936 347.5h8.4v5.9h-8.4zM824 358.5h8.4v5.9h-8.4zM856 358.5h8.4v5.9h-8.4zM856 391.5h8.4v5.9h-8.4zM920 391.5h8.4v5.9h-8.4zM856 397h8.4v5.9h-8.4zM920 397h8.4v5.9h-8.4zM920 402.5h8.4v5.9h-8.4zM920 408h8.4v5.9h-8.4z"/><path fill="#3faf48" d="M832 309h8.4v5.9h-8.4zM904 314.5h8.4v5.9h-8.4zM920 314.5h8.4v5.9h-8.4zM856 320h8.4v5.9h-8.4zM880 320h8.4v5.9h-8.4zM944 320h8.4v5.9h-8.4zM872 325.5h8.4v5.9h-8.4zM864 331h16.4v5.9h-16.4zM864 336.5h16.4v5.9h-16.4zM864 342h16.4v5.9h-16.4zM864 347.5h8.4v5.9h-8.4zM952 347.5h8.4v5.9h-8.4zM952 353h8.4v5.9h-8.4zM952 358.5h8.4v5.9h-8.4zM936 364h16.4v5.9h-16.4zM936 369.5h16.4v5.9h-16.4zM936 375h16.4v5.9h-16.4zM936 380.5h16.4v5.9h-16.4zM936 386h16.4v5.9h-16.4zM936 391.5h8.4v5.9h-8.4zM936 397h8.4v5.9h-8.4zM936 402.5h8.4v5.9h-8.4zM936 408h8.4v5.9h-8.4zM936 413.5h8.4v5.9h-8.4zM936 419h8.4v5.9h-8.4z"/><path fill="#39b691" d="M848 309h8.4v5.9h-8.4zM920 309h8.4v5.9h-8.4z"/><path fill="#35b59c" d="M856 309h8.4v5.9h-8.4zM912 309h8.4v5.9h-8.4z"/><path fill="#acc532" d="M832 314.5h8.4v5.9h-8.4zM840 325.5h8.4v5.9h-8.4zM840 331h8.4v5.9h-8.4zM840 336.5h8.4v5.9h-8.4zM840 342h8.4v5.9h-8.4zM840 347.5h8.4v5.9h-8.4zM856 375h8.4v5.9h-8.4z"/><path fill="#67b543" d="M840 314.5h8.4v5.9h-8.4zM936 331h8.4v5.9h-8.4zM848 364h8.4v5.9h-8.4z"/><path fill="#45b047" d="M912 314.5h8.4v5.9h-8.4zM944 325.5h8.4v5.9h-8.4zM944 331h8.4v5.9h-8.4zM752 347.5h8.4v5.9h-8.4zM872 347.5h8.4v5.9h-8.4zM744 353h32.4v5.9h-32.4zM736 358.5h56.4v5.9h-56.4zM944 358.5h8.4v5.9h-8.4zM728 364h80.4v5.9h-80.4zM728 369.5h80.4v5.9h-80.4zM728 375h80.4v5.9h-80.4zM728 380.5h80.4v5.9h-80.4zM728 386h80.4v5.9h-80.4zM728 391.5h80.4v5.9h-80.4zM736 397h72.4v5.9h-72.4zM736 402.5h72.4v5.9h-72.4zM744 408h64.4v5.9h-64.4zM752 413.5h56.4v5.9h-56.4zM776 419h24.4v5.9h-24.4z"/><path fill="#60b444" d="M848 320h8.4v5.9h-8.4zM888 320h8.4v5.9h-8.4zM936 325.5h8.4v5.9h-8.4zM848 369.5h8.4v5.9h-8.4zM848 375h8.4v5.9h-8.4zM848 380.5h8.4v5.9h-8.4z"/><path fill="#c6c926" d="M904 320h8.4v5.9h-8.4zM928 342h8.4v5.9h-8.4zM928 347.5h8.4v5.9h-8.4zM864 358.5h8.4v5.9h-8.4z"/><path fill="#d3cb20" d="M912 320h8.4v5.9h-8.4z"/><path fill="#50b146" d="M936 320h8.4v5.9h-8.4zM880 325.5h8.4v5.9h-8.4zM880 331h8.4v5.9h-8.4zM880 336.5h8.4v5.9h-8.4zM880 342h8.4v5.9h-8.4zM880 347.5h8.4v5.9h-8.4zM944 347.5h8.4v5.9h-8.4zM864 353h8.4v5.9h-8.4zM944 353h8.4v5.9h-8.4zM936 358.5h8.4v5.9h-8.4zM808 364h8.4v5.9h-8.4zM816 369.5h24.4v5.9h-24.4zM928 369.5h8.4v5.9h-8.4zM816 375h24.4v5.9h-24.4zM928 375h8.4v5.9h-8.4zM816 380.5h24.4v5.9h-24.4zM928 380.5h8.4v5.9h-8.4zM816 386h24.4v5.9h-24.4zM816 391.5h24.4v5.9h-24.4zM816 397h24.4v5.9h-24.4zM816 402.5h24.4v5.9h-24.4zM816 408h32.4v5.9h-32.4zM816 413.5h32.4v5.9h-32.4zM824 419h24.4v5.9h-24.4z"/><path fill="#70b741" d="M848 325.5h8.4v5.9h-8.4zM936 336.5h8.4v5.9h-8.4zM848 347.5h8.4v5.9h-8.4zM848 353h8.4v5.9h-8.4zM840 358.5h16.4v5.9h-16.4zM856 413.5h8.4v5.9h-8.4zM856 419h8.4v5.9h-8.4z"/><path fill="#4ab047" d="M856 325.5h8.4v5.9h-8.4zM856 331h8.4v5.9h-8.4zM856 336.5h8.4v5.9h-8.4zM944 336.5h8.4v5.9h-8.4zM856 342h8.4v5.9h-8.4zM944 342h8.4v5.9h-8.4zM760 347.5h8.4v5.9h-8.4zM856 347.5h8.4v5.9h-8.4zM776 353h8.4v5.9h-8.4zM792 358.5h8.4v5.9h-8.4zM808 369.5h8.4v5.9h-8.4zM808 375h8.4v5.9h-8.4zM808 380.5h8.4v5.9h-8.4zM808 386h8.4v5.9h-8.4zM928 386h8.4v5.9h-8.4zM808 391.5h8.4v5.9h-8.4zM928 391.5h8.4v5.9h-8.4zM808 397h8.4v5.9h-8.4zM928 397h8.4v5.9h-8.4zM808 402.5h8.4v5.9h-8.4zM928 402.5h8.4v5.9h-8.4zM808 408h8.4v5.9h-8.4zM928 408h8.4v5.9h-8.4zM808 413.5h8.4v5.9h-8.4zM928 413.5h8.4v5.9h-8.4z"/><path fill="#3aae49" d="M864 325.5h8.4v5.9h-8.4zM952 325.5h8.4v5.9h-8.4zM952 331h8.4v5.9h-8.4zM952 336.5h8.4v5.9h-8.4zM952 342h8.4v5.9h-8.4zM960 353h8.4v5.9h-8.4zM960 358.5h32.4v5.9h-32.4zM952 364h48.4v5.9h-48.4zM952 369.5h48.4v5.9h-48.4zM952 375h48.4v5.9h-48.4zM952 380.5h56.4v5.9h-56.4zM952 386h48.4v5.9h-48.4zM944 391.5h56.4v5.9h-56.4zM944 397h56.4v5.9h-56.4zM944 402.5h48.4v5.9h-48.4zM944 408h40.4v5.9h-40.4zM944 413.5h32.4v5.9h-32.4z"/><path fill="#79b93f" d="M888 325.5h8.4v5.9h-8.4zM848 331h8.4v5.9h-8.4zM888 331h8.4v5.9h-8.4zM848 336.5h8.4v5.9h-8.4zM888 336.5h8.4v5.9h-8.4zM848 342h8.4v5.9h-8.4zM888 342h8.4v5.9h-8.4zM936 342h8.4v5.9h-8.4zM776 347.5h8.4v5.9h-8.4zM936 353h8.4v5.9h-8.4zM808 358.5h8.4v5.9h-8.4zM928 358.5h8.4v5.9h-8.4zM856 408h8.4v5.9h-8.4z"/><path fill="#decc1b" d="M904 325.5h8.4v5.9h-8.4zM904 331h8.4v5.9h-8.4zM920 331h8.4v5.9h-8.4zM904 336.5h8.4v5.9h-8.4zM904 342h8.4v5.9h-8.4zM896 353h8.4v5.9h-8.4zM864 408h8.4v5.9h-8.4z"/><path fill="#e6cd18" d="M912 325.5h8.4v5.9h-8.4zM912 331h8.4v5.9h-8.4zM912 336.5h8.4v5.9h-8.4zM920 347.5h8.4v5.9h-8.4zM864 402.5h8.4v5.9h-8.4z"/><path fill="#d9cc1d" d="M920 325.5h8.4v5.9h-8.4zM864 413.5h8.4v5.9h-8.4z"/><path fill="#e2cd1a" d="M920 336.5h8.4v5.9h-8.4zM920 342h8.4v5.9h-8.4zM904 347.5h8.4v5.9h-8.4zM920 353h8.4v5.9h-8.4z"/><path fill="#eace17" d="M912 342h8.4v5.9h-8.4zM912 347.5h8.4v5.9h-8.4zM904 353h8.4v5.9h-8.4zM864 397h8.4v5.9h-8.4z"/><path fill="#82bb3d" d="M888 347.5h8.4v5.9h-8.4zM792 353h8.4v5.9h-8.4zM880 353h8.4v5.9h-8.4zM832 358.5h8.4v5.9h-8.4zM856 402.5h8.4v5.9h-8.4zM920 413.5h8.4v5.9h-8.4z"/><path fill="#55b246" d="M856 353h8.4v5.9h-8.4zM816 364h24.4v5.9h-24.4zM928 364h8.4v5.9h-8.4zM840 369.5h8.4v5.9h-8.4zM840 375h8.4v5.9h-8.4zM840 380.5h8.4v5.9h-8.4zM840 386h8.4v5.9h-8.4zM840 391.5h8.4v5.9h-8.4zM840 397h8.4v5.9h-8.4zM840 402.5h8.4v5.9h-8.4zM848 413.5h8.4v5.9h-8.4zM848 419h8.4v5.9h-8.4z"/><path fill="#eece15" d="M912 353h8.4v5.9h-8.4z"/><path fill="#93bf39" d="M816 358.5h8.4v5.9h-8.4zM920 375h8.4v5.9h-8.4zM920 380.5h8.4v5.9h-8.4zM856 386h8.4v5.9h-8.4zM920 386h8.4v5.9h-8.4z"/><path fill="#f2cf14" d="M872 358.5h8.4v5.9h-8.4zM864 391.5h8.4v5.9h-8.4z"/><path fill="#f9b016" d="M880 358.5h8.4v5.9h-8.4zM864 369.5h8.4v5.9h-8.4z"/><path fill="#f2831d" d="M888 358.5h8.4v5.9h-8.4z"/><path fill="#f0781e" d="M896 358.5h8.4v5.9h-8.4zM872 413.5h8.4v5.9h-8.4z"/><path fill="#f6981a" d="M904 358.5h8.4v5.9h-8.4z"/><path fill="#fad011" d="M912 358.5h8.4v5.9h-8.4zM864 386h8.4v5.9h-8.4zM912 408h8.4v5.9h-8.4zM912 413.5h8.4v5.9h-8.4z"/><path fill="#fabe13" d="M864 364h8.4v5.9h-8.4zM912 364h8.4v5.9h-8.4zM912 369.5h8.4v5.9h-8.4zM864 375h8.4v5.9h-8.4zM912 375h8.4v5.9h-8.4z"/><path fill="#e23727" d="M872 364h8.4v5.9h-8.4zM904 364h8.4v5.9h-8.4zM872 386h8.4v5.9h-8.4zM904 413.5h8.4v5.9h-8.4z"/><path fill="#dc2732" d="M880 364h8.4v5.9h-8.4zM896 364h8.4v5.9h-8.4zM880 408h8.4v5.9h-8.4zM880 413.5h8.4v5.9h-8.4z"/><path fill="#db2634" d="M888 364h8.4v5.9h-8.4zM880 397h8.4v5.9h-8.4zM880 402.5h8.4v5.9h-8.4z"/><path fill="#df2b2a" d="M872 369.5h8.4v5.9h-8.4zM904 369.5h8.4v5.9h-8.4zM872 375h8.4v5.9h-8.4zM904 375h8.4v5.9h-8.4zM904 380.5h8.4v5.9h-8.4z"/><path fill="#da2437" d="M880 369.5h8.4v5.9h-8.4zM896 369.5h8.4v5.9h-8.4zM880 375h8.4v5.9h-8.4zM896 375h8.4v5.9h-8.4zM880 380.5h8.4v5.9h-8.4zM896 380.5h8.4v5.9h-8.4zM880 386h8.4v5.9h-8.4zM896 386h8.4v5.9h-8.4zM880 391.5h8.4v5.9h-8.4zM896 391.5h8.4v5.9h-8.4zM896 397h8.4v5.9h-8.4zM896 402.5h8.4v5.9h-8.4zM896 408h8.4v5.9h-8.4zM896 413.5h8.4v5.9h-8.4z"/><path fill="#db273c" d="M888 369.5h8.4v5.9h-8.4zM888 375h8.4v5.9h-8.4zM888 380.5h8.4v5.9h-8.4zM888 386h8.4v5.9h-8.4zM888 391.5h8.4v5.9h-8.4zM888 397h8.4v5.9h-8.4zM888 402.5h8.4v5.9h-8.4zM888 408h8.4v5.9h-8.4zM888 413.5h8.4v5.9h-8.4z"/><path fill="#9cc137" d="M920 369.5h8.4v5.9h-8.4zM856 380.5h8.4v5.9h-8.4z"/><path fill="#fbc512" d="M864 380.5h8.4v5.9h-8.4zM912 380.5h8.4v5.9h-8.4zM912 386h8.4v5.9h-8.4z"/><path fill="#e02c28" d="M872 380.5h8.4v5.9h-8.4zM904 386h8.4v5.9h-8.4zM904 391.5h8.4v5.9h-8.4zM904 397h8.4v5.9h-8.4zM904 402.5h8.4v5.9h-8.4zM904 408h8.4v5.9h-8.4z"/><path fill="#e54225" d="M872 391.5h8.4v5.9h-8.4z"/><path fill="#fccc11" d="M912 391.5h8.4v5.9h-8.4zM912 397h8.4v5.9h-8.4zM912 402.5h8.4v5.9h-8.4z"/><path fill="#e84d24" d="M872 397h8.4v5.9h-8.4z"/><path fill="#ea5822" d="M872 402.5h8.4v5.9h-8.4z"/><path fill="#ec6321" d="M872 408h8.4v5.9h-8.4z"/></g><g fill="none" stroke="#0a0a0a" stroke-width="2.5" stroke-linecap="round" stroke-linejoin="round"><path d="M868.7 171.6C871.3 170.4 879.2 167.5 884.5 164.4C889.8 161.3 895.4 157.1 900.3 153.1C905.2 149.1 910.6 143.6 913.8 140.6C917 137.6 918.5 135.9 919.5 135"/><path d="M867.5 229.4 L876.6 231.6"/><path d="M903.7 242.3C905.4 243.2 910.6 245.1 913.8 247.9C917 250.7 920.3 256.4 922.9 259.2C925.5 262 926.6 264 929.6 264.8C932.6 265.5 937.1 264.8 940.9 263.7C944.7 262.6 950.3 259 952.2 258.1"/><path d="M823 295.3C825 296.4 829.8 299.6 834.8 302.1C839.8 304.5 846.1 308.1 852.9 310C859.7 311.9 866.4 312.8 875.4 313.4C884.4 314 898 313.8 907 313.4C916 313 924 312.6 929.6 311.1C935.2 309.6 938.3 307.8 940.9 304.4C943.5 301 943.5 294.9 945.4 290.8C947.3 286.6 949.9 281.9 952.2 279.5C954.5 277.1 957.9 276.7 959 276.1"/><path d="M972.5 275 L974.8 278.4"/><path d="M822.4 316.1C824.5 317 831.2 318.7 834.8 321.3C838.4 323.8 842.1 327.5 843.8 331.4C845.5 335.4 846 341 844.9 345C843.8 349 841 353.1 837 355.2C833 357.3 826.5 357.4 821.2 357.4C815.9 357.4 809.9 356.3 805.4 355.2C800.9 354.1 796 351.4 794.1 350.6"/><path d="M901.4 328.1C901 330.5 900.8 338.6 899.1 342.7C897.4 346.8 895.1 350.5 891.2 352.9C887.2 355.4 880.3 356.1 875.4 357.4C870.5 358.7 865.3 359.1 861.9 360.8C858.5 362.5 856.1 363.5 855.1 367.6C854.1 371.7 856.4 380.3 856.2 385.6C856 390.9 855.1 394.3 854 399.2C852.9 404.1 850.2 412.4 849.5 415"/><path d="M932.3 331.4C932.4 334.8 933.8 345.8 933 351.8C932.2 357.8 928.7 362 927.4 367.6C926.1 373.2 925.1 379.6 925.1 385.6C925.1 391.6 926.5 398.8 927.4 403.7C928.3 408.6 930.1 413.1 930.7 415"/><path d="M873.2 373.2C873.6 376.4 873.9 386.6 875.4 392.4C876.9 398.2 879.9 404.3 882.2 408.2C884.5 412.2 887.9 414.8 889 416.1"/><path d="M910.4 373.2C910.2 376.4 910.2 386.6 909.3 392.4C908.4 398.2 906.3 404.3 904.8 408.2C903.3 412.2 901 414.8 900.3 416.1"/><path d="M864.6 359.7 L867.6 359.2"/><path d="M779.4 336 L786.4 334.5"/></g><g class="s" fill="#0a0a0a" text-anchor="middle"><text transform="translate(892.4,175.6) rotate(-20)" y="6.3" style="font-size:19px;font-weight:bold;font-style:italic;">5.7</text><text transform="translate(889.4,236.6) rotate(0)" y="6.4" style="font-size:19.5px;font-weight:bold;font-style:italic;">6</text><text transform="translate(808.8,311.1) rotate(25)" y="6.6" style="font-size:20px;font-weight:bold;font-style:italic;">7</text><text transform="translate(782.9,341.6) rotate(30)" y="6.6" style="font-size:20px;font-weight:bold;font-style:italic;">7</text><text transform="translate(917.2,323.2) rotate(0)" y="6.6" style="font-size:20px;font-weight:bold;font-style:italic;">7</text><text transform="translate(892.4,366.4) rotate(0)" y="6.4" style="font-size:19.5px;font-weight:bold;font-style:italic;">7.5</text></g></g></g><use href="#tisl"/><use href="#tdots"/><use href="#tframe"/><text class="odv" transform="translate(1110.5,445) rotate(-90)">Ocean Data View</text><text class="ax" text-anchor="end" x="642.5" y="103.7">21.7°N</text><text class="ax" text-anchor="end" x="642.5" y="189.9">21.6°N</text><text class="ax" text-anchor="end" x="642.5" y="276.1">21.5°N</text><text class="ax" text-anchor="end" x="642.5" y="362.3">21.4°N</text><text class="ax" text-anchor="end" x="642.5" y="448.5">21.3°N</text></g>
<g transform="translate(-1.4,1267.4)"><use href="#qmap"/><g clip-path="url(#qw)"><g clip-path="url(#qb)"><g clip-path="url(#qtop)"><g filter="url(#bq)" shape-rendering="crispEdges"><path fill="#35ad49" d="M280 88h56.4v8.4h-56.4zM272 96h72.4v8.4h-72.4zM264 104h88.4v8.4h-88.4zM256 112h88.4v8.4h-88.4zM256 120h80.4v8.4h-80.4zM248 128h80.4v8.4h-80.4zM248 136h80.4v8.4h-80.4zM248 144h72.4v8.4h-72.4zM248 152h64.4v8.4h-64.4zM248 160h56.4v8.4h-56.4zM256 168h40.4v8.4h-40.4zM256 176h32.4v8.4h-32.4zM264 184h16.4v8.4h-16.4zM408 184h8.4v8.4h-8.4zM392 192h32.4v8.4h-32.4zM376 200h48.4v8.4h-48.4zM368 208h56.4v8.4h-56.4zM360 216h64.4v8.4h-64.4zM360 224h64.4v8.4h-64.4zM368 232h56.4v8.4h-56.4zM288 272h8.4v8.4h-8.4zM208 288h48.4v8.4h-48.4zM208 296h32.4v8.4h-32.4zM208 304h32.4v8.4h-32.4zM208 312h32.4v8.4h-32.4zM208 320h40.4v8.4h-40.4zM208 328h56.4v8.4h-56.4zM208 336h32.4v8.4h-32.4zM208 344h16.4v8.4h-16.4z"/><path fill="#2fac4a" d="M344 112h8.4v8.4h-8.4zM336 120h8.4v8.4h-8.4zM328 128h8.4v8.4h-8.4zM304 160h8.4v8.4h-8.4zM296 168h8.4v8.4h-8.4zM288 176h8.4v8.4h-8.4zM408 176h8.4v8.4h-8.4zM280 184h8.4v8.4h-8.4zM392 184h16.4v8.4h-16.4zM384 192h8.4v8.4h-8.4zM368 200h8.4v8.4h-8.4zM352 208h16.4v8.4h-16.4zM352 216h8.4v8.4h-8.4zM352 224h8.4v8.4h-8.4zM360 232h8.4v8.4h-8.4zM208 280h16.4v8.4h-16.4zM264 280h8.4v8.4h-8.4zM264 328h8.4v8.4h-8.4zM240 336h8.4v8.4h-8.4zM224 344h8.4v8.4h-8.4z"/><path fill="#30ad4d" d="M352 112h8.4v8.4h-8.4zM296 176h8.4v8.4h-8.4zM288 184h8.4v8.4h-8.4zM384 184h8.4v8.4h-8.4zM280 192h8.4v8.4h-8.4zM368 192h8.4v8.4h-8.4zM344 208h8.4v8.4h-8.4zM344 224h8.4v8.4h-8.4zM368 240h8.4v8.4h-8.4zM400 240h16.4v8.4h-16.4zM232 280h16.4v8.4h-16.4zM256 280h8.4v8.4h-8.4zM400 312h16.4v8.4h-16.4zM392 320h8.4v8.4h-8.4zM280 328h8.4v8.4h-8.4zM384 328h8.4v8.4h-8.4zM384 336h8.4v8.4h-8.4zM376 352h8.4v8.4h-8.4zM376 360h8.4v8.4h-8.4zM376 368h8.4v8.4h-8.4zM368 376h8.4v8.4h-8.4zM368 384h8.4v8.4h-8.4zM368 392h8.4v8.4h-8.4zM360 400h8.4v8.4h-8.4z"/><path fill="#2fac4b" d="M344 120h8.4v8.4h-8.4zM336 128h8.4v8.4h-8.4zM328 136h8.4v8.4h-8.4zM320 144h8.4v8.4h-8.4zM312 152h8.4v8.4h-8.4zM400 176h8.4v8.4h-8.4zM272 192h8.4v8.4h-8.4zM376 192h8.4v8.4h-8.4zM360 200h8.4v8.4h-8.4zM344 216h8.4v8.4h-8.4zM352 232h8.4v8.4h-8.4zM376 240h24.4v8.4h-24.4zM280 272h8.4v8.4h-8.4zM296 272h8.4v8.4h-8.4zM224 280h8.4v8.4h-8.4zM416 312h16.4v8.4h-16.4zM400 320h40.4v8.4h-40.4zM272 328h8.4v8.4h-8.4zM392 328h48.4v8.4h-48.4zM248 336h8.4v8.4h-8.4zM392 336h48.4v8.4h-48.4zM232 344h8.4v8.4h-8.4zM384 344h56.4v8.4h-56.4zM216 352h8.4v8.4h-8.4zM384 352h56.4v8.4h-56.4zM384 360h56.4v8.4h-56.4zM384 368h56.4v8.4h-56.4zM376 376h64.4v8.4h-64.4zM376 384h56.4v8.4h-56.4zM376 392h48.4v8.4h-48.4zM368 400h48.4v8.4h-48.4z"/><path fill="#32ae51" d="M352 120h8.4v8.4h-8.4zM344 128h8.4v8.4h-8.4zM400 168h8.4v8.4h-8.4zM360 192h8.4v8.4h-8.4zM328 216h8.4v8.4h-8.4zM376 248h48.4v8.4h-48.4zM280 264h8.4v8.4h-8.4zM296 264h8.4v8.4h-8.4zM224 272h8.4v8.4h-8.4zM264 272h8.4v8.4h-8.4zM400 304h8.4v8.4h-8.4zM304 312h8.4v8.4h-8.4zM384 312h8.4v8.4h-8.4zM352 400h8.4v8.4h-8.4z"/><path fill="#36b059" d="M360 120h8.4v8.4h-8.4zM352 128h8.4v8.4h-8.4zM360 184h8.4v8.4h-8.4zM312 256h8.4v8.4h-8.4zM360 264h8.4v8.4h-8.4zM360 272h8.4v8.4h-8.4zM368 304h8.4v8.4h-8.4zM248 344h8.4v8.4h-8.4z"/><path fill="#3eb570" d="M360 128h8.4v8.4h-8.4zM352 136h8.4v8.4h-8.4zM376 168h8.4v8.4h-8.4zM360 176h8.4v8.4h-8.4zM304 192h8.4v8.4h-8.4zM336 192h8.4v8.4h-8.4zM312 200h8.4v8.4h-8.4zM312 288h8.4v8.4h-8.4zM360 304h8.4v8.4h-8.4zM312 320h8.4v8.4h-8.4zM344 384h8.4v8.4h-8.4z"/><path fill="#42b87b" d="M368 128h8.4v8.4h-8.4zM360 136h8.4v8.4h-8.4zM352 144h8.4v8.4h-8.4zM344 152h8.4v8.4h-8.4zM392 152h8.4v8.4h-8.4zM336 160h8.4v8.4h-8.4zM376 160h8.4v8.4h-8.4zM368 168h8.4v8.4h-8.4zM352 176h8.4v8.4h-8.4zM320 184h8.4v8.4h-8.4zM336 184h8.4v8.4h-8.4zM312 192h16.4v8.4h-16.4zM320 264h8.4v8.4h-8.4zM312 272h8.4v8.4h-8.4zM312 280h8.4v8.4h-8.4zM352 280h8.4v8.4h-8.4zM352 288h8.4v8.4h-8.4zM360 312h8.4v8.4h-8.4zM360 320h8.4v8.4h-8.4zM272 336h8.4v8.4h-8.4zM352 344h8.4v8.4h-8.4zM344 368h8.4v8.4h-8.4z"/><path fill="#40b880" d="M376 128h8.4v8.4h-8.4zM368 136h8.4v8.4h-8.4zM360 144h8.4v8.4h-8.4zM384 144h8.4v8.4h-8.4zM352 152h40.4v8.4h-40.4zM344 160h32.4v8.4h-32.4zM336 168h32.4v8.4h-32.4zM328 176h24.4v8.4h-24.4zM328 184h8.4v8.4h-8.4zM344 264h8.4v8.4h-8.4zM352 296h8.4v8.4h-8.4zM312 328h8.4v8.4h-8.4zM352 336h8.4v8.4h-8.4zM240 352h8.4v8.4h-8.4zM344 360h8.4v8.4h-8.4z"/><path fill="#31ae50" d="M336 136h8.4v8.4h-8.4zM328 144h8.4v8.4h-8.4zM376 184h8.4v8.4h-8.4zM336 208h8.4v8.4h-8.4zM336 224h8.4v8.4h-8.4zM344 232h8.4v8.4h-8.4zM352 240h8.4v8.4h-8.4zM288 264h8.4v8.4h-8.4zM216 272h8.4v8.4h-8.4zM304 288h8.4v8.4h-8.4zM304 304h8.4v8.4h-8.4zM408 304h8.4v8.4h-8.4zM288 328h8.4v8.4h-8.4zM376 328h8.4v8.4h-8.4zM256 336h8.4v8.4h-8.4zM240 344h8.4v8.4h-8.4zM224 352h8.4v8.4h-8.4zM368 352h8.4v8.4h-8.4zM360 376h8.4v8.4h-8.4z"/><path fill="#35b057" d="M344 136h8.4v8.4h-8.4zM336 144h8.4v8.4h-8.4zM376 176h8.4v8.4h-8.4zM288 200h8.4v8.4h-8.4zM336 200h8.4v8.4h-8.4zM312 208h8.4v8.4h-8.4zM328 248h24.4v8.4h-24.4zM360 256h8.4v8.4h-8.4zM304 264h8.4v8.4h-8.4zM368 288h8.4v8.4h-8.4zM368 296h8.4v8.4h-8.4zM368 328h8.4v8.4h-8.4zM264 336h8.4v8.4h-8.4zM232 352h8.4v8.4h-8.4zM360 352h8.4v8.4h-8.4zM352 376h8.4v8.4h-8.4z"/><path fill="#3eb786" d="M376 136h16.4v8.4h-16.4zM368 144h16.4v8.4h-16.4zM328 264h16.4v8.4h-16.4zM320 304h8.4v8.4h-8.4zM352 304h8.4v8.4h-8.4zM320 312h8.4v8.4h-8.4zM320 320h8.4v8.4h-8.4zM352 328h8.4v8.4h-8.4zM256 344h8.4v8.4h-8.4zM344 352h8.4v8.4h-8.4z"/><path fill="#3cb46a" d="M344 144h8.4v8.4h-8.4zM336 152h8.4v8.4h-8.4zM328 160h8.4v8.4h-8.4zM392 160h8.4v8.4h-8.4zM352 184h8.4v8.4h-8.4zM304 200h8.4v8.4h-8.4zM320 200h8.4v8.4h-8.4zM336 256h16.4v8.4h-16.4zM312 264h8.4v8.4h-8.4zM352 264h8.4v8.4h-8.4zM312 296h8.4v8.4h-8.4zM360 296h8.4v8.4h-8.4zM312 304h8.4v8.4h-8.4zM312 312h8.4v8.4h-8.4zM360 336h8.4v8.4h-8.4zM352 360h8.4v8.4h-8.4zM344 392h8.4v8.4h-8.4z"/><path fill="#30ad4e" d="M320 152h8.4v8.4h-8.4zM312 160h8.4v8.4h-8.4zM304 168h8.4v8.4h-8.4zM392 176h8.4v8.4h-8.4zM352 200h8.4v8.4h-8.4zM336 216h8.4v8.4h-8.4zM360 240h8.4v8.4h-8.4zM272 272h8.4v8.4h-8.4zM248 280h8.4v8.4h-8.4zM304 296h8.4v8.4h-8.4zM416 304h8.4v8.4h-8.4zM392 312h8.4v8.4h-8.4zM384 320h8.4v8.4h-8.4zM376 336h8.4v8.4h-8.4zM376 344h8.4v8.4h-8.4zM368 360h8.4v8.4h-8.4zM368 368h8.4v8.4h-8.4zM360 384h8.4v8.4h-8.4zM360 392h8.4v8.4h-8.4z"/><path fill="#34af55" d="M328 152h8.4v8.4h-8.4zM320 160h8.4v8.4h-8.4zM392 168h8.4v8.4h-8.4zM352 192h8.4v8.4h-8.4zM248 208h64.4v8.4h-64.4zM320 208h8.4v8.4h-8.4zM232 216h56.4v8.4h-56.4zM232 224h56.4v8.4h-56.4zM224 232h72.4v8.4h-72.4zM216 240h80.4v8.4h-80.4zM216 248h80.4v8.4h-80.4zM312 248h16.4v8.4h-16.4zM352 248h8.4v8.4h-8.4zM216 256h64.4v8.4h-64.4zM304 256h8.4v8.4h-8.4zM232 264h24.4v8.4h-24.4zM368 264h8.4v8.4h-8.4zM304 272h8.4v8.4h-8.4zM368 272h8.4v8.4h-8.4zM368 280h8.4v8.4h-8.4zM376 296h8.4v8.4h-8.4zM376 304h8.4v8.4h-8.4z"/><path fill="#40b675" d="M384 160h8.4v8.4h-8.4zM328 168h8.4v8.4h-8.4zM320 176h8.4v8.4h-8.4zM312 184h8.4v8.4h-8.4zM344 184h8.4v8.4h-8.4zM328 192h8.4v8.4h-8.4zM352 272h8.4v8.4h-8.4zM360 328h8.4v8.4h-8.4zM352 352h8.4v8.4h-8.4zM224 360h8.4v8.4h-8.4zM344 376h8.4v8.4h-8.4z"/><path fill="#34af54" d="M312 168h8.4v8.4h-8.4zM304 176h8.4v8.4h-8.4zM368 184h8.4v8.4h-8.4zM328 208h8.4v8.4h-8.4zM288 216h32.4v8.4h-32.4zM288 224h32.4v8.4h-32.4zM296 232h32.4v8.4h-32.4zM296 240h48.4v8.4h-48.4zM296 248h16.4v8.4h-16.4zM360 248h8.4v8.4h-8.4zM280 256h24.4v8.4h-24.4zM368 256h24.4v8.4h-24.4zM216 264h16.4v8.4h-16.4zM256 264h16.4v8.4h-16.4zM376 264h48.4v8.4h-48.4zM376 272h56.4v8.4h-56.4zM376 280h56.4v8.4h-56.4zM376 288h48.4v8.4h-48.4zM384 296h16.4v8.4h-16.4zM376 312h8.4v8.4h-8.4zM304 320h8.4v8.4h-8.4zM296 328h8.4v8.4h-8.4zM368 336h8.4v8.4h-8.4zM360 360h8.4v8.4h-8.4zM352 384h8.4v8.4h-8.4z"/><path fill="#3ab364" d="M320 168h8.4v8.4h-8.4zM312 176h8.4v8.4h-8.4zM368 176h8.4v8.4h-8.4zM328 200h8.4v8.4h-8.4zM328 256h8.4v8.4h-8.4zM360 288h8.4v8.4h-8.4zM368 312h8.4v8.4h-8.4zM304 328h8.4v8.4h-8.4z"/><path fill="#38b25f" d="M384 168h8.4v8.4h-8.4zM304 184h8.4v8.4h-8.4zM296 192h8.4v8.4h-8.4zM344 192h8.4v8.4h-8.4zM296 200h8.4v8.4h-8.4zM320 256h8.4v8.4h-8.4zM352 256h8.4v8.4h-8.4zM360 280h8.4v8.4h-8.4zM368 320h8.4v8.4h-8.4zM360 344h8.4v8.4h-8.4zM352 368h8.4v8.4h-8.4z"/><path fill="#33ae52" d="M384 176h8.4v8.4h-8.4zM296 184h8.4v8.4h-8.4zM288 192h8.4v8.4h-8.4zM344 200h8.4v8.4h-8.4zM320 216h8.4v8.4h-8.4zM320 224h16.4v8.4h-16.4zM328 232h16.4v8.4h-16.4zM344 240h8.4v8.4h-8.4zM368 248h8.4v8.4h-8.4zM392 256h32.4v8.4h-32.4zM272 264h8.4v8.4h-8.4zM232 272h32.4v8.4h-32.4zM304 280h8.4v8.4h-8.4zM424 288h8.4v8.4h-8.4zM400 296h24.4v8.4h-24.4zM384 304h16.4v8.4h-16.4zM376 320h8.4v8.4h-8.4zM368 344h8.4v8.4h-8.4zM360 368h8.4v8.4h-8.4zM352 392h8.4v8.4h-8.4z"/><path fill="#37b696" d="M320 272h8.4v8.4h-8.4zM344 280h8.4v8.4h-8.4zM320 288h8.4v8.4h-8.4zM344 288h8.4v8.4h-8.4zM344 296h8.4v8.4h-8.4zM328 304h8.4v8.4h-8.4zM344 304h8.4v8.4h-8.4zM336 312h16.4v8.4h-16.4zM312 336h8.4v8.4h-8.4zM328 352h8.4v8.4h-8.4zM336 384h8.4v8.4h-8.4z"/><path fill="#35b59c" d="M328 272h16.4v8.4h-16.4zM320 280h8.4v8.4h-8.4zM328 296h8.4v8.4h-8.4zM336 304h8.4v8.4h-8.4zM280 336h8.4v8.4h-8.4zM320 344h8.4v8.4h-8.4zM328 360h8.4v8.4h-8.4z"/><path fill="#3cb78b" d="M344 272h8.4v8.4h-8.4zM320 296h8.4v8.4h-8.4zM352 312h8.4v8.4h-8.4zM352 320h8.4v8.4h-8.4zM320 328h8.4v8.4h-8.4zM344 336h8.4v8.4h-8.4zM344 344h8.4v8.4h-8.4z"/><path fill="#3faf48" d="M272 280h8.4v8.4h-8.4zM256 288h8.4v8.4h-8.4zM256 312h8.4v8.4h-8.4zM264 320h8.4v8.4h-8.4z"/><path fill="#4ab047" d="M280 280h8.4v8.4h-8.4zM264 288h8.4v8.4h-8.4zM264 312h8.4v8.4h-8.4zM272 320h8.4v8.4h-8.4z"/><path fill="#55b246" d="M288 280h8.4v8.4h-8.4zM264 296h8.4v8.4h-8.4zM280 320h16.4v8.4h-16.4z"/><path fill="#45b047" d="M296 280h8.4v8.4h-8.4zM256 296h8.4v8.4h-8.4zM256 304h8.4v8.4h-8.4zM296 312h8.4v8.4h-8.4z"/><path fill="#30b4a7" d="M328 280h8.4v8.4h-8.4zM336 288h8.4v8.4h-8.4zM320 352h8.4v8.4h-8.4zM328 368h8.4v8.4h-8.4zM336 392h8.4v8.4h-8.4z"/><path fill="#33b5a1" d="M336 280h8.4v8.4h-8.4zM328 288h8.4v8.4h-8.4zM336 296h8.4v8.4h-8.4zM304 336h8.4v8.4h-8.4z"/><path fill="#5ab345" d="M272 288h8.4v8.4h-8.4zM272 312h8.4v8.4h-8.4z"/><path fill="#70b741" d="M280 288h16.4v8.4h-16.4zM272 296h8.4v8.4h-8.4zM280 312h8.4v8.4h-8.4z"/><path fill="#50b146" d="M296 288h8.4v8.4h-8.4zM296 296h8.4v8.4h-8.4zM264 304h8.4v8.4h-8.4zM296 304h8.4v8.4h-8.4z"/><path fill="#3aae49" d="M240 296h16.4v8.4h-16.4zM240 304h16.4v8.4h-16.4zM240 312h16.4v8.4h-16.4zM248 320h16.4v8.4h-16.4zM296 320h8.4v8.4h-8.4z"/><path fill="#82bb3d" d="M280 296h8.4v8.4h-8.4z"/><path fill="#79b93f" d="M288 296h8.4v8.4h-8.4zM280 304h16.4v8.4h-16.4z"/><path fill="#67b543" d="M272 304h8.4v8.4h-8.4zM288 312h8.4v8.4h-8.4z"/><path fill="#39b691" d="M328 312h8.4v8.4h-8.4zM328 320h24.4v8.4h-24.4zM328 328h24.4v8.4h-24.4zM320 336h24.4v8.4h-24.4zM328 344h16.4v8.4h-16.4zM336 352h8.4v8.4h-8.4zM336 360h8.4v8.4h-8.4zM336 368h8.4v8.4h-8.4zM336 376h8.4v8.4h-8.4z"/><path fill="#2eb2b6" d="M288 336h16.4v8.4h-16.4zM264 344h8.4v8.4h-8.4zM248 352h8.4v8.4h-8.4z"/><path fill="#2ca5dd" d="M272 344h8.4v8.4h-8.4zM312 352h8.4v8.4h-8.4zM240 360h8.4v8.4h-8.4zM320 368h8.4v8.4h-8.4z"/><path fill="#3a8fd5" d="M280 344h8.4v8.4h-8.4zM264 352h8.4v8.4h-8.4zM248 360h8.4v8.4h-8.4zM312 360h8.4v8.4h-8.4zM320 376h8.4v8.4h-8.4z"/><path fill="#3d8bd3" d="M288 344h16.4v8.4h-16.4z"/><path fill="#329cda" d="M304 344h8.4v8.4h-8.4z"/><path fill="#2db1be" d="M312 344h8.4v8.4h-8.4zM328 376h8.4v8.4h-8.4z"/><path fill="#2fa0dc" d="M256 352h8.4v8.4h-8.4z"/><path fill="#4084cf" d="M272 352h8.4v8.4h-8.4zM256 360h8.4v8.4h-8.4zM240 368h8.4v8.4h-8.4zM312 368h8.4v8.4h-8.4zM320 384h8.4v8.4h-8.4z"/><path fill="#4281cc" d="M280 352h8.4v8.4h-8.4zM296 352h8.4v8.4h-8.4zM264 360h8.4v8.4h-8.4zM304 360h8.4v8.4h-8.4zM248 368h8.4v8.4h-8.4zM232 376h8.4v8.4h-8.4zM312 376h8.4v8.4h-8.4zM320 392h8.4v8.4h-8.4z"/><path fill="#447eca" d="M288 352h8.4v8.4h-8.4zM272 360h32.4v8.4h-32.4zM256 368h56.4v8.4h-56.4zM240 376h72.4v8.4h-72.4zM232 384h88.4v8.4h-88.4zM232 392h88.4v8.4h-88.4zM240 400h88.4v8.4h-88.4zM248 408h80.4v8.4h-80.4zM256 416h56.4v8.4h-56.4z"/><path fill="#3e87d1" d="M304 352h8.4v8.4h-8.4zM328 400h8.4v8.4h-8.4z"/><path fill="#2fb3ae" d="M232 360h8.4v8.4h-8.4z"/><path fill="#2cb0c6" d="M320 360h8.4v8.4h-8.4z"/><path fill="#2aa9df" d="M224 368h8.4v8.4h-8.4zM328 384h8.4v8.4h-8.4z"/><path fill="#3893d7" d="M232 368h8.4v8.4h-8.4zM328 392h8.4v8.4h-8.4z"/></g><ellipse cx="291.3" cy="303.5" rx="21" ry="26" fill="url(#hG0)"/><use href="#qfaint"/><g fill="none" stroke="#0a0a0a" stroke-width="2.5" stroke-linecap="round" stroke-linejoin="round"><path d="M289.1 183.1C291.3 181.6 298 177.4 302.2 174.4C306.4 171.4 310.8 168.1 314.3 165.3C317.8 162.4 321.9 158.6 323.4 157.3"/><path d="M360.7 200C358.3 201.3 350.8 204.7 346.6 207.7C342.4 210.7 337.5 214.4 335.5 217.8C333.5 221.1 333.3 224.8 334.5 227.8C335.7 230.8 338.5 233.5 342.5 235.9C346.5 238.3 353.3 240.5 358.7 242C364.1 243.5 372.1 244.5 374.8 245"/><path d="M258.9 278.6C262.1 278.2 272.5 277.8 278 276.2C283.5 274.6 287.7 271.3 292.1 269.2C296.5 267.1 301.2 263.7 304.2 263.7C307.2 263.7 308.9 265.8 310.3 269.2C311.6 272.6 312 277.9 312.3 284.3C312.6 290.7 312 303.6 311.9 307.5"/><path d="M222.6 293.4C224.8 294.9 230.8 299.9 235.7 302.4C240.6 304.9 247.6 306.5 251.8 308.5C256 310.5 258.7 311.2 260.9 314.5C263.1 317.8 262.7 325.2 264.9 328.6C267.1 332 269.5 333.5 274 334.7C278.5 335.9 286.7 335.9 292.1 335.7C297.5 335.5 302.9 335 306.2 333.7C309.5 332.3 310.9 328.6 311.9 327.6"/><path d="M274 292.4C273.7 293.7 271.9 297.9 272 300.4C272.1 302.9 273.2 305.4 274.4 307.6C275.6 309.8 278.6 312.6 279.4 313.6"/><path d="M304.2 292.4C304.5 294.1 306.5 299.2 306.2 302.4C305.9 305.6 302.9 310 302.2 311.5"/><path d="M281 300.4C281.5 301.7 282.2 306.6 284.1 308.5C285.9 310.4 289.7 311.7 292.1 311.5C294.4 311.3 296.8 309.4 298.2 307.5C299.6 305.6 299.9 301.6 300.2 300.4"/><path d="M257.9 352.8C260.6 351.8 268.6 348.1 274 346.8C279.4 345.5 284.7 344.6 290.1 344.8C295.5 345 301.8 345.8 306.2 347.8C310.6 349.8 313.3 353.4 316.3 356.9C319.3 360.4 322.2 365 324.4 369C326.6 373 328.6 379.1 329.4 381.1"/><path d="M378.8 330.7C377.5 332.7 373 338.1 370.8 342.8C368.6 347.5 366.8 353.5 365.7 358.9C364.6 364.3 364.4 369.6 364.3 375C364.2 380.4 365 388.4 365.1 391.1"/></g><g class="s" fill="#0a0a0a" text-anchor="middle"><text transform="translate(339.5,140.1) rotate(-55)" y="6.3" style="font-size:19px;">2.5</text><text transform="translate(378.8,192.6) rotate(-20)" y="6.3" style="font-size:19px;">2.5</text><text transform="translate(401.4,247) rotate(0)" y="6.3" style="font-size:19px;">2.5</text><text transform="translate(225.4,284.3) rotate(-20)" y="6.3" style="font-size:19px;">2.5</text><text transform="translate(290.1,323.6) rotate(0)" y="5.9" style="font-size:18px;">3.5</text><text transform="translate(288.1,291.4) rotate(0)" y="5.6" style="font-size:17px;font-style:italic;">4</text><text transform="translate(242.7,360.9) rotate(-25)" y="6.3" style="font-size:19px;">2</text><text transform="translate(398,319.6) rotate(-25)" y="6.3" style="font-size:19px;">2.5</text></g></g></g></g><use href="#qisl"/><use href="#qdots"/><use href="#qframe"/><text class="odv" transform="translate(559,445) rotate(-90)">Ocean Data View</text><text class="ax" text-anchor="end" x="92.8" y="157.1">21.7°N</text><text class="ax" text-anchor="end" x="92.8" y="265.6">21.6°N</text><text class="ax" text-anchor="end" x="92.8" y="373.9">21.5°N</text></g>
<g transform="translate(-0.3,1261.5)"><use href="#tmap"/><g clip-path="url(#tw)"><g clip-path="url(#tb)"><g filter="url(#bt)" shape-rendering="crispEdges"><path fill="#35b59c" d="M800 56h104.4v5.9h-104.4zM800 61.5h104.4v5.9h-104.4zM800 67h104.4v5.9h-104.4zM800 72.5h104.4v5.9h-104.4zM800 78h104.4v5.9h-104.4zM800 83.5h104.4v5.9h-104.4zM800 89h104.4v5.9h-104.4zM800 94.5h104.4v5.9h-104.4zM800 100h104.4v5.9h-104.4zM800 105.5h112.4v5.9h-112.4zM800 111h120.4v5.9h-120.4zM800 116.5h112.4v5.9h-112.4zM800 122h88.4v5.9h-88.4zM800 127.5h64.4v5.9h-64.4zM800 133h40.4v5.9h-40.4zM800 138.5h16.4v5.9h-16.4zM984 254h8.4v5.9h-8.4zM960 259.5h24.4v5.9h-24.4zM944 265h16.4v5.9h-16.4zM856 270.5h8.4v5.9h-8.4zM920 270.5h8.4v5.9h-8.4zM832 309h8.4v5.9h-8.4zM992 358.5h8.4v5.9h-8.4zM888 364h8.4v5.9h-8.4zM872 380.5h8.4v5.9h-8.4zM880 413.5h8.4v5.9h-8.4z"/><path fill="#33b5a1" d="M912 116.5h8.4v5.9h-8.4zM888 122h24.4v5.9h-24.4zM864 127.5h24.4v5.9h-24.4zM840 133h24.4v5.9h-24.4zM816 138.5h24.4v5.9h-24.4zM808 144h8.4v5.9h-8.4zM960 254h24.4v5.9h-24.4zM944 259.5h16.4v5.9h-16.4zM936 265h8.4v5.9h-8.4zM912 270.5h8.4v5.9h-8.4zM928 320h8.4v5.9h-8.4zM848 353h8.4v5.9h-8.4zM872 386h8.4v5.9h-8.4zM896 413.5h8.4v5.9h-8.4z"/><path fill="#30b4a7" d="M912 122h8.4v5.9h-8.4zM888 127.5h8.4v5.9h-8.4zM864 133h8.4v5.9h-8.4zM840 138.5h8.4v5.9h-8.4zM816 144h8.4v5.9h-8.4zM976 248.5h16.4v5.9h-16.4zM944 254h16.4v5.9h-16.4zM936 259.5h8.4v5.9h-8.4zM928 265h8.4v5.9h-8.4zM864 270.5h8.4v5.9h-8.4zM904 270.5h8.4v5.9h-8.4zM904 314.5h8.4v5.9h-8.4zM920 314.5h8.4v5.9h-8.4zM872 391.5h8.4v5.9h-8.4z"/><path fill="#2fb3ae" d="M896 127.5h8.4v5.9h-8.4zM872 133h8.4v5.9h-8.4zM848 138.5h8.4v5.9h-8.4zM824 144h8.4v5.9h-8.4zM968 248.5h8.4v5.9h-8.4zM936 254h8.4v5.9h-8.4zM928 259.5h8.4v5.9h-8.4zM920 265h8.4v5.9h-8.4zM872 270.5h8.4v5.9h-8.4zM888 270.5h16.4v5.9h-16.4zM840 314.5h8.4v5.9h-8.4zM888 353h8.4v5.9h-8.4zM896 369.5h8.4v5.9h-8.4z"/><path fill="#2db1be" d="M904 127.5h8.4v5.9h-8.4zM880 133h8.4v5.9h-8.4zM856 138.5h8.4v5.9h-8.4zM832 144h8.4v5.9h-8.4zM808 149.5h8.4v5.9h-8.4zM944 248.5h8.4v5.9h-8.4zM920 254h8.4v5.9h-8.4zM832 265h8.4v5.9h-8.4zM912 265h8.4v5.9h-8.4zM816 303.5h8.4v5.9h-8.4zM912 314.5h8.4v5.9h-8.4zM888 358.5h8.4v5.9h-8.4zM864 364h8.4v5.9h-8.4zM872 402.5h8.4v5.9h-8.4z"/><path fill="#2bafcd" d="M912 127.5h8.4v5.9h-8.4zM888 133h8.4v5.9h-8.4zM864 138.5h8.4v5.9h-8.4zM840 144h8.4v5.9h-8.4zM816 149.5h8.4v5.9h-8.4zM968 243h8.4v5.9h-8.4zM928 248.5h8.4v5.9h-8.4zM912 254h8.4v5.9h-8.4zM840 265h8.4v5.9h-8.4zM904 265h8.4v5.9h-8.4zM984 358.5h8.4v5.9h-8.4zM864 369.5h8.4v5.9h-8.4zM904 380.5h8.4v5.9h-8.4zM904 386h8.4v5.9h-8.4zM904 391.5h8.4v5.9h-8.4zM872 413.5h8.4v5.9h-8.4z"/><path fill="#2aa9df" d="M896 133h8.4v5.9h-8.4zM872 138.5h8.4v5.9h-8.4zM848 144h8.4v5.9h-8.4zM824 149.5h8.4v5.9h-8.4zM944 243h8.4v5.9h-8.4zM896 248.5h16.4v5.9h-16.4zM888 254h16.4v5.9h-16.4zM816 259.5h16.4v5.9h-16.4zM888 259.5h8.4v5.9h-8.4zM864 265h24.4v5.9h-24.4zM824 309h8.4v5.9h-8.4zM864 386h8.4v5.9h-8.4zM904 408h8.4v5.9h-8.4z"/><path fill="#329cda" d="M904 133h8.4v5.9h-8.4zM880 138.5h8.4v5.9h-8.4zM840 232h16.4v5.9h-16.4zM872 237.5h8.4v5.9h-8.4zM976 237.5h8.4v5.9h-8.4zM896 243h16.4v5.9h-16.4zM920 243h16.4v5.9h-16.4zM808 303.5h8.4v5.9h-8.4zM920 320h8.4v5.9h-8.4zM896 358.5h8.4v5.9h-8.4zM864 408h8.4v5.9h-8.4zM864 413.5h8.4v5.9h-8.4z"/><path fill="#3a8fd5" d="M912 133h8.4v5.9h-8.4zM888 237.5h8.4v5.9h-8.4zM952 237.5h8.4v5.9h-8.4zM792 303.5h8.4v5.9h-8.4zM784 309h32.4v5.9h-32.4zM776 314.5h48.4v5.9h-48.4zM768 320h64.4v5.9h-64.4zM904 320h8.4v5.9h-8.4zM768 325.5h64.4v5.9h-64.4zM920 325.5h8.4v5.9h-8.4zM768 331h64.4v5.9h-64.4zM776 336.5h56.4v5.9h-56.4zM792 342h40.4v5.9h-40.4zM808 347.5h24.4v5.9h-24.4zM928 347.5h8.4v5.9h-8.4zM832 353h8.4v5.9h-8.4zM904 364h8.4v5.9h-8.4zM856 369.5h8.4v5.9h-8.4zM856 375h8.4v5.9h-8.4z"/><path fill="#4084cf" d="M920 133h8.4v5.9h-8.4zM896 138.5h8.4v5.9h-8.4zM872 144h8.4v5.9h-8.4zM872 232h8.4v5.9h-8.4zM912 237.5h16.4v5.9h-16.4zM920 336.5h8.4v5.9h-8.4zM904 342h8.4v5.9h-8.4zM904 347.5h8.4v5.9h-8.4zM904 358.5h8.4v5.9h-8.4zM912 369.5h8.4v5.9h-8.4zM912 397h8.4v5.9h-8.4zM912 402.5h8.4v5.9h-8.4zM912 408h8.4v5.9h-8.4z"/><path fill="#3d8bd3" d="M888 138.5h8.4v5.9h-8.4zM864 144h8.4v5.9h-8.4zM840 149.5h8.4v5.9h-8.4zM816 155h8.4v5.9h-8.4zM864 232h8.4v5.9h-8.4zM896 237.5h8.4v5.9h-8.4zM936 237.5h16.4v5.9h-16.4zM768 336.5h8.4v5.9h-8.4zM784 342h8.4v5.9h-8.4zM800 347.5h8.4v5.9h-8.4zM816 353h16.4v5.9h-16.4zM856 380.5h8.4v5.9h-8.4zM856 386h8.4v5.9h-8.4zM856 391.5h8.4v5.9h-8.4zM856 397h8.4v5.9h-8.4zM856 402.5h8.4v5.9h-8.4z"/><path fill="#457ac8" d="M904 138.5h8.4v5.9h-8.4zM880 144h8.4v5.9h-8.4zM856 149.5h8.4v5.9h-8.4zM832 155h8.4v5.9h-8.4zM880 232h8.4v5.9h-8.4zM912 232h16.4v5.9h-16.4zM912 336.5h8.4v5.9h-8.4zM912 342h8.4v5.9h-8.4zM912 347.5h16.4v5.9h-16.4zM912 353h8.4v5.9h-8.4zM928 353h8.4v5.9h-8.4zM912 358.5h8.4v5.9h-8.4zM848 369.5h8.4v5.9h-8.4zM848 375h8.4v5.9h-8.4zM848 380.5h8.4v5.9h-8.4zM848 386h8.4v5.9h-8.4zM848 391.5h8.4v5.9h-8.4zM848 397h8.4v5.9h-8.4zM848 402.5h8.4v5.9h-8.4zM848 408h8.4v5.9h-8.4z"/><path fill="#4777c6" d="M912 138.5h8.4v5.9h-8.4zM888 144h8.4v5.9h-8.4zM864 149.5h8.4v5.9h-8.4zM840 155h8.4v5.9h-8.4zM816 160.5h8.4v5.9h-8.4zM848 226.5h8.4v5.9h-8.4zM928 226.5h24.4v5.9h-24.4zM888 232h24.4v5.9h-24.4zM920 353h8.4v5.9h-8.4zM816 358.5h24.4v5.9h-24.4z"/><path fill="#4974c3" d="M920 138.5h8.4v5.9h-8.4zM896 144h8.4v5.9h-8.4zM872 149.5h8.4v5.9h-8.4zM848 155h8.4v5.9h-8.4zM824 160.5h8.4v5.9h-8.4zM920 226.5h8.4v5.9h-8.4zM952 226.5h8.4v5.9h-8.4zM776 347.5h8.4v5.9h-8.4zM792 353h8.4v5.9h-8.4zM920 358.5h8.4v5.9h-8.4zM920 364h8.4v5.9h-8.4z"/><path fill="#3598d8" d="M856 144h8.4v5.9h-8.4zM832 149.5h8.4v5.9h-8.4zM880 237.5h8.4v5.9h-8.4zM968 237.5h8.4v5.9h-8.4zM912 243h8.4v5.9h-8.4zM832 320h8.4v5.9h-8.4zM896 353h8.4v5.9h-8.4zM976 358.5h8.4v5.9h-8.4zM856 364h8.4v5.9h-8.4z"/><path fill="#4b71c1" d="M904 144h16.4v5.9h-16.4zM880 149.5h16.4v5.9h-16.4zM856 155h16.4v5.9h-16.4zM832 160.5h16.4v5.9h-16.4zM816 166h8.4v5.9h-8.4zM912 226.5h8.4v5.9h-8.4zM960 226.5h8.4v5.9h-8.4zM808 358.5h8.4v5.9h-8.4zM840 364h8.4v5.9h-8.4zM920 369.5h8.4v5.9h-8.4zM840 386h8.4v5.9h-8.4zM840 391.5h8.4v5.9h-8.4zM840 397h8.4v5.9h-8.4zM840 402.5h8.4v5.9h-8.4zM840 408h8.4v5.9h-8.4zM840 413.5h8.4v5.9h-8.4zM840 419h8.4v5.9h-8.4z"/><path fill="#4d6fbf" d="M920 144h16.4v5.9h-16.4zM896 149.5h24.4v5.9h-24.4zM872 155h24.4v5.9h-24.4zM848 160.5h24.4v5.9h-24.4zM824 166h24.4v5.9h-24.4zM816 171.5h8.4v5.9h-8.4zM928 221h24.4v5.9h-24.4zM968 226.5h8.4v5.9h-8.4zM928 358.5h8.4v5.9h-8.4zM840 369.5h8.4v5.9h-8.4zM840 375h8.4v5.9h-8.4zM920 375h8.4v5.9h-8.4zM840 380.5h8.4v5.9h-8.4zM920 380.5h8.4v5.9h-8.4zM920 408h8.4v5.9h-8.4zM920 413.5h8.4v5.9h-8.4z"/><path fill="#4281cc" d="M848 149.5h8.4v5.9h-8.4zM824 155h8.4v5.9h-8.4zM840 226.5h8.4v5.9h-8.4zM952 232h24.4v5.9h-24.4zM768 342h8.4v5.9h-8.4zM920 342h8.4v5.9h-8.4zM784 347.5h8.4v5.9h-8.4zM800 353h8.4v5.9h-8.4zM904 353h8.4v5.9h-8.4zM912 413.5h8.4v5.9h-8.4z"/><path fill="#4e6dbe" d="M920 149.5h8.4v5.9h-8.4zM896 155h16.4v5.9h-16.4zM872 160.5h16.4v5.9h-16.4zM848 166h16.4v5.9h-16.4zM824 171.5h16.4v5.9h-16.4zM920 221h8.4v5.9h-8.4zM856 226.5h8.4v5.9h-8.4zM904 226.5h8.4v5.9h-8.4zM960 358.5h8.4v5.9h-8.4zM920 386h8.4v5.9h-8.4zM920 391.5h8.4v5.9h-8.4zM920 397h8.4v5.9h-8.4zM920 402.5h8.4v5.9h-8.4zM832 419h8.4v5.9h-8.4z"/><path fill="#506abc" d="M928 149.5h8.4v5.9h-8.4zM912 155h8.4v5.9h-8.4zM888 160.5h8.4v5.9h-8.4zM864 166h8.4v5.9h-8.4zM840 171.5h8.4v5.9h-8.4zM952 221h8.4v5.9h-8.4zM976 226.5h8.4v5.9h-8.4zM784 353h8.4v5.9h-8.4zM800 358.5h8.4v5.9h-8.4zM936 358.5h8.4v5.9h-8.4zM832 364h8.4v5.9h-8.4zM928 364h8.4v5.9h-8.4zM832 369.5h8.4v5.9h-8.4zM832 375h8.4v5.9h-8.4zM832 380.5h8.4v5.9h-8.4zM832 386h8.4v5.9h-8.4zM832 391.5h8.4v5.9h-8.4zM832 397h8.4v5.9h-8.4zM832 402.5h8.4v5.9h-8.4zM832 408h8.4v5.9h-8.4zM832 413.5h8.4v5.9h-8.4z"/><path fill="#5466b8" d="M920 155h8.4v5.9h-8.4zM856 171.5h8.4v5.9h-8.4zM832 177h8.4v5.9h-8.4zM928 215.5h16.4v5.9h-16.4zM960 221h8.4v5.9h-8.4zM864 226.5h8.4v5.9h-8.4zM944 358.5h16.4v5.9h-16.4zM816 364h8.4v5.9h-8.4zM824 369.5h8.4v5.9h-8.4zM824 375h8.4v5.9h-8.4zM824 380.5h8.4v5.9h-8.4zM824 386h8.4v5.9h-8.4zM824 391.5h8.4v5.9h-8.4zM824 397h8.4v5.9h-8.4zM824 402.5h8.4v5.9h-8.4zM824 408h8.4v5.9h-8.4zM824 413.5h8.4v5.9h-8.4z"/><path fill="#5663b6" d="M928 155h8.4v5.9h-8.4zM904 160.5h8.4v5.9h-8.4zM880 166h8.4v5.9h-8.4zM920 215.5h8.4v5.9h-8.4zM944 215.5h16.4v5.9h-16.4zM968 221h8.4v5.9h-8.4zM888 226.5h8.4v5.9h-8.4zM760 347.5h8.4v5.9h-8.4zM776 353h8.4v5.9h-8.4zM792 358.5h8.4v5.9h-8.4zM808 364h8.4v5.9h-8.4zM816 369.5h8.4v5.9h-8.4zM928 369.5h8.4v5.9h-8.4zM816 375h8.4v5.9h-8.4zM816 380.5h8.4v5.9h-8.4zM816 386h8.4v5.9h-8.4zM816 391.5h8.4v5.9h-8.4zM816 397h8.4v5.9h-8.4zM816 402.5h8.4v5.9h-8.4zM816 408h8.4v5.9h-8.4zM816 413.5h8.4v5.9h-8.4z"/><path fill="#5268ba" d="M896 160.5h8.4v5.9h-8.4zM872 166h8.4v5.9h-8.4zM848 171.5h8.4v5.9h-8.4zM824 177h8.4v5.9h-8.4zM912 221h8.4v5.9h-8.4zM896 226.5h8.4v5.9h-8.4zM768 347.5h8.4v5.9h-8.4zM824 364h8.4v5.9h-8.4zM824 419h8.4v5.9h-8.4z"/><path fill="#5a5fb2" d="M912 160.5h8.4v5.9h-8.4zM888 166h8.4v5.9h-8.4zM944 171.5h8.4v5.9h-8.4zM936 177h16.4v5.9h-16.4zM936 182.5h16.4v5.9h-16.4zM936 188h16.4v5.9h-16.4zM928 193.5h32.4v5.9h-32.4zM928 199h32.4v5.9h-32.4zM928 204.5h40.4v5.9h-40.4zM928 210h8.4v5.9h-8.4zM960 210h16.4v5.9h-16.4zM912 215.5h8.4v5.9h-8.4zM840 221h8.4v5.9h-8.4zM936 364h8.4v5.9h-8.4zM928 380.5h8.4v5.9h-8.4zM928 391.5h8.4v5.9h-8.4zM928 397h8.4v5.9h-8.4zM928 402.5h8.4v5.9h-8.4z"/><path fill="#5e5baf" d="M920 160.5h8.4v5.9h-8.4zM936 160.5h8.4v5.9h-8.4zM896 166h8.4v5.9h-8.4zM936 166h8.4v5.9h-8.4zM920 193.5h8.4v5.9h-8.4zM920 199h8.4v5.9h-8.4zM920 204.5h8.4v5.9h-8.4zM904 215.5h8.4v5.9h-8.4zM848 221h8.4v5.9h-8.4zM888 221h8.4v5.9h-8.4z"/><path fill="#615aae" d="M928 160.5h8.4v5.9h-8.4zM880 171.5h8.4v5.9h-8.4zM856 177h8.4v5.9h-8.4zM928 177h8.4v5.9h-8.4zM832 182.5h8.4v5.9h-8.4zM920 188h8.4v5.9h-8.4zM912 204.5h8.4v5.9h-8.4zM904 210h16.4v5.9h-16.4zM888 215.5h16.4v5.9h-16.4zM856 221h32.4v5.9h-32.4zM936 369.5h8.4v5.9h-8.4zM936 419h8.4v5.9h-8.4z"/><path fill="#6459ad" d="M904 166h8.4v5.9h-8.4zM928 171.5h8.4v5.9h-8.4zM912 199h8.4v5.9h-8.4zM904 204.5h8.4v5.9h-8.4zM872 210h32.4v5.9h-32.4zM840 215.5h48.4v5.9h-48.4zM936 413.5h8.4v5.9h-8.4z"/><path fill="#6758ac" d="M912 166h8.4v5.9h-8.4zM928 166h8.4v5.9h-8.4zM888 171.5h8.4v5.9h-8.4zM864 177h8.4v5.9h-8.4zM840 182.5h8.4v5.9h-8.4zM920 182.5h8.4v5.9h-8.4zM912 193.5h8.4v5.9h-8.4zM904 199h8.4v5.9h-8.4zM872 204.5h32.4v5.9h-32.4zM840 210h32.4v5.9h-32.4zM944 364h8.4v5.9h-8.4zM936 375h8.4v5.9h-8.4zM936 402.5h8.4v5.9h-8.4zM936 408h8.4v5.9h-8.4z"/><path fill="#6a57ab" d="M920 166h8.4v5.9h-8.4zM872 177h8.4v5.9h-8.4zM848 182.5h8.4v5.9h-8.4zM888 199h16.4v5.9h-16.4zM856 204.5h16.4v5.9h-16.4zM992 364h8.4v5.9h-8.4zM936 380.5h8.4v5.9h-8.4zM936 386h8.4v5.9h-8.4zM936 391.5h8.4v5.9h-8.4zM936 397h8.4v5.9h-8.4z"/><path fill="#5861b4" d="M864 171.5h8.4v5.9h-8.4zM840 177h8.4v5.9h-8.4zM936 210h24.4v5.9h-24.4zM960 215.5h16.4v5.9h-16.4zM904 221h8.4v5.9h-8.4zM976 221h8.4v5.9h-8.4zM872 226.5h16.4v5.9h-16.4zM752 347.5h8.4v5.9h-8.4zM744 353h32.4v5.9h-32.4zM736 358.5h56.4v5.9h-56.4zM728 364h80.4v5.9h-80.4zM728 369.5h88.4v5.9h-88.4zM728 375h88.4v5.9h-88.4zM928 375h8.4v5.9h-8.4zM728 380.5h88.4v5.9h-88.4zM728 386h88.4v5.9h-88.4zM728 391.5h88.4v5.9h-88.4zM736 397h80.4v5.9h-80.4zM736 402.5h80.4v5.9h-80.4zM744 408h72.4v5.9h-72.4zM928 408h8.4v5.9h-8.4zM752 413.5h64.4v5.9h-64.4zM928 413.5h8.4v5.9h-8.4zM776 419h24.4v5.9h-24.4z"/><path fill="#5c5cb0" d="M872 171.5h8.4v5.9h-8.4zM936 171.5h8.4v5.9h-8.4zM848 177h8.4v5.9h-8.4zM928 182.5h8.4v5.9h-8.4zM928 188h8.4v5.9h-8.4zM920 210h8.4v5.9h-8.4zM896 221h8.4v5.9h-8.4zM928 386h8.4v5.9h-8.4z"/><path fill="#6d56aa" d="M896 171.5h8.4v5.9h-8.4zM920 177h8.4v5.9h-8.4zM856 182.5h8.4v5.9h-8.4zM832 188h8.4v5.9h-8.4zM912 188h8.4v5.9h-8.4zM904 193.5h8.4v5.9h-8.4zM872 199h16.4v5.9h-16.4zM840 204.5h16.4v5.9h-16.4z"/><path fill="#7055a9" d="M904 171.5h24.4v5.9h-24.4zM880 177h16.4v5.9h-16.4zM864 182.5h8.4v5.9h-8.4zM912 182.5h8.4v5.9h-8.4zM840 188h8.4v5.9h-8.4zM888 193.5h16.4v5.9h-16.4zM848 199h24.4v5.9h-24.4zM944 369.5h8.4v5.9h-8.4zM944 413.5h8.4v5.9h-8.4z"/><path fill="#7354a8" d="M896 177h24.4v5.9h-24.4zM872 182.5h24.4v5.9h-24.4zM904 182.5h8.4v5.9h-8.4zM848 188h64.4v5.9h-64.4zM832 193.5h56.4v5.9h-56.4zM832 199h16.4v5.9h-16.4zM952 364h8.4v5.9h-8.4zM984 364h8.4v5.9h-8.4zM944 402.5h8.4v5.9h-8.4zM944 408h8.4v5.9h-8.4z"/><path fill="#7a55a9" d="M896 182.5h8.4v5.9h-8.4zM944 375h8.4v5.9h-8.4zM944 380.5h8.4v5.9h-8.4zM944 386h8.4v5.9h-8.4zM944 391.5h8.4v5.9h-8.4zM944 397h8.4v5.9h-8.4z"/><path fill="#2fa0dc" d="M832 232h8.4v5.9h-8.4zM824 237.5h48.4v5.9h-48.4zM824 243h72.4v5.9h-72.4zM936 243h8.4v5.9h-8.4zM824 248.5h48.4v5.9h-48.4zM824 254h48.4v5.9h-48.4zM832 314.5h8.4v5.9h-8.4zM928 342h8.4v5.9h-8.4zM840 353h8.4v5.9h-8.4zM904 369.5h8.4v5.9h-8.4zM864 397h8.4v5.9h-8.4zM864 402.5h8.4v5.9h-8.4z"/><path fill="#3893d7" d="M856 232h8.4v5.9h-8.4zM960 237.5h8.4v5.9h-8.4zM800 303.5h8.4v5.9h-8.4zM816 309h8.4v5.9h-8.4zM824 314.5h8.4v5.9h-8.4zM832 325.5h8.4v5.9h-8.4zM832 331h8.4v5.9h-8.4zM832 336.5h8.4v5.9h-8.4zM832 342h8.4v5.9h-8.4zM832 347.5h8.4v5.9h-8.4zM848 358.5h8.4v5.9h-8.4z"/><path fill="#447eca" d="M928 232h24.4v5.9h-24.4zM976 232h8.4v5.9h-8.4zM912 325.5h8.4v5.9h-8.4zM912 331h8.4v5.9h-8.4zM840 358.5h8.4v5.9h-8.4zM968 358.5h8.4v5.9h-8.4zM848 364h8.4v5.9h-8.4zM912 364h8.4v5.9h-8.4zM848 413.5h8.4v5.9h-8.4zM848 419h8.4v5.9h-8.4z"/><path fill="#3e87d1" d="M904 237.5h8.4v5.9h-8.4zM928 237.5h8.4v5.9h-8.4zM912 320h8.4v5.9h-8.4zM904 325.5h8.4v5.9h-8.4zM904 331h8.4v5.9h-8.4zM920 331h8.4v5.9h-8.4zM904 336.5h8.4v5.9h-8.4zM776 342h8.4v5.9h-8.4zM792 347.5h8.4v5.9h-8.4zM808 353h8.4v5.9h-8.4zM936 353h8.4v5.9h-8.4zM912 375h8.4v5.9h-8.4zM912 380.5h8.4v5.9h-8.4zM912 386h8.4v5.9h-8.4zM912 391.5h8.4v5.9h-8.4zM856 408h8.4v5.9h-8.4zM856 413.5h8.4v5.9h-8.4zM856 419h8.4v5.9h-8.4z"/><path fill="#28acdd" d="M952 243h8.4v5.9h-8.4zM912 248.5h8.4v5.9h-8.4zM896 259.5h8.4v5.9h-8.4zM856 265h8.4v5.9h-8.4zM888 265h8.4v5.9h-8.4zM840 320h8.4v5.9h-8.4zM840 325.5h8.4v5.9h-8.4zM840 331h8.4v5.9h-8.4zM840 336.5h8.4v5.9h-8.4zM928 336.5h8.4v5.9h-8.4zM840 342h8.4v5.9h-8.4zM896 342h8.4v5.9h-8.4zM840 347.5h8.4v5.9h-8.4zM944 353h8.4v5.9h-8.4zM904 375h8.4v5.9h-8.4zM864 380.5h8.4v5.9h-8.4zM904 402.5h8.4v5.9h-8.4z"/><path fill="#2aaed5" d="M960 243h8.4v5.9h-8.4zM920 248.5h8.4v5.9h-8.4zM904 254h8.4v5.9h-8.4zM904 259.5h8.4v5.9h-8.4zM848 265h8.4v5.9h-8.4zM896 265h8.4v5.9h-8.4zM896 325.5h8.4v5.9h-8.4zM896 331h8.4v5.9h-8.4zM896 336.5h8.4v5.9h-8.4zM896 364h8.4v5.9h-8.4zM864 375h8.4v5.9h-8.4zM904 397h8.4v5.9h-8.4z"/><path fill="#2cb0c6" d="M976 243h8.4v5.9h-8.4zM936 248.5h8.4v5.9h-8.4zM912 259.5h8.4v5.9h-8.4zM896 320h8.4v5.9h-8.4zM928 331h8.4v5.9h-8.4zM856 358.5h8.4v5.9h-8.4zM872 408h8.4v5.9h-8.4z"/><path fill="#2ca5dd" d="M872 248.5h24.4v5.9h-24.4zM816 254h8.4v5.9h-8.4zM872 254h16.4v5.9h-16.4zM832 259.5h56.4v5.9h-56.4zM896 347.5h8.4v5.9h-8.4zM864 391.5h8.4v5.9h-8.4zM904 413.5h8.4v5.9h-8.4z"/><path fill="#2eb2b6" d="M952 248.5h16.4v5.9h-16.4zM928 254h8.4v5.9h-8.4zM920 259.5h8.4v5.9h-8.4zM824 265h8.4v5.9h-8.4zM880 270.5h8.4v5.9h-8.4zM928 325.5h8.4v5.9h-8.4zM936 347.5h8.4v5.9h-8.4zM872 397h8.4v5.9h-8.4z"/><path fill="#37b696" d="M984 259.5h8.4v5.9h-8.4zM960 265h16.4v5.9h-16.4zM928 270.5h8.4v5.9h-8.4zM952 353h8.4v5.9h-8.4zM896 375h8.4v5.9h-8.4zM896 408h8.4v5.9h-8.4z"/><path fill="#39b691" d="M976 265h24.4v5.9h-24.4zM936 270.5h32.4v5.9h-32.4zM872 375h8.4v5.9h-8.4zM896 402.5h8.4v5.9h-8.4zM880 408h8.4v5.9h-8.4z"/><path fill="#3cb78b" d="M1000 265h8.4v5.9h-8.4zM848 270.5h8.4v5.9h-8.4zM968 270.5h40.4v5.9h-40.4zM960 276h56.4v5.9h-56.4zM960 281.5h56.4v5.9h-56.4zM960 287h56.4v5.9h-56.4zM960 292.5h56.4v5.9h-56.4zM808 298h8.4v5.9h-8.4zM960 298h56.4v5.9h-56.4zM984 303.5h32.4v5.9h-32.4zM936 342h8.4v5.9h-8.4zM864 358.5h8.4v5.9h-8.4zM872 369.5h8.4v5.9h-8.4zM896 397h8.4v5.9h-8.4zM880 402.5h8.4v5.9h-8.4z"/><path fill="#34af55" d="M816 270.5h8.4v5.9h-8.4zM920 287h8.4v5.9h-8.4zM920 292.5h8.4v5.9h-8.4zM920 298h8.4v5.9h-8.4zM920 303.5h8.4v5.9h-8.4zM904 309h8.4v5.9h-8.4z"/><path fill="#38b25f" d="M824 270.5h8.4v5.9h-8.4zM880 276h8.4v5.9h-8.4zM928 281.5h8.4v5.9h-8.4zM928 287h8.4v5.9h-8.4zM928 303.5h8.4v5.9h-8.4zM848 314.5h8.4v5.9h-8.4zM936 325.5h8.4v5.9h-8.4zM856 353h8.4v5.9h-8.4z"/><path fill="#3cb46a" d="M832 270.5h8.4v5.9h-8.4zM904 276h8.4v5.9h-8.4zM936 287h8.4v5.9h-8.4zM936 292.5h8.4v5.9h-8.4zM936 298h8.4v5.9h-8.4zM936 303.5h8.4v5.9h-8.4zM952 309h16.4v5.9h-16.4zM936 331h8.4v5.9h-8.4zM944 347.5h8.4v5.9h-8.4zM880 375h16.4v5.9h-16.4zM888 391.5h8.4v5.9h-8.4z"/><path fill="#42b87b" d="M840 270.5h8.4v5.9h-8.4zM936 276h8.4v5.9h-8.4zM944 281.5h8.4v5.9h-8.4zM944 287h8.4v5.9h-8.4zM944 292.5h8.4v5.9h-8.4zM944 298h8.4v5.9h-8.4zM1000 309h16.4v5.9h-16.4zM888 325.5h8.4v5.9h-8.4zM888 331h8.4v5.9h-8.4zM888 336.5h8.4v5.9h-8.4zM936 336.5h8.4v5.9h-8.4zM888 342h8.4v5.9h-8.4zM880 364h8.4v5.9h-8.4zM880 391.5h8.4v5.9h-8.4zM888 408h8.4v5.9h-8.4z"/><path fill="#2fac4b" d="M816 276h16.4v5.9h-16.4zM864 281.5h16.4v5.9h-16.4zM896 287h8.4v5.9h-8.4zM896 292.5h8.4v5.9h-8.4zM896 298h8.4v5.9h-8.4zM840 303.5h8.4v5.9h-8.4zM896 303.5h8.4v5.9h-8.4zM952 342h8.4v5.9h-8.4zM872 347.5h8.4v5.9h-8.4zM960 347.5h8.4v5.9h-8.4zM992 353h8.4v5.9h-8.4z"/><path fill="#30ad4d" d="M832 276h8.4v5.9h-8.4zM880 281.5h16.4v5.9h-16.4zM824 298h8.4v5.9h-8.4zM848 309h8.4v5.9h-8.4zM888 309h8.4v5.9h-8.4zM856 314.5h8.4v5.9h-8.4zM984 353h8.4v5.9h-8.4z"/><path fill="#31ae50" d="M840 276h8.4v5.9h-8.4zM832 303.5h8.4v5.9h-8.4zM896 309h8.4v5.9h-8.4zM952 314.5h24.4v5.9h-24.4zM856 320h8.4v5.9h-8.4zM944 331h8.4v5.9h-8.4zM952 347.5h8.4v5.9h-8.4zM864 353h8.4v5.9h-8.4zM976 353h8.4v5.9h-8.4z"/><path fill="#32ae51" d="M848 276h8.4v5.9h-8.4zM904 281.5h8.4v5.9h-8.4zM912 292.5h8.4v5.9h-8.4zM912 298h8.4v5.9h-8.4zM976 314.5h16.4v5.9h-16.4zM880 320h8.4v5.9h-8.4zM856 325.5h8.4v5.9h-8.4zM880 325.5h8.4v5.9h-8.4zM856 331h8.4v5.9h-8.4zM880 331h8.4v5.9h-8.4zM856 336.5h8.4v5.9h-8.4zM880 336.5h8.4v5.9h-8.4zM944 336.5h8.4v5.9h-8.4zM856 342h8.4v5.9h-8.4zM880 342h8.4v5.9h-8.4zM856 347.5h8.4v5.9h-8.4zM872 353h8.4v5.9h-8.4z"/><path fill="#34af54" d="M856 276h8.4v5.9h-8.4zM912 281.5h8.4v5.9h-8.4zM816 298h8.4v5.9h-8.4zM944 342h8.4v5.9h-8.4zM968 353h8.4v5.9h-8.4z"/><path fill="#35b057" d="M864 276h8.4v5.9h-8.4zM920 281.5h8.4v5.9h-8.4zM840 309h8.4v5.9h-8.4zM888 314.5h8.4v5.9h-8.4z"/><path fill="#36b059" d="M872 276h8.4v5.9h-8.4zM928 292.5h8.4v5.9h-8.4zM928 298h8.4v5.9h-8.4zM912 309h8.4v5.9h-8.4zM936 314.5h8.4v5.9h-8.4zM936 320h8.4v5.9h-8.4z"/><path fill="#3ab364" d="M888 276h16.4v5.9h-16.4zM920 309h32.4v5.9h-32.4zM880 353h8.4v5.9h-8.4zM960 353h8.4v5.9h-8.4zM888 380.5h8.4v5.9h-8.4zM888 386h8.4v5.9h-8.4z"/><path fill="#3eb570" d="M912 276h16.4v5.9h-16.4zM936 281.5h8.4v5.9h-8.4zM824 303.5h8.4v5.9h-8.4zM968 309h16.4v5.9h-16.4zM872 358.5h8.4v5.9h-8.4zM880 369.5h8.4v5.9h-8.4zM880 380.5h8.4v5.9h-8.4zM888 397h8.4v5.9h-8.4z"/><path fill="#40b675" d="M928 276h8.4v5.9h-8.4zM944 303.5h8.4v5.9h-8.4zM984 309h16.4v5.9h-16.4zM888 320h8.4v5.9h-8.4zM880 386h8.4v5.9h-8.4zM888 402.5h8.4v5.9h-8.4z"/><path fill="#40b880" d="M944 276h8.4v5.9h-8.4zM952 303.5h8.4v5.9h-8.4zM896 314.5h8.4v5.9h-8.4zM928 314.5h8.4v5.9h-8.4zM848 320h8.4v5.9h-8.4zM888 369.5h8.4v5.9h-8.4zM880 397h8.4v5.9h-8.4z"/><path fill="#3eb786" d="M952 276h8.4v5.9h-8.4zM952 281.5h8.4v5.9h-8.4zM952 287h8.4v5.9h-8.4zM952 292.5h8.4v5.9h-8.4zM952 298h8.4v5.9h-8.4zM960 303.5h24.4v5.9h-24.4zM848 325.5h8.4v5.9h-8.4zM848 331h8.4v5.9h-8.4zM848 336.5h8.4v5.9h-8.4zM848 342h8.4v5.9h-8.4zM848 347.5h8.4v5.9h-8.4zM888 347.5h8.4v5.9h-8.4zM880 358.5h8.4v5.9h-8.4zM872 364h8.4v5.9h-8.4zM896 380.5h8.4v5.9h-8.4zM896 386h8.4v5.9h-8.4zM896 391.5h8.4v5.9h-8.4zM888 413.5h8.4v5.9h-8.4z"/><path fill="#35ad49" d="M808 281.5h24.4v5.9h-24.4zM808 287h72.4v5.9h-72.4zM824 292.5h64.4v5.9h-64.4zM840 298h48.4v5.9h-48.4zM848 303.5h40.4v5.9h-40.4zM864 309h16.4v5.9h-16.4zM864 314.5h8.4v5.9h-8.4zM968 320h16.4v5.9h-16.4zM960 325.5h16.4v5.9h-16.4zM1000 325.5h16.4v5.9h-16.4zM960 331h8.4v5.9h-8.4zM960 336.5h8.4v5.9h-8.4zM960 342h16.4v5.9h-16.4zM968 347.5h32.4v5.9h-32.4z"/><path fill="#2fac4a" d="M832 281.5h32.4v5.9h-32.4zM880 287h16.4v5.9h-16.4zM816 292.5h8.4v5.9h-8.4zM888 292.5h8.4v5.9h-8.4zM832 298h8.4v5.9h-8.4zM888 298h8.4v5.9h-8.4zM888 303.5h8.4v5.9h-8.4zM856 309h8.4v5.9h-8.4zM880 309h8.4v5.9h-8.4zM872 314.5h8.4v5.9h-8.4zM864 320h16.4v5.9h-16.4zM952 320h16.4v5.9h-16.4zM984 320h32.4v5.9h-32.4zM864 325.5h16.4v5.9h-16.4zM952 325.5h8.4v5.9h-8.4zM864 331h16.4v5.9h-16.4zM952 331h8.4v5.9h-8.4zM864 336.5h16.4v5.9h-16.4zM952 336.5h8.4v5.9h-8.4zM864 342h16.4v5.9h-16.4zM864 347.5h8.4v5.9h-8.4zM1000 353h8.4v5.9h-8.4z"/><path fill="#30ad4e" d="M896 281.5h8.4v5.9h-8.4zM904 287h8.4v5.9h-8.4zM808 292.5h8.4v5.9h-8.4zM904 292.5h8.4v5.9h-8.4zM904 298h8.4v5.9h-8.4zM904 303.5h8.4v5.9h-8.4zM880 314.5h8.4v5.9h-8.4zM944 320h8.4v5.9h-8.4zM944 325.5h8.4v5.9h-8.4z"/><path fill="#33ae52" d="M912 287h8.4v5.9h-8.4zM912 303.5h8.4v5.9h-8.4zM944 314.5h8.4v5.9h-8.4zM992 314.5h16.4v5.9h-16.4zM880 347.5h8.4v5.9h-8.4z"/><path fill="#3aae49" d="M976 325.5h24.4v5.9h-24.4zM968 331h48.4v5.9h-48.4zM968 336.5h48.4v5.9h-48.4zM976 342h40.4v5.9h-40.4zM1000 347.5h8.4v5.9h-8.4z"/><path fill="#8056aa" d="M960 364h8.4v5.9h-8.4zM976 364h8.4v5.9h-8.4z"/><path fill="#8758ac" d="M968 364h8.4v5.9h-8.4zM952 369.5h8.4v5.9h-8.4zM952 408h8.4v5.9h-8.4zM952 413.5h8.4v5.9h-8.4z"/><path fill="#955aae" d="M960 369.5h8.4v5.9h-8.4zM960 408h8.4v5.9h-8.4zM960 413.5h8.4v5.9h-8.4z"/><path fill="#9c5baf" d="M968 369.5h8.4v5.9h-8.4zM960 375h8.4v5.9h-8.4zM960 380.5h8.4v5.9h-8.4zM960 386h8.4v5.9h-8.4zM960 391.5h8.4v5.9h-8.4zM960 397h8.4v5.9h-8.4zM960 402.5h8.4v5.9h-8.4zM968 413.5h8.4v5.9h-8.4z"/><path fill="#a35fb2" d="M976 369.5h24.4v5.9h-24.4zM968 375h16.4v5.9h-16.4zM968 380.5h16.4v5.9h-16.4zM968 386h16.4v5.9h-16.4zM968 391.5h16.4v5.9h-16.4zM968 397h16.4v5.9h-16.4zM968 402.5h16.4v5.9h-16.4zM968 408h16.4v5.9h-16.4z"/><path fill="#8e59ad" d="M952 375h8.4v5.9h-8.4zM952 380.5h8.4v5.9h-8.4zM952 386h8.4v5.9h-8.4zM952 391.5h8.4v5.9h-8.4zM952 397h8.4v5.9h-8.4zM952 402.5h8.4v5.9h-8.4z"/><path fill="#a967b7" d="M984 375h16.4v5.9h-16.4zM984 380.5h24.4v5.9h-24.4zM984 386h16.4v5.9h-16.4zM984 391.5h16.4v5.9h-16.4zM984 397h16.4v5.9h-16.4zM984 402.5h8.4v5.9h-8.4z"/></g><g fill="none" stroke="#0a0a0a" stroke-width="2.5" stroke-linecap="round" stroke-linejoin="round"><path d="M857.9 144.3C860 143.1 866.5 139.6 870.3 136.9C874.1 134.2 878.2 130 880.5 127.9C882.8 125.8 883.7 125.1 884.3 124.5"/><path d="M868.5 165.1 L886.1 157.2"/><path d="M888.8 155.8C891.4 154.5 899.4 150.8 904.2 148.2C909 145.6 915.4 141.6 917.7 140.3"/><path d="M889.5 231C892.3 230.9 900.6 231.6 906.4 230.6C912.2 229.6 918.5 227.3 924.5 225C930.5 222.7 937.1 219.3 942.6 217C948 214.7 954.8 212.3 957.2 211.4"/><path d="M852.2 269.4C854.5 270.1 860.5 273 865.8 273.5C871.1 274 878.1 273.7 883.8 272.4C889.4 271.1 895.5 268 899.7 265.6C903.8 263.1 905.5 259.9 908.7 257.7C911.9 255.6 917.1 253.5 918.8 252.7"/><path d="M830.8 313C832 313.7 836.1 315.1 838.3 317C840.5 318.9 842.9 320.9 844.2 324.3C845.5 327.7 845.7 332.9 846.1 337.2C846.5 341.5 845.6 346.4 846.8 350.1C848 353.7 850.8 356.3 853.2 359.1C855.5 361.9 858.8 363.7 860.9 366.9C863 370.1 864.4 373.8 865.5 378.5C866.6 383.2 867 390 867.4 395.3C867.8 400.6 867.9 407.6 868 410.1"/><path d="M863.5 337.2C863.7 338.3 863.5 341.8 864.8 343.7C866.1 345.6 868.9 348.3 871.3 348.8C873.7 349.3 877 348.2 879 346.9C881 345.6 882.6 342.9 883.5 341.1C884.4 339.3 884.1 336.8 884.2 335.9"/><path d="M898.4 321.7C899.9 321.1 903.8 318.8 907.4 317.9C911 317.1 916.4 316.3 920.3 316.6C924.2 316.9 928 318.3 930.6 319.8C933.2 321.3 934.9 324.6 935.8 325.6"/><path d="M909.3 339.8C909.8 340.3 911.2 342.3 912.6 343C914 343.7 916 344 917.7 343.7C919.4 343.4 922 341.5 922.9 341.1"/><path d="M896.4 338.5C896.4 340 896 344.9 896.4 347.5C896.8 350.1 897.9 352.7 899 354C900.1 355.3 902.2 355.1 902.9 355.3"/><path d="M937.7 343C938.4 343.9 940.6 346.8 942.2 348.2C943.8 349.6 946.5 350.9 947.4 351.4"/><path d="M873.6 372C873.7 373.9 873.2 379.2 874.1 383.7C875 388.2 876.9 395 879 399.1C881.1 403.2 884.6 406.3 886.8 408.2C888.9 410.2 890 410.8 891.9 410.8C893.8 410.8 896 410.6 898.4 408.2C900.8 405.8 904.3 400.7 906.1 396.6C907.9 392.5 909 387.6 909.3 383.7C909.6 379.8 908.2 375 908 373.3"/><path d="M915.8 368.8C915.9 372.1 916.5 382 916.2 388.8C915.9 395.6 914.2 406.1 913.8 409.5"/><path d="M922.9 368.8C922.6 371.1 921.3 377.4 921.3 382.4C921.3 387.5 922.2 394.4 922.9 399.1C923.6 403.8 925.1 408.8 925.5 410.8"/><path d="M774.3 377.4C778.2 376.5 790.3 373.2 798 371.7C805.7 370.2 813.8 368.7 820.6 368.3C827.4 367.9 834.1 368.2 838.7 369.5C843.3 370.8 845.5 373.5 848 375.9C850.5 378.3 852.9 380.7 853.8 383.7C854.7 386.7 854.2 390.6 853.2 394C852.2 397.4 849.9 401 848 404.3C846.1 407.6 842.7 412.4 841.6 414"/><path d="M943.5 401.7C942.2 400 937.7 394.6 935.8 391.4C933.9 388.2 931.9 385.2 931.9 382.4C931.9 379.6 933.9 376.5 935.8 374.6C937.7 372.7 940.1 371.6 943.5 370.8C946.9 369.9 952.1 369.4 956.4 369.5C960.7 369.6 965 370.4 969.3 371.4C973.6 372.4 978.3 374.1 982.2 375.3C986.1 376.5 990.9 378 992.6 378.5"/><path d="M951.3 413.3 L959 408.8"/></g><g class="s" fill="#0a0a0a" text-anchor="middle"><text transform="translate(865.3,228.3) rotate(0)" y="6.6" style="font-size:20px;font-style:italic;">1.5</text><text transform="translate(931.9,250.9) rotate(-20)" y="6.6" style="font-size:20px;font-style:italic;">2</text><text transform="translate(813.8,309.2) rotate(45)" y="6.6" style="font-size:20px;font-style:italic;">2</text><text transform="translate(871.3,327.5) rotate(0)" y="6.8" style="font-size:20.5px;font-style:italic;">2.5</text><text transform="translate(917.7,331.4) rotate(0)" y="6.8" style="font-size:20.5px;font-style:italic;">1.5</text><text transform="translate(887.4,362.4) rotate(0)" y="6.8" style="font-size:20.5px;font-style:italic;">2.5</text><text transform="translate(936.4,359.1) rotate(0)" y="6.8" style="font-size:20.5px;font-style:italic;">1.5</text><text transform="translate(965.5,358.9) rotate(0)" y="7.3" style="font-size:22px;font-weight:bold;">=</text><text transform="translate(983.5,356.5) rotate(0)" y="6.8" style="font-size:20.5px;font-style:italic;">2</text><text transform="translate(749.5,382.3) rotate(0)" y="6.6" style="font-size:20px;">1.5</text></g></g></g><use href="#tisl"/><use href="#tdots"/><use href="#tframe"/><text class="odv" transform="translate(1110.5,445) rotate(-90)">Ocean Data View</text><text class="ax" text-anchor="end" x="642.5" y="103.7">21.7°N</text><text class="ax" text-anchor="end" x="642.5" y="189.9">21.6°N</text><text class="ax" text-anchor="end" x="642.5" y="276.1">21.5°N</text><text class="ax" text-anchor="end" x="642.5" y="362.3">21.4°N</text><text class="ax" text-anchor="end" x="642.5" y="448.5">21.3°N</text></g>
<text class="a" x="135" y="412.6">A</text><text class="a" x="682.5" y="411.8">B</text><text class="a" x="133.9" y="843.8">C</text><text class="a" x="682.1" y="843.9">D</text><text class="a" x="134.4" y="1264.3">E</text><text class="a" x="686.6" y="1264.5">F</text><text class="a" x="134.1" y="1681.3">G</text><text class="a" x="682.3" y="1681">H</text>
<text class="s" x="322" y="41" text-anchor="middle" style="font-size:29.3px" fill="#1a1a1a">Qinzhou bay</text>
<text class="s" x="893" y="41" text-anchor="middle" style="font-size:29px" fill="#1a1a1a">Tieshangang bay</text>
<text class="ax" text-anchor="middle" x="110" y="1744.5">108.4°E</text><text class="ax" text-anchor="middle" x="208.3" y="1744.5">108.5°E</text><text class="ax" text-anchor="middle" x="306.7" y="1744.5">108.6°E</text><text class="ax" text-anchor="middle" x="405" y="1744.5">108.7°E</text><text class="ax" text-anchor="middle" x="503.3" y="1744.5">108.8°E</text><text class="ax" text-anchor="middle" x="663.3" y="1739.5">109.3°E</text><text class="ax" text-anchor="middle" x="741.6" y="1739.5">109.4°E</text><text class="ax" text-anchor="middle" x="819.9" y="1739.5">109.5°E</text><text class="ax" text-anchor="middle" x="898.2" y="1739.5">109.6°E</text><text class="ax" text-anchor="middle" x="976.5" y="1739.5">109.7°E</text><text class="ax" text-anchor="middle" x="1054.8" y="1739.5">109.8°E</text>
<rect x="1118.3" y="64.8" width="13.6" height="384.4" fill="url(#cb)"/><path d="M1118.3 65.1L1124.1 58.8L1126.1 58.8L1131.9 65.1Z" fill="#f8ba84"/><path d="M1118.3 448.9L1124.1 455.5L1126.1 455.5L1131.9 448.9Z" fill="#c88cd0"/><path d="M1118.3 64.4h2M1131.9 64.4h-2" stroke="#333" stroke-width="0.5" opacity="0.6"/><text class="cl" x="1137.5" y="71.6">28</text><path d="M1118.3 141.4h2M1131.9 141.4h-2" stroke="#333" stroke-width="0.5" opacity="0.6"/><text class="cl" x="1137.5" y="148.6">27</text><path d="M1118.3 218.4h2M1131.9 218.4h-2" stroke="#333" stroke-width="0.5" opacity="0.6"/><text class="cl" x="1137.5" y="225.6">26</text><path d="M1118.3 295.4h2M1131.9 295.4h-2" stroke="#333" stroke-width="0.5" opacity="0.6"/><text class="cl" x="1137.5" y="302.6">25</text><path d="M1118.3 372.4h2M1131.9 372.4h-2" stroke="#333" stroke-width="0.5" opacity="0.6"/><text class="cl" x="1137.5" y="379.6">24</text><path d="M1118.3 449.4h2M1131.9 449.4h-2" stroke="#333" stroke-width="0.5" opacity="0.6"/><text class="cl" x="1137.5" y="456.6">23</text><text class="ct" text-anchor="middle" transform="translate(1205.5,255.3) rotate(-90)"><tspan style="font-size:30px">T (°C)</tspan></text>
<rect x="1120.1" y="480.2" width="13.6" height="383.2" fill="url(#cb)"/><path d="M1120.1 480.5L1125.9 474.2L1127.9 474.2L1133.7 480.5Z" fill="#f8ba84"/><path d="M1120.1 863.1L1125.9 869.7L1127.9 869.7L1133.7 863.1Z" fill="#c88cd0"/><path d="M1120.1 480.1h2M1133.7 480.1h-2" stroke="#333" stroke-width="0.5" opacity="0.6"/><text class="cl" x="1139.3" y="487.3">32.5</text><path d="M1120.1 534.8h2M1133.7 534.8h-2" stroke="#333" stroke-width="0.5" opacity="0.6"/><text class="cl" x="1139.3" y="542">32</text><path d="M1120.1 589.5h2M1133.7 589.5h-2" stroke="#333" stroke-width="0.5" opacity="0.6"/><text class="cl" x="1139.3" y="596.7">31.5</text><path d="M1120.1 644.2h2M1133.7 644.2h-2" stroke="#333" stroke-width="0.5" opacity="0.6"/><text class="cl" x="1139.3" y="651.4">31</text><path d="M1120.1 698.9h2M1133.7 698.9h-2" stroke="#333" stroke-width="0.5" opacity="0.6"/><text class="cl" x="1139.3" y="706.1">30.5</text><path d="M1120.1 753.6h2M1133.7 753.6h-2" stroke="#333" stroke-width="0.5" opacity="0.6"/><text class="cl" x="1139.3" y="760.8">30</text><path d="M1120.1 808.3h2M1133.7 808.3h-2" stroke="#333" stroke-width="0.5" opacity="0.6"/><text class="cl" x="1139.3" y="815.5">29.5</text><path d="M1120.1 863h2M1133.7 863h-2" stroke="#333" stroke-width="0.5" opacity="0.6"/><text class="cl" x="1139.3" y="870.2">29</text><text class="ct" text-anchor="middle" transform="translate(1217.5,676.4) rotate(-90)">Salinity</text>
<rect x="1122.2" y="894.8" width="13.6" height="384.2" fill="url(#cb)"/><path d="M1122.2 895.1L1128 888.8L1130 888.8L1135.8 895.1Z" fill="#f8ba84"/><path d="M1122.2 1278.7L1128 1285.3L1130 1285.3L1135.8 1278.7Z" fill="#c88cd0"/><path d="M1122.2 894.7h2M1135.8 894.7h-2" stroke="#333" stroke-width="0.5" opacity="0.6"/><text class="cl" x="1141.4" y="901.9">8</text><path d="M1122.2 971.6h2M1135.8 971.6h-2" stroke="#333" stroke-width="0.5" opacity="0.6"/><text class="cl" x="1141.4" y="978.8">7.5</text><path d="M1122.2 1048.4h2M1135.8 1048.4h-2" stroke="#333" stroke-width="0.5" opacity="0.6"/><text class="cl" x="1141.4" y="1055.6">7</text><path d="M1122.2 1125.3h2M1135.8 1125.3h-2" stroke="#333" stroke-width="0.5" opacity="0.6"/><text class="cl" x="1141.4" y="1132.5">6.5</text><path d="M1122.2 1202.1h2M1135.8 1202.1h-2" stroke="#333" stroke-width="0.5" opacity="0.6"/><text class="cl" x="1141.4" y="1209.3">6</text><path d="M1122.2 1279h2M1135.8 1279h-2" stroke="#333" stroke-width="0.5" opacity="0.6"/><text class="cl" x="1141.4" y="1286.2">5.5</text><text class="ct" text-anchor="middle" transform="translate(1211.5,1072) rotate(-90)">DO (mg L<tspan dy="-11" style="font-size:18px">-1</tspan><tspan dy="11">)</tspan></text>
<rect x="1118.3" y="1327.2" width="13.6" height="382.8" fill="url(#cb)"/><path d="M1118.3 1327.5L1124.1 1321.2L1126.1 1321.2L1131.9 1327.5Z" fill="#f8ba84"/><path d="M1118.3 1709.7L1124.1 1716.3L1126.1 1716.3L1131.9 1709.7Z" fill="#c88cd0"/><path d="M1118.3 1327h2M1131.9 1327h-2" stroke="#333" stroke-width="0.5" opacity="0.6"/><text class="cl" x="1137.5" y="1334.2">4.5</text><path d="M1118.3 1380.1h2M1131.9 1380.1h-2" stroke="#333" stroke-width="0.5" opacity="0.6"/><text class="cl" x="1137.5" y="1387.3">4</text><path d="M1118.3 1433.2h2M1131.9 1433.2h-2" stroke="#333" stroke-width="0.5" opacity="0.6"/><text class="cl" x="1137.5" y="1440.4">3.5</text><path d="M1118.3 1486.3h2M1131.9 1486.3h-2" stroke="#333" stroke-width="0.5" opacity="0.6"/><text class="cl" x="1137.5" y="1493.5">3</text><path d="M1118.3 1539.4h2M1131.9 1539.4h-2" stroke="#333" stroke-width="0.5" opacity="0.6"/><text class="cl" x="1137.5" y="1546.6">2.5</text><path d="M1118.3 1592.5h2M1131.9 1592.5h-2" stroke="#333" stroke-width="0.5" opacity="0.6"/><text class="cl" x="1137.5" y="1599.7">2</text><path d="M1118.3 1645.6h2M1131.9 1645.6h-2" stroke="#333" stroke-width="0.5" opacity="0.6"/><text class="cl" x="1137.5" y="1652.8">1.5</text><path d="M1118.3 1698.7h2M1131.9 1698.7h-2" stroke="#333" stroke-width="0.5" opacity="0.6"/><text class="cl" x="1137.5" y="1705.9">1</text><text class="ct" text-anchor="middle" transform="translate(1209,1500.6) rotate(-90)">Chl <tspan style="font-style:italic">a</tspan> (µg L<tspan dy="-11" style="font-size:18px">-1</tspan><tspan dy="11">)</tspan></text>
</svg>
</body></html>
